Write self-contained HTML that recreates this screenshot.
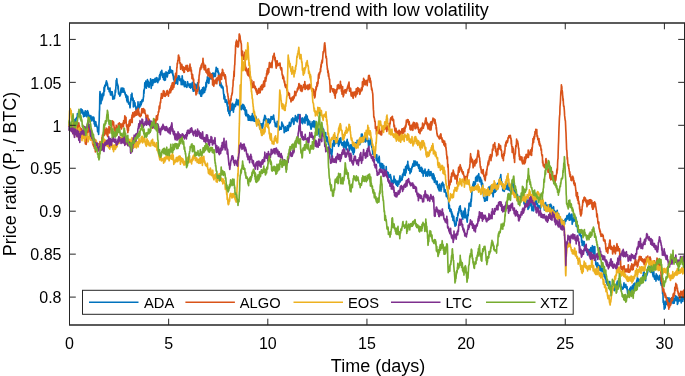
<!DOCTYPE html>
<html><head><meta charset="utf-8"><style>html,body{margin:0;padding:0;background:#fff;overflow:hidden}svg{display:block;will-change:transform}</style></head>
<body><svg width="685" height="376" viewBox="0 0 685 376"><rect x="0" y="0" width="685" height="376" fill="#fff"/><path d="M69.0 125.5 69.2 123.0 69.4 125.0 69.6 126.5 69.8 125.5 70.0 127.5 70.2 123.3 70.4 128.4 70.6 126.3 70.8 129.2 71.0 127.9 71.2 130.5 71.4 128.4 71.6 126.7 71.8 127.6 72.0 129.6 72.2 128.0 72.4 131.6 72.6 130.4 72.8 127.8 73.0 124.3 73.2 124.7 73.4 124.3 73.6 128.0 73.8 126.2 74.0 124.1 74.2 122.3 74.4 119.9 74.6 122.1 74.8 120.2 75.0 122.3 75.2 121.1 75.4 119.0 75.6 120.9 75.8 123.4 76.0 119.5 76.2 118.3 76.4 118.7 76.6 117.5 76.8 117.3 77.0 117.0 77.2 118.4 77.4 113.6 77.6 114.2 77.8 114.6 78.0 113.9 78.2 115.3 78.4 115.4 78.6 115.9 78.8 113.3 79.0 114.0 79.2 113.6 79.4 114.0 79.6 113.1 79.8 115.2 80.0 114.6 80.2 113.8 80.4 113.3 80.6 110.9 80.8 110.9 81.0 108.9 81.2 111.0 81.4 110.7 81.6 111.6 81.8 112.6 82.0 112.6 82.2 109.8 82.4 113.6 82.6 110.8 82.8 110.8 83.0 114.2 83.2 113.5 83.4 112.4 83.6 116.8 83.8 113.0 84.0 114.0 84.2 115.2 84.4 112.3 84.6 113.7 84.8 114.2 85.0 116.2 85.2 110.8 85.4 111.6 85.6 113.8 85.8 113.4 86.0 111.2 86.2 114.4 86.4 113.6 86.6 114.6 86.8 116.8 87.0 115.9 87.2 115.8 87.4 114.4 87.6 110.7 87.8 112.4 88.0 112.6 88.2 112.3 88.4 115.9 88.6 114.1 88.8 117.7 89.0 119.4 89.2 115.4 89.4 116.8 89.6 116.7 89.8 119.9 90.0 117.7 90.2 117.3 90.4 117.1 90.6 116.9 90.8 115.6 91.0 117.7 91.2 116.7 91.4 119.1 91.6 118.8 91.8 120.9 92.0 117.8 92.2 119.0 92.4 117.0 92.6 118.0 92.8 118.2 93.0 117.8 93.2 119.0 93.4 120.2 93.6 117.0 93.8 121.5 94.0 117.8 94.2 124.0 94.4 120.9 94.6 122.5 94.8 121.6 95.0 126.3 95.2 123.0 95.4 125.0 95.6 124.2 95.8 121.7 96.0 123.8 96.2 124.4 96.4 124.6 96.6 126.6 96.8 125.8 97.0 126.9 97.2 126.8 97.4 128.3 97.6 131.8 97.8 129.8 98.0 130.2 98.2 128.4 98.4 128.3 98.6 134.4 98.8 130.5 99.0 123.5 99.2 120.0 99.4 111.7 99.6 109.1 99.8 95.2 100.0 91.6 100.2 94.3 100.4 93.6 100.6 95.7 100.8 100.1 101.0 103.6 101.2 98.1 101.4 95.5 101.6 100.6 101.8 100.6 102.0 97.6 102.2 94.2 102.4 99.3 102.6 96.3 102.8 97.2 103.0 94.2 103.2 92.7 103.4 92.7 103.6 95.5 103.8 94.8 104.0 87.6 104.2 87.1 104.4 91.4 104.6 88.0 104.8 85.3 105.0 87.0 105.2 86.5 105.4 86.4 105.6 84.2 105.8 84.9 106.0 82.3 106.2 83.3 106.4 80.8 106.6 81.4 106.8 82.4 107.0 85.1 107.2 83.0 107.4 84.1 107.6 85.2 107.8 86.1 108.0 89.1 108.2 87.6 108.4 88.6 108.6 89.3 108.8 88.2 109.0 88.4 109.2 91.6 109.4 91.2 109.6 89.8 109.8 88.5 110.0 88.1 110.2 92.7 110.4 93.9 110.6 95.0 110.8 91.2 111.0 94.9 111.2 92.0 111.4 93.2 111.6 94.1 111.8 91.9 112.0 93.2 112.2 91.8 112.4 96.3 112.6 94.1 112.8 99.2 113.0 99.1 113.2 98.9 113.4 97.5 113.6 96.6 113.8 98.0 114.0 96.8 114.2 98.0 114.4 98.7 114.6 96.5 114.8 95.8 115.0 95.1 115.2 90.2 115.4 90.5 115.6 92.1 115.8 87.7 116.0 85.5 116.2 80.4 116.4 83.9 116.6 82.5 116.8 78.7 117.0 81.5 117.2 83.9 117.4 83.6 117.6 85.6 117.8 84.8 118.0 89.2 118.2 86.1 118.4 90.3 118.6 93.9 118.8 91.9 119.0 93.7 119.2 94.3 119.4 93.8 119.6 95.0 119.8 96.2 120.0 94.1 120.2 93.4 120.4 94.9 120.6 94.3 120.8 89.9 121.0 89.5 121.2 88.0 121.4 91.9 121.6 92.1 121.8 92.4 122.0 89.6 122.2 88.5 122.4 90.0 122.6 88.1 122.8 88.1 123.0 90.6 123.2 92.2 123.4 92.1 123.6 90.1 123.8 88.5 124.0 91.2 124.2 91.5 124.4 90.8 124.6 92.0 124.8 92.0 125.0 94.1 125.2 92.9 125.4 95.3 125.6 94.6 125.8 95.8 126.0 97.3 126.2 94.9 126.4 95.0 126.6 97.9 126.8 100.6 127.0 99.3 127.2 102.0 127.4 98.3 127.6 98.3 127.8 96.2 128.0 98.9 128.2 101.9 128.4 101.2 128.6 103.9 128.8 104.0 129.0 102.8 129.2 103.2 129.4 104.2 129.6 104.6 129.8 105.2 130.0 107.8 130.2 105.8 130.4 102.1 130.6 102.1 130.8 98.5 131.0 99.3 131.2 94.5 131.4 95.4 131.6 99.4 131.8 95.4 132.0 93.2 132.2 97.6 132.4 100.1 132.6 97.8 132.8 98.4 133.0 98.2 133.2 99.6 133.4 106.9 133.6 101.6 133.8 100.5 134.0 100.7 134.2 103.0 134.4 103.5 134.6 104.9 134.8 104.9 135.0 102.7 135.2 106.6 135.4 105.7 135.6 106.8 135.8 107.3 136.0 109.9 136.2 110.3 136.4 110.3 136.6 108.9 136.8 109.9 137.0 109.2 137.2 107.7 137.4 108.2 137.6 106.0 137.8 108.3 138.0 101.9 138.2 105.9 138.4 105.8 138.6 107.9 138.8 109.0 139.0 105.3 139.2 106.3 139.4 104.3 139.6 107.5 139.8 105.8 140.0 104.8 140.2 101.8 140.4 103.1 140.6 106.0 140.8 104.4 141.0 104.0 141.2 104.4 141.4 101.4 141.6 103.3 141.8 100.5 142.0 101.9 142.2 99.7 142.4 101.7 142.6 100.6 142.8 101.4 143.0 100.8 143.2 99.5 143.4 97.1 143.6 96.9 143.8 90.4 144.0 93.5 144.2 89.4 144.4 89.4 144.6 87.9 144.8 82.8 145.0 84.1 145.2 86.9 145.4 87.2 145.6 83.1 145.8 81.0 146.0 86.7 146.2 82.3 146.4 88.1 146.6 83.7 146.8 81.8 147.0 82.6 147.2 85.2 147.4 79.5 147.6 85.9 147.8 83.8 148.0 86.2 148.2 83.2 148.4 81.4 148.6 85.2 148.8 85.9 149.0 87.5 149.2 87.1 149.4 85.0 149.6 82.7 149.8 82.7 150.0 84.5 150.2 83.5 150.4 83.6 150.6 78.9 150.8 84.0 151.0 83.0 151.2 88.5 151.4 84.7 151.6 83.0 151.8 84.3 152.0 80.5 152.2 82.0 152.4 79.7 152.6 85.4 152.8 83.9 153.0 79.8 153.2 81.4 153.4 82.9 153.6 83.0 153.8 81.8 154.0 79.6 154.2 81.0 154.4 81.4 154.6 81.3 154.8 78.8 155.0 79.8 155.2 82.2 155.4 78.2 155.6 81.0 155.8 78.9 156.0 80.6 156.2 81.6 156.4 79.5 156.6 80.6 156.8 77.5 157.0 78.6 157.2 80.1 157.4 80.7 157.6 79.0 157.8 82.7 158.0 79.5 158.2 79.3 158.4 80.7 158.6 79.1 158.8 80.8 159.0 78.2 159.2 79.8 159.4 75.5 159.6 76.7 159.8 74.3 160.0 79.1 160.2 74.7 160.4 76.2 160.6 72.0 160.8 75.2 161.0 74.9 161.2 71.3 161.4 74.3 161.6 73.0 161.8 70.4 162.0 73.7 162.2 73.6 162.4 73.1 162.6 77.3 162.8 75.3 163.0 74.7 163.2 75.1 163.4 74.2 163.6 79.6 163.8 74.0 164.0 78.2 164.2 78.4 164.4 73.4 164.6 75.0 164.8 80.4 165.0 78.4 165.2 78.9 165.4 79.9 165.6 76.7 165.8 74.7 166.0 71.8 166.2 75.3 166.4 74.0 166.6 75.7 166.8 75.7 167.0 72.8 167.2 77.0 167.4 76.0 167.6 75.3 167.8 72.5 168.0 74.0 168.2 72.6 168.4 73.2 168.6 70.9 168.8 73.0 169.0 72.6 169.2 71.0 169.4 69.9 169.6 73.2 169.8 71.5 170.0 66.6 170.2 69.5 170.4 70.6 170.6 72.1 170.8 70.6 171.0 70.0 171.2 70.0 171.4 72.7 171.6 71.3 171.8 71.0 172.0 71.8 172.2 72.7 172.4 71.9 172.6 70.7 172.8 75.2 173.0 73.9 173.2 75.8 173.4 77.0 173.6 79.3 173.8 79.8 174.0 76.2 174.2 78.0 174.4 77.9 174.6 84.1 174.8 82.9 175.0 83.4 175.2 82.2 175.4 79.8 175.6 83.5 175.8 82.1 176.0 81.2 176.2 80.1 176.4 81.9 176.6 81.0 176.8 77.5 177.0 83.2 177.2 81.8 177.4 81.4 177.6 84.3 177.8 81.4 178.0 78.3 178.2 75.9 178.4 79.2 178.6 79.5 178.8 79.2 179.0 76.1 179.2 76.4 179.4 76.1 179.6 78.6 179.8 80.3 180.0 80.6 180.2 78.8 180.4 80.0 180.6 79.5 180.8 79.0 181.0 80.1 181.2 84.7 181.4 80.6 181.6 81.9 181.8 79.8 182.0 80.3 182.2 75.9 182.4 78.9 182.6 82.4 182.8 84.8 183.0 83.4 183.2 83.2 183.4 83.6 183.6 80.4 183.8 81.6 184.0 84.0 184.2 83.1 184.4 86.6 184.6 83.4 184.8 82.0 185.0 83.7 185.2 81.7 185.4 81.7 185.6 86.3 185.8 85.7 186.0 85.8 186.2 86.9 186.4 86.9 186.6 85.0 186.8 87.5 187.0 87.1 187.2 85.1 187.4 85.2 187.6 81.7 187.8 83.1 188.0 84.8 188.2 85.2 188.4 84.1 188.6 83.9 188.8 84.3 189.0 86.1 189.2 85.7 189.4 87.1 189.6 84.1 189.8 85.4 190.0 86.2 190.2 86.5 190.4 85.3 190.6 88.1 190.8 84.4 191.0 83.7 191.2 86.2 191.4 87.3 191.6 84.5 191.8 85.9 192.0 84.0 192.2 83.2 192.4 82.3 192.6 84.3 192.8 89.6 193.0 86.7 193.2 91.2 193.4 87.0 193.6 89.7 193.8 91.2 194.0 89.8 194.2 89.3 194.4 85.5 194.6 87.3 194.8 83.9 195.0 90.5 195.2 85.5 195.4 86.3 195.6 84.6 195.8 86.5 196.0 85.0 196.2 89.4 196.4 86.7 196.6 87.9 196.8 85.1 197.0 85.6 197.2 87.9 197.4 84.2 197.6 82.9 197.8 87.3 198.0 83.5 198.2 83.8 198.4 85.8 198.6 85.8 198.8 89.7 199.0 87.3 199.2 91.7 199.4 93.7 199.6 90.7 199.8 91.9 200.0 91.1 200.2 93.0 200.4 93.6 200.6 91.0 200.8 96.1 201.0 92.7 201.2 93.8 201.4 89.9 201.6 96.3 201.8 92.5 202.0 92.8 202.2 91.5 202.4 92.6 202.6 87.9 202.8 90.6 203.0 93.8 203.2 89.1 203.4 89.4 203.6 88.2 203.8 87.1 204.0 88.7 204.2 91.4 204.4 92.2 204.6 92.5 204.8 89.6 205.0 89.8 205.2 88.2 205.4 90.0 205.6 88.9 205.8 85.4 206.0 82.3 206.2 87.0 206.4 86.3 206.6 82.7 206.8 80.2 207.0 80.4 207.2 82.5 207.4 76.9 207.6 77.2 207.8 79.5 208.0 82.5 208.2 81.1 208.4 81.1 208.6 79.0 208.8 83.4 209.0 82.0 209.2 79.5 209.4 77.2 209.6 77.3 209.8 79.1 210.0 75.5 210.2 77.4 210.4 78.4 210.6 77.9 210.8 77.9 211.0 77.8 211.2 75.9 211.4 75.3 211.6 79.0 211.8 73.9 212.0 74.9 212.2 77.2 212.4 76.4 212.6 74.3 212.8 73.0 213.0 77.5 213.2 76.3 213.4 76.3 213.6 73.6 213.8 75.9 214.0 73.2 214.2 76.5 214.4 73.6 214.6 75.7 214.8 76.4 215.0 76.2 215.2 73.5 215.4 76.2 215.6 71.4 215.8 70.1 216.0 70.0 216.2 67.3 216.4 70.1 216.6 70.9 216.8 70.9 217.0 71.5 217.2 70.4 217.4 71.0 217.6 68.5 217.8 72.3 218.0 71.2 218.2 70.9 218.4 73.2 218.6 74.5 218.8 72.9 219.0 74.2 219.2 77.8 219.4 81.0 219.6 81.9 219.8 83.9 220.0 85.7 220.2 83.6 220.4 83.3 220.6 82.2 220.8 83.2 221.0 83.3 221.2 86.8 221.4 87.6 221.6 86.7 221.8 85.4 222.0 87.1 222.2 87.1 222.4 87.2 222.6 88.0 222.8 86.7 223.0 87.2 223.2 89.6 223.4 91.6 223.6 94.3 223.8 94.1 224.0 99.0 224.2 94.5 224.4 97.2 224.6 98.0 224.8 96.4 225.0 99.5 225.2 102.3 225.4 101.1 225.6 101.3 225.8 100.2 226.0 100.0 226.2 102.4 226.4 101.4 226.6 100.1 226.8 101.4 227.0 104.5 227.2 105.0 227.4 106.4 227.6 102.2 227.8 108.9 228.0 111.1 228.2 109.2 228.4 106.7 228.6 108.3 228.8 113.5 229.0 111.8 229.2 113.3 229.4 110.5 229.6 114.8 229.8 115.6 230.0 109.0 230.2 112.0 230.4 110.1 230.6 109.5 230.8 109.7 231.0 108.0 231.2 109.1 231.4 104.4 231.6 107.9 231.8 110.2 232.0 107.6 232.2 107.7 232.4 105.1 232.6 103.4 232.8 107.6 233.0 107.5 233.2 107.8 233.4 112.2 233.6 108.0 233.8 107.1 234.0 109.1 234.2 104.8 234.4 104.4 234.6 105.7 234.8 104.6 235.0 106.6 235.2 104.5 235.4 106.4 235.6 105.7 235.8 105.1 236.0 101.9 236.2 103.0 236.4 103.6 236.6 99.3 236.8 101.4 237.0 100.6 237.2 100.6 237.4 104.8 237.6 103.6 237.8 100.6 238.0 101.8 238.2 100.0 238.4 101.2 238.6 100.3 238.8 103.4 239.0 104.3 239.2 105.7 239.4 103.6 239.6 102.1 239.8 108.3 240.0 105.5 240.2 108.8 240.4 107.1 240.6 105.7 240.8 108.8 241.0 107.4 241.2 109.6 241.4 105.3 241.6 108.1 241.8 106.0 242.0 105.6 242.2 105.8 242.4 107.7 242.6 108.6 242.8 104.3 243.0 106.9 243.2 104.8 243.4 109.2 243.6 106.7 243.8 107.0 244.0 105.4 244.2 108.2 244.4 110.1 244.6 107.6 244.8 108.9 245.0 107.4 245.2 112.0 245.4 114.4 245.6 113.1 245.8 115.7 246.0 110.4 246.2 110.0 246.4 110.2 246.6 112.6 246.8 113.4 247.0 114.0 247.2 115.0 247.4 116.7 247.6 116.9 247.8 114.6 248.0 115.3 248.2 120.1 248.4 114.7 248.6 119.7 248.8 120.2 249.0 117.5 249.2 115.9 249.4 117.8 249.6 119.7 249.8 120.1 250.0 116.9 250.2 119.6 250.4 120.0 250.6 119.2 250.8 120.5 251.0 116.8 251.2 116.1 251.4 119.0 251.6 120.5 251.8 119.3 252.0 117.8 252.2 120.5 252.4 113.5 252.6 116.8 252.8 115.0 253.0 117.2 253.2 117.3 253.4 120.7 253.6 117.0 253.8 117.7 254.0 116.7 254.2 121.2 254.4 119.4 254.6 120.6 254.8 118.2 255.0 118.4 255.2 121.5 255.4 119.1 255.6 120.8 255.8 119.7 256.0 118.6 256.2 117.0 256.4 120.6 256.6 121.2 256.8 122.8 257.0 119.7 257.2 121.2 257.4 119.7 257.6 121.2 257.8 124.7 258.0 123.9 258.2 122.9 258.4 122.8 258.6 124.7 258.8 121.8 259.0 124.4 259.2 124.3 259.4 121.0 259.6 124.7 259.8 128.8 260.0 125.7 260.2 125.4 260.4 124.7 260.6 123.9 260.8 126.6 261.0 127.0 261.2 125.8 261.4 124.2 261.6 128.0 261.8 124.6 262.0 123.8 262.2 127.7 262.4 128.5 262.6 123.6 262.8 127.2 263.0 124.8 263.2 122.5 263.4 123.8 263.6 119.9 263.8 119.7 264.0 120.2 264.2 117.8 264.4 119.8 264.6 116.3 264.8 115.4 265.0 115.8 265.2 116.6 265.4 116.2 265.6 121.0 265.8 119.9 266.0 118.3 266.2 119.0 266.4 119.8 266.6 119.7 266.8 121.1 267.0 123.3 267.2 120.7 267.4 122.9 267.6 125.0 267.8 121.0 268.0 119.5 268.2 118.8 268.4 119.3 268.6 120.6 268.8 119.3 269.0 120.4 269.2 123.7 269.4 122.0 269.6 119.4 269.8 122.9 270.0 122.5 270.2 122.7 270.4 121.2 270.6 119.0 270.8 120.9 271.0 116.5 271.2 118.4 271.4 117.3 271.6 118.9 271.8 116.8 272.0 118.2 272.2 117.2 272.4 118.3 272.6 119.2 272.8 117.4 273.0 118.3 273.2 116.1 273.4 118.5 273.6 115.1 273.8 117.9 274.0 118.2 274.2 119.4 274.4 120.8 274.6 122.6 274.8 122.9 275.0 122.2 275.2 125.3 275.4 126.5 275.6 125.5 275.8 125.0 276.0 125.5 276.2 124.2 276.4 125.0 276.6 126.9 276.8 126.2 277.0 123.9 277.2 121.3 277.4 123.3 277.6 122.3 277.8 125.6 278.0 123.9 278.2 125.0 278.4 127.2 278.6 125.6 278.8 126.3 279.0 129.2 279.2 129.9 279.4 127.8 279.6 128.9 279.8 127.2 280.0 129.2 280.2 128.2 280.4 128.1 280.6 127.4 280.8 127.8 281.0 128.9 281.2 129.2 281.4 129.0 281.6 126.9 281.8 122.0 282.0 124.0 282.2 123.6 282.4 123.4 282.6 124.7 282.8 126.2 283.0 124.8 283.2 126.1 283.4 125.4 283.6 126.7 283.8 127.9 284.0 128.8 284.2 132.7 284.4 128.8 284.6 132.2 284.8 131.2 285.0 128.8 285.2 127.9 285.4 126.9 285.6 127.8 285.8 131.1 286.0 129.2 286.2 130.3 286.4 131.2 286.6 131.1 286.8 130.7 287.0 129.4 287.2 128.6 287.4 125.5 287.6 128.6 287.8 128.5 288.0 125.9 288.2 130.5 288.4 125.7 288.6 126.6 288.8 128.0 289.0 124.3 289.2 124.5 289.4 122.3 289.6 125.0 289.8 124.3 290.0 124.9 290.2 126.5 290.4 125.8 290.6 126.1 290.8 124.9 291.0 122.9 291.2 123.3 291.4 120.3 291.6 119.0 291.8 121.6 292.0 120.4 292.2 119.9 292.4 121.4 292.6 120.8 292.8 117.9 293.0 120.9 293.2 120.0 293.4 123.2 293.6 121.5 293.8 124.4 294.0 123.6 294.2 119.8 294.4 121.1 294.6 118.4 294.8 118.7 295.0 118.6 295.2 118.2 295.4 115.6 295.6 119.1 295.8 120.4 296.0 119.9 296.2 120.5 296.4 117.0 296.6 119.7 296.8 118.4 297.0 121.6 297.2 121.9 297.4 120.9 297.6 118.0 297.8 117.8 298.0 114.5 298.2 115.4 298.4 118.8 298.6 116.3 298.8 114.5 299.0 115.3 299.2 115.9 299.4 118.0 299.6 117.4 299.8 117.5 300.0 114.5 300.2 118.3 300.4 120.3 300.6 121.5 300.8 122.1 301.0 119.4 301.2 122.4 301.4 122.2 301.6 119.2 301.8 118.6 302.0 123.0 302.2 117.8 302.4 122.0 302.6 123.7 302.8 119.3 303.0 122.1 303.2 121.8 303.4 120.8 303.6 119.8 303.8 122.0 304.0 118.8 304.2 118.1 304.4 121.1 304.6 118.4 304.8 117.1 305.0 123.3 305.2 117.9 305.4 117.3 305.6 118.4 305.8 117.0 306.0 114.6 306.2 120.5 306.4 117.1 306.6 116.6 306.8 117.0 307.0 116.8 307.2 116.0 307.4 118.6 307.6 125.0 307.8 121.6 308.0 123.0 308.2 119.3 308.4 121.5 308.6 120.3 308.8 124.3 309.0 123.9 309.2 124.7 309.4 123.8 309.6 122.5 309.8 121.4 310.0 125.3 310.2 123.6 310.4 124.3 310.6 126.7 310.8 127.5 311.0 129.2 311.2 128.9 311.4 126.5 311.6 124.9 311.8 123.5 312.0 125.8 312.2 121.8 312.4 126.7 312.6 125.4 312.8 124.5 313.0 126.0 313.2 125.1 313.4 126.6 313.6 126.6 313.8 120.8 314.0 125.7 314.2 127.0 314.4 125.2 314.6 124.9 314.8 122.7 315.0 121.4 315.2 123.9 315.4 126.5 315.6 129.2 315.8 127.2 316.0 129.8 316.2 132.1 316.4 127.5 316.6 129.7 316.8 134.1 317.0 135.0 317.2 131.2 317.4 132.6 317.6 130.0 317.8 131.1 318.0 128.5 318.2 133.1 318.4 129.0 318.6 134.0 318.8 133.2 319.0 133.3 319.2 131.1 319.4 136.6 319.6 132.4 319.8 133.7 320.0 128.9 320.2 133.4 320.4 133.5 320.6 131.5 320.8 133.7 321.0 134.0 321.2 134.2 321.4 133.5 321.6 136.0 321.8 132.2 322.0 130.9 322.2 131.3 322.4 126.7 322.6 128.8 322.8 130.6 323.0 130.2 323.2 129.5 323.4 134.0 323.6 129.3 323.8 132.1 324.0 133.7 324.2 134.3 324.4 134.3 324.6 137.2 324.8 138.2 325.0 133.9 325.2 136.7 325.4 133.9 325.6 132.5 325.8 136.2 326.0 136.5 326.2 137.9 326.4 136.6 326.6 138.3 326.8 141.3 327.0 141.6 327.2 139.5 327.4 137.2 327.6 140.4 327.8 139.6 328.0 141.1 328.2 142.5 328.4 144.3 328.6 143.9 328.8 144.1 329.0 141.8 329.2 145.7 329.4 147.1 329.6 148.9 329.8 149.0 330.0 148.4 330.2 152.3 330.4 150.1 330.6 151.2 330.8 153.6 331.0 149.7 331.2 153.5 331.4 154.7 331.6 154.2 331.8 157.1 332.0 152.4 332.2 152.0 332.4 147.3 332.6 143.9 332.8 145.1 333.0 144.0 333.2 143.1 333.4 144.3 333.6 140.4 333.8 142.2 334.0 142.2 334.2 146.3 334.4 142.8 334.6 143.6 334.8 141.3 335.0 144.0 335.2 140.5 335.4 141.4 335.6 139.3 335.8 143.5 336.0 142.3 336.2 141.5 336.4 141.3 336.6 137.7 336.8 139.0 337.0 142.6 337.2 142.5 337.4 140.5 337.6 141.5 337.8 140.3 338.0 143.0 338.2 144.0 338.4 143.5 338.6 146.3 338.8 140.9 339.0 141.6 339.2 144.7 339.4 140.3 339.6 138.6 339.8 142.9 340.0 142.0 340.2 140.1 340.4 142.2 340.6 138.9 340.8 137.9 341.0 140.9 341.2 142.5 341.4 142.8 341.6 144.0 341.8 144.8 342.0 145.3 342.2 144.4 342.4 142.9 342.6 143.5 342.8 143.7 343.0 142.6 343.2 144.5 343.4 147.1 343.6 146.1 343.8 142.1 344.0 144.0 344.2 141.0 344.4 144.7 344.6 143.6 344.8 145.5 345.0 147.6 345.2 145.4 345.4 146.6 345.6 142.4 345.8 142.7 346.0 145.8 346.2 149.7 346.4 144.5 346.6 142.7 346.8 140.9 347.0 144.0 347.2 139.4 347.4 141.8 347.6 144.6 347.8 141.8 348.0 145.6 348.2 145.4 348.4 142.9 348.6 144.2 348.8 145.9 349.0 146.9 349.2 150.1 349.4 150.5 349.6 149.5 349.8 148.7 350.0 146.7 350.2 148.1 350.4 145.0 350.6 146.5 350.8 148.3 351.0 146.4 351.2 144.7 351.4 145.0 351.6 149.1 351.8 150.2 352.0 146.0 352.2 147.0 352.4 148.4 352.6 152.2 352.8 147.3 353.0 150.4 353.2 150.2 353.4 154.5 353.6 151.7 353.8 151.7 354.0 150.3 354.2 152.5 354.4 150.6 354.6 146.6 354.8 147.6 355.0 144.7 355.2 145.6 355.4 142.7 355.6 144.2 355.8 145.8 356.0 145.6 356.2 147.1 356.4 146.9 356.6 145.3 356.8 143.8 357.0 144.6 357.2 140.3 357.4 142.9 357.6 144.8 357.8 145.1 358.0 145.5 358.2 142.9 358.4 142.1 358.6 141.6 358.8 143.0 359.0 141.8 359.2 141.3 359.4 140.2 359.6 139.9 359.8 144.6 360.0 142.9 360.2 141.1 360.4 139.8 360.6 141.1 360.8 142.7 361.0 137.1 361.2 138.6 361.4 134.2 361.6 135.0 361.8 139.1 362.0 138.6 362.2 134.1 362.4 136.0 362.6 138.5 362.8 138.1 363.0 138.0 363.2 138.7 363.4 139.4 363.6 141.8 363.8 141.3 364.0 139.1 364.2 139.7 364.4 139.2 364.6 139.1 364.8 139.7 365.0 141.6 365.2 137.0 365.4 141.9 365.6 141.4 365.8 140.5 366.0 140.9 366.2 140.8 366.4 140.2 366.6 136.3 366.8 137.4 367.0 136.8 367.2 140.6 367.4 140.4 367.6 137.7 367.8 141.1 368.0 141.4 368.2 142.5 368.4 143.9 368.6 147.9 368.8 140.7 369.0 145.6 369.2 144.8 369.4 141.2 369.6 142.2 369.8 141.7 370.0 142.4 370.2 142.5 370.4 138.4 370.6 143.1 370.8 140.3 371.0 144.9 371.2 142.9 371.4 145.0 371.6 146.3 371.8 147.4 372.0 146.3 372.2 146.9 372.4 150.0 372.6 150.7 372.8 154.2 373.0 149.7 373.2 151.3 373.4 153.5 373.6 149.7 373.8 151.3 374.0 154.7 374.2 154.4 374.4 150.3 374.6 154.7 374.8 155.2 375.0 154.3 375.2 154.3 375.4 156.3 375.6 155.4 375.8 155.8 376.0 158.3 376.2 156.9 376.4 160.4 376.6 158.3 376.8 154.7 377.0 158.3 377.2 160.9 377.4 161.1 377.6 161.3 377.8 159.4 378.0 162.8 378.2 159.2 378.4 161.2 378.6 159.3 378.8 157.5 379.0 161.7 379.2 156.2 379.4 159.2 379.6 163.6 379.8 162.7 380.0 166.1 380.2 165.2 380.4 165.4 380.6 168.4 380.8 164.6 381.0 164.8 381.2 163.3 381.4 165.1 381.6 167.4 381.8 167.2 382.0 166.5 382.2 165.5 382.4 168.6 382.6 163.9 382.8 165.6 383.0 166.4 383.2 166.0 383.4 167.6 383.6 166.2 383.8 165.5 384.0 170.1 384.2 170.0 384.4 170.0 384.6 170.1 384.8 172.9 385.0 172.5 385.2 174.4 385.4 175.2 385.6 170.6 385.8 171.7 386.0 171.8 386.2 166.5 386.4 170.8 386.6 171.8 386.8 174.1 387.0 171.6 387.2 174.5 387.4 175.1 387.6 172.1 387.8 174.5 388.0 174.8 388.2 173.6 388.4 172.7 388.6 178.0 388.8 175.2 389.0 174.9 389.2 175.6 389.4 175.8 389.6 177.2 389.8 176.3 390.0 176.3 390.2 175.7 390.4 174.6 390.6 176.0 390.8 178.8 391.0 176.9 391.2 183.5 391.4 179.8 391.6 179.2 391.8 183.5 392.0 183.0 392.2 181.9 392.4 180.8 392.6 181.6 392.8 183.1 393.0 181.7 393.2 180.7 393.4 182.3 393.6 183.3 393.8 181.0 394.0 176.0 394.2 179.2 394.4 179.9 394.6 178.8 394.8 180.6 395.0 181.6 395.2 182.4 395.4 179.8 395.6 181.2 395.8 184.2 396.0 181.6 396.2 182.6 396.4 184.5 396.6 185.2 396.8 181.0 397.0 184.6 397.2 181.9 397.4 183.2 397.6 186.3 397.8 184.3 398.0 181.0 398.2 183.6 398.4 183.5 398.6 183.4 398.8 184.5 399.0 183.1 399.2 181.6 399.4 179.6 399.6 178.5 399.8 177.5 400.0 175.9 400.2 181.9 400.4 178.3 400.6 179.0 400.8 180.2 401.0 180.5 401.2 178.9 401.4 178.9 401.6 178.4 401.8 180.3 402.0 176.5 402.2 179.8 402.4 174.8 402.6 174.6 402.8 177.1 403.0 174.1 403.2 173.1 403.4 174.4 403.6 172.9 403.8 174.9 404.0 169.3 404.2 172.1 404.4 172.2 404.6 174.0 404.8 174.1 405.0 170.5 405.2 175.5 405.4 171.0 405.6 166.6 405.8 167.3 406.0 172.9 406.2 170.1 406.4 168.0 406.6 166.6 406.8 165.0 407.0 168.7 407.2 166.9 407.4 167.7 407.6 165.4 407.8 161.4 408.0 167.6 408.2 165.9 408.4 165.0 408.6 170.1 408.8 166.7 409.0 169.5 409.2 168.2 409.4 168.8 409.6 170.7 409.8 170.3 410.0 173.6 410.2 171.7 410.4 169.1 410.6 171.2 410.8 170.6 411.0 168.7 411.2 172.0 411.4 169.8 411.6 169.6 411.8 167.1 412.0 166.8 412.2 167.7 412.4 166.2 412.6 165.5 412.8 164.1 413.0 166.4 413.2 163.4 413.4 166.2 413.6 166.2 413.8 164.2 414.0 160.9 414.2 163.7 414.4 165.8 414.6 162.8 414.8 165.9 415.0 165.3 415.2 164.6 415.4 162.5 415.6 161.2 415.8 162.3 416.0 162.4 416.2 164.0 416.4 164.7 416.6 165.0 416.8 165.1 417.0 164.3 417.2 162.0 417.4 163.5 417.6 164.4 417.8 165.2 418.0 166.1 418.2 166.5 418.4 165.8 418.6 168.3 418.8 167.7 419.0 164.5 419.2 167.9 419.4 165.2 419.6 171.2 419.8 167.4 420.0 168.1 420.2 168.5 420.4 167.5 420.6 169.5 420.8 171.5 421.0 167.8 421.2 167.8 421.4 170.5 421.6 167.4 421.8 172.7 422.0 170.2 422.2 171.0 422.4 168.9 422.6 173.5 422.8 172.2 423.0 171.4 423.2 176.3 423.4 172.6 423.6 171.4 423.8 171.9 424.0 170.8 424.2 171.8 424.4 171.6 424.6 171.3 424.8 173.2 425.0 169.1 425.2 171.4 425.4 172.1 425.6 173.3 425.8 176.2 426.0 174.8 426.2 172.0 426.4 173.2 426.6 175.3 426.8 173.9 427.0 174.8 427.2 175.3 427.4 171.7 427.6 176.2 427.8 174.4 428.0 174.2 428.2 170.7 428.4 170.3 428.6 169.5 428.8 172.3 429.0 172.8 429.2 172.8 429.4 174.9 429.6 175.8 429.8 172.3 430.0 171.8 430.2 175.4 430.4 171.9 430.6 175.5 430.8 175.5 431.0 171.6 431.2 173.1 431.4 173.0 431.6 173.7 431.8 173.6 432.0 174.8 432.2 178.1 432.4 177.7 432.6 177.3 432.8 176.9 433.0 174.5 433.2 179.6 433.4 173.7 433.6 176.4 433.8 178.1 434.0 175.0 434.2 179.3 434.4 182.4 434.6 177.6 434.8 179.7 435.0 177.7 435.2 181.4 435.4 180.3 435.6 180.9 435.8 182.2 436.0 182.0 436.2 184.1 436.4 183.3 436.6 181.3 436.8 183.9 437.0 183.3 437.2 181.3 437.4 186.0 437.6 185.4 437.8 187.6 438.0 184.9 438.2 186.2 438.4 188.5 438.6 189.4 438.8 189.8 439.0 185.5 439.2 190.9 439.4 186.9 439.6 184.1 439.8 186.5 440.0 185.9 440.2 187.4 440.4 186.2 440.6 187.6 440.8 185.7 441.0 191.2 441.2 187.7 441.4 189.5 441.6 183.5 441.8 187.4 442.0 185.0 442.2 185.9 442.4 185.6 442.6 182.2 442.8 182.9 443.0 184.3 443.2 184.6 443.4 184.8 443.6 184.3 443.8 184.4 444.0 187.8 444.2 191.9 444.4 189.7 444.6 189.6 444.8 190.5 445.0 191.0 445.2 189.7 445.4 191.9 445.6 192.3 445.8 193.1 446.0 192.2 446.2 195.6 446.4 196.7 446.6 193.4 446.8 194.3 447.0 196.7 447.2 195.1 447.4 196.5 447.6 196.8 447.8 197.4 448.0 198.8 448.2 197.9 448.4 199.4 448.6 199.4 448.8 208.4 449.0 206.0 449.2 205.1 449.4 205.2 449.6 208.7 449.8 210.1 450.0 211.5 450.2 211.4 450.4 208.9 450.6 211.7 450.8 211.2 451.0 209.2 451.2 211.5 451.4 213.8 451.6 214.3 451.8 211.7 452.0 217.0 452.2 215.1 452.4 213.8 452.6 214.8 452.8 215.8 453.0 220.5 453.2 219.3 453.4 218.7 453.6 220.4 453.8 216.3 454.0 220.6 454.2 222.2 454.4 220.8 454.6 223.7 454.8 224.5 455.0 226.2 455.2 226.2 455.4 224.9 455.6 224.5 455.8 225.4 456.0 225.3 456.2 224.3 456.4 219.8 456.6 217.9 456.8 218.9 457.0 218.7 457.2 220.7 457.4 218.2 457.6 216.4 457.8 213.5 458.0 215.8 458.2 212.6 458.4 211.7 458.6 211.5 458.8 212.9 459.0 208.4 459.2 209.5 459.4 210.2 459.6 206.5 459.8 209.0 460.0 207.5 460.2 205.8 460.4 208.3 460.6 209.5 460.8 211.4 461.0 210.9 461.2 213.3 461.4 214.6 461.6 210.9 461.8 216.3 462.0 214.0 462.2 216.5 462.4 217.4 462.6 218.8 462.8 219.2 463.0 213.1 463.2 217.0 463.4 215.2 463.6 211.2 463.8 214.8 464.0 214.3 464.2 212.4 464.4 212.0 464.6 217.8 464.8 210.6 465.0 208.2 465.2 209.6 465.4 212.6 465.6 212.1 465.8 214.7 466.0 215.0 466.2 218.3 466.4 216.8 466.6 216.1 466.8 218.3 467.0 220.7 467.2 222.2 467.4 219.5 467.6 216.9 467.8 214.4 468.0 214.0 468.2 215.6 468.4 209.4 468.6 210.8 468.8 210.4 469.0 203.4 469.2 204.4 469.4 204.6 469.6 205.3 469.8 205.6 470.0 205.6 470.2 204.6 470.4 202.0 470.6 202.5 470.8 206.4 471.0 199.1 471.2 201.9 471.4 199.8 471.6 196.1 471.8 194.0 472.0 188.7 472.2 188.4 472.4 188.4 472.6 186.4 472.8 185.0 473.0 184.3 473.2 183.6 473.4 184.0 473.6 181.9 473.8 185.7 474.0 187.0 474.2 187.1 474.4 186.2 474.6 183.6 474.8 184.9 475.0 181.9 475.2 181.9 475.4 184.1 475.6 177.7 475.8 180.5 476.0 179.0 476.2 178.9 476.4 176.4 476.6 180.0 476.8 179.0 477.0 181.2 477.2 180.9 477.4 176.1 477.6 176.5 477.8 176.3 478.0 175.1 478.2 175.1 478.4 175.7 478.6 175.1 478.8 173.7 479.0 178.1 479.2 181.2 479.4 178.8 479.6 178.4 479.8 181.8 480.0 180.4 480.2 177.2 480.4 177.6 480.6 181.1 480.8 178.7 481.0 181.1 481.2 182.9 481.4 184.6 481.6 180.1 481.8 182.7 482.0 184.5 482.2 188.2 482.4 186.2 482.6 183.6 482.8 188.9 483.0 193.0 483.2 191.8 483.4 193.9 483.6 196.6 483.8 198.0 484.0 197.3 484.2 198.9 484.4 198.6 484.6 201.2 484.8 199.7 485.0 201.2 485.2 199.1 485.4 198.6 485.6 200.6 485.8 199.4 486.0 199.7 486.2 195.8 486.4 196.4 486.6 195.4 486.8 196.6 487.0 196.8 487.2 200.4 487.4 197.7 487.6 194.4 487.8 192.2 488.0 192.7 488.2 191.2 488.4 194.5 488.6 187.7 488.8 187.0 489.0 189.6 489.2 189.4 489.4 188.9 489.6 191.9 489.8 192.8 490.0 188.0 490.2 186.9 490.4 186.2 490.6 191.5 490.8 192.9 491.0 190.5 491.2 192.4 491.4 189.5 491.6 193.2 491.8 192.5 492.0 190.2 492.2 191.4 492.4 190.6 492.6 191.6 492.8 193.6 493.0 195.6 493.2 196.8 493.4 192.7 493.6 192.4 493.8 190.6 494.0 192.8 494.2 190.1 494.4 187.4 494.6 191.3 494.8 191.5 495.0 188.6 495.2 192.1 495.4 190.9 495.6 190.1 495.8 188.8 496.0 191.1 496.2 190.6 496.4 190.6 496.6 184.6 496.8 185.6 497.0 187.6 497.2 185.1 497.4 185.6 497.6 183.4 497.8 188.6 498.0 186.2 498.2 184.3 498.4 184.1 498.6 183.3 498.8 184.1 499.0 183.5 499.2 180.5 499.4 182.7 499.6 179.6 499.8 178.0 500.0 180.5 500.2 178.5 500.4 179.3 500.6 176.0 500.8 174.6 501.0 179.7 501.2 178.7 501.4 183.1 501.6 181.3 501.8 181.8 502.0 185.7 502.2 186.7 502.4 186.6 502.6 186.0 502.8 190.7 503.0 188.2 503.2 190.5 503.4 187.5 503.6 189.5 503.8 190.8 504.0 189.4 504.2 191.4 504.4 191.0 504.6 186.7 504.8 187.2 505.0 187.7 505.2 186.6 505.4 186.9 505.6 184.3 505.8 188.3 506.0 189.1 506.2 187.1 506.4 185.0 506.6 186.9 506.8 186.3 507.0 188.6 507.2 187.6 507.4 188.0 507.6 185.2 507.8 189.6 508.0 183.1 508.2 184.7 508.4 188.1 508.6 185.4 508.8 188.6 509.0 187.8 509.2 190.2 509.4 189.1 509.6 189.7 509.8 189.2 510.0 187.4 510.2 187.3 510.4 191.7 510.6 188.0 510.8 185.2 511.0 186.8 511.2 186.2 511.4 185.4 511.6 187.1 511.8 183.9 512.0 189.9 512.2 190.9 512.4 188.4 512.6 185.6 512.8 180.2 513.0 184.2 513.2 189.2 513.4 184.4 513.6 187.3 513.8 189.2 514.0 190.6 514.2 194.0 514.4 187.9 514.6 190.6 514.8 190.8 515.0 189.3 515.2 192.9 515.4 197.1 515.6 195.3 515.8 194.5 516.0 189.5 516.2 193.9 516.4 194.8 516.6 194.5 516.8 194.8 517.0 200.5 517.2 195.4 517.4 194.5 517.6 196.4 517.8 196.8 518.0 196.9 518.2 198.0 518.4 199.4 518.6 197.5 518.8 196.5 519.0 197.6 519.2 199.7 519.4 199.0 519.6 200.4 519.8 199.3 520.0 196.4 520.2 198.1 520.4 200.0 520.6 200.5 520.8 198.1 521.0 200.4 521.2 198.3 521.4 196.3 521.6 199.6 521.8 199.7 522.0 200.2 522.2 198.9 522.4 198.5 522.6 197.3 522.8 199.3 523.0 199.7 523.2 197.5 523.4 199.5 523.6 197.9 523.8 199.2 524.0 203.2 524.2 204.1 524.4 201.8 524.6 200.5 524.8 200.0 525.0 202.3 525.2 202.2 525.4 198.3 525.6 201.7 525.8 201.0 526.0 200.9 526.2 197.0 526.4 199.4 526.6 196.9 526.8 203.6 527.0 202.2 527.2 200.3 527.4 205.4 527.6 206.7 527.8 204.9 528.0 209.4 528.2 204.5 528.4 206.8 528.6 208.5 528.8 203.2 529.0 207.6 529.2 203.8 529.4 203.2 529.6 199.5 529.8 201.8 530.0 199.5 530.2 198.0 530.4 199.6 530.6 199.4 530.8 206.0 531.0 203.6 531.2 203.7 531.4 205.8 531.6 207.2 531.8 209.2 532.0 210.6 532.2 208.5 532.4 208.1 532.6 208.4 532.8 209.3 533.0 209.4 533.2 206.3 533.4 203.2 533.6 210.9 533.8 209.0 534.0 205.8 534.2 204.9 534.4 202.8 534.6 201.9 534.8 202.1 535.0 203.1 535.2 202.2 535.4 200.6 535.6 202.3 535.8 204.2 536.0 201.8 536.2 203.6 536.4 200.5 536.6 203.5 536.8 204.1 537.0 203.4 537.2 203.5 537.4 207.3 537.6 206.2 537.8 208.4 538.0 208.1 538.2 209.8 538.4 206.1 538.6 205.3 538.8 206.3 539.0 205.6 539.2 206.1 539.4 206.3 539.6 206.8 539.8 207.1 540.0 208.0 540.2 206.9 540.4 209.1 540.6 207.0 540.8 205.1 541.0 205.3 541.2 204.0 541.4 202.9 541.6 200.8 541.8 204.7 542.0 202.5 542.2 200.0 542.4 200.9 542.6 200.7 542.8 203.4 543.0 201.4 543.2 201.6 543.4 206.1 543.6 202.9 543.8 207.0 544.0 206.7 544.2 206.9 544.4 210.2 544.6 208.2 544.8 206.5 545.0 206.3 545.2 205.7 545.4 206.1 545.6 202.6 545.8 206.0 546.0 206.3 546.2 208.9 546.4 207.2 546.6 208.8 546.8 208.5 547.0 208.3 547.2 205.0 547.4 208.9 547.6 211.4 547.8 209.0 548.0 207.7 548.2 205.5 548.4 208.3 548.6 205.3 548.8 207.5 549.0 205.3 549.2 204.6 549.4 207.2 549.6 206.7 549.8 206.7 550.0 206.8 550.2 206.2 550.4 204.8 550.6 205.8 550.8 204.2 551.0 206.5 551.2 206.8 551.4 205.2 551.6 208.1 551.8 208.4 552.0 209.5 552.2 212.3 552.4 208.0 552.6 213.3 552.8 209.8 553.0 210.4 553.2 212.6 553.4 209.4 553.6 206.7 553.8 210.5 554.0 210.8 554.2 210.9 554.4 210.4 554.6 216.5 554.8 212.3 555.0 211.8 555.2 214.7 555.4 212.3 555.6 211.6 555.8 213.3 556.0 212.6 556.2 213.7 556.4 212.8 556.6 211.8 556.8 215.1 557.0 212.8 557.2 210.3 557.4 213.1 557.6 214.8 557.8 213.5 558.0 215.3 558.2 217.5 558.4 216.0 558.6 213.5 558.8 217.7 559.0 219.5 559.2 219.3 559.4 219.9 559.6 219.4 559.8 221.7 560.0 222.7 560.2 220.3 560.4 223.9 560.6 225.0 560.8 222.5 561.0 224.6 561.2 223.1 561.4 219.5 561.6 223.2 561.8 222.1 562.0 222.1 562.2 222.4 562.4 223.1 562.6 222.0 562.8 220.7 563.0 223.1 563.2 224.9 563.4 221.6 563.6 220.8 563.8 221.4 564.0 221.7 564.2 223.2 564.4 222.8 564.6 224.3 564.8 221.7 565.0 219.3 565.2 221.4 565.4 221.4 565.6 218.7 565.8 220.3 566.0 220.9 566.2 219.8 566.4 219.8 566.6 218.1 566.8 216.4 567.0 215.6 567.2 219.2 567.4 218.0 567.6 217.8 567.8 217.0 568.0 218.6 568.2 216.6 568.4 217.3 568.6 214.7 568.8 214.2 569.0 214.6 569.2 220.3 569.4 213.2 569.6 216.9 569.8 220.1 570.0 215.9 570.2 218.6 570.4 219.3 570.6 218.7 570.8 219.7 571.0 217.7 571.2 214.6 571.4 216.1 571.6 215.4 571.8 214.0 572.0 215.1 572.2 224.3 572.4 220.8 572.6 222.7 572.8 221.3 573.0 221.8 573.2 220.9 573.4 219.8 573.6 218.1 573.8 217.8 574.0 218.2 574.2 218.7 574.4 220.4 574.6 219.5 574.8 221.1 575.0 220.2 575.2 220.6 575.4 218.6 575.6 221.6 575.8 217.4 576.0 222.5 576.2 226.3 576.4 223.9 576.6 226.5 576.8 223.1 577.0 221.6 577.2 224.7 577.4 225.9 577.6 228.8 577.8 231.9 578.0 227.4 578.2 229.2 578.4 230.0 578.6 229.7 578.8 229.7 579.0 231.7 579.2 232.3 579.4 235.0 579.6 232.1 579.8 235.1 580.0 232.1 580.2 235.7 580.4 233.4 580.6 236.0 580.8 235.2 581.0 236.9 581.2 236.0 581.4 235.7 581.6 242.4 581.8 241.3 582.0 240.3 582.2 245.4 582.4 242.2 582.6 243.0 582.8 241.2 583.0 242.4 583.2 242.6 583.4 242.8 583.6 241.5 583.8 242.5 584.0 246.3 584.2 241.5 584.4 244.8 584.6 246.4 584.8 247.8 585.0 245.9 585.2 250.4 585.4 247.0 585.6 248.3 585.8 248.3 586.0 247.5 586.2 250.7 586.4 249.4 586.6 251.8 586.8 252.5 587.0 251.6 587.2 251.9 587.4 251.3 587.6 255.0 587.8 252.8 588.0 249.6 588.2 250.2 588.4 250.7 588.6 252.1 588.8 251.4 589.0 250.3 589.2 252.8 589.4 249.7 589.6 250.5 589.8 249.4 590.0 250.2 590.2 253.6 590.4 253.1 590.6 252.8 590.8 247.6 591.0 252.7 591.2 253.1 591.4 253.8 591.6 250.8 591.8 247.5 592.0 252.1 592.2 249.1 592.4 245.7 592.6 248.0 592.8 251.0 593.0 252.0 593.2 249.8 593.4 247.6 593.6 253.4 593.8 248.9 594.0 249.0 594.2 246.7 594.4 250.5 594.6 247.1 594.8 246.7 595.0 259.2 595.2 258.7 595.4 260.5 595.6 258.7 595.8 264.8 596.0 264.4 596.2 262.7 596.4 264.9 596.6 265.2 596.8 267.0 597.0 266.6 597.2 268.0 597.4 266.5 597.6 262.8 597.8 263.3 598.0 264.6 598.2 265.0 598.4 265.7 598.6 266.5 598.8 266.5 599.0 265.6 599.2 266.5 599.4 265.5 599.6 268.2 599.8 270.2 600.0 266.2 600.2 270.3 600.4 266.2 600.6 269.3 600.8 267.8 601.0 270.9 601.2 269.3 601.4 267.5 601.6 269.9 601.8 267.8 602.0 268.1 602.2 268.3 602.4 271.5 602.6 271.1 602.8 271.7 603.0 269.6 603.2 269.9 603.4 269.9 603.6 273.9 603.8 273.5 604.0 273.5 604.2 276.8 604.4 274.8 604.6 275.1 604.8 275.2 605.0 274.0 605.2 278.8 605.4 278.2 605.6 277.2 605.8 276.6 606.0 278.4 606.2 282.4 606.4 279.8 606.6 279.5 606.8 283.8 607.0 282.0 607.2 281.4 607.4 285.1 607.6 284.1 607.8 284.5 608.0 282.3 608.2 285.3 608.4 283.0 608.6 281.9 608.8 281.5 609.0 283.4 609.2 284.6 609.4 285.5 609.6 287.3 609.8 281.6 610.0 286.5 610.2 288.7 610.4 290.0 610.6 287.0 610.8 292.1 611.0 290.6 611.2 289.7 611.4 290.6 611.6 289.2 611.8 289.5 612.0 290.0 612.2 288.0 612.4 288.2 612.6 286.9 612.8 287.2 613.0 286.5 613.2 288.8 613.4 287.8 613.6 289.9 613.8 289.9 614.0 287.6 614.2 288.9 614.4 290.7 614.6 287.3 614.8 286.3 615.0 287.0 615.2 289.5 615.4 284.7 615.6 286.7 615.8 285.2 616.0 284.9 616.2 285.6 616.4 286.0 616.6 286.5 616.8 285.7 617.0 282.3 617.2 285.7 617.4 281.1 617.6 283.5 617.8 283.6 618.0 284.5 618.2 284.0 618.4 285.0 618.6 284.1 618.8 285.1 619.0 283.5 619.2 285.2 619.4 281.1 619.6 285.0 619.8 285.9 620.0 286.7 620.2 285.7 620.4 287.0 620.6 284.2 620.8 284.3 621.0 289.0 621.2 286.3 621.4 290.2 621.6 286.7 621.8 287.9 622.0 287.5 622.2 289.3 622.4 287.9 622.6 287.6 622.8 287.6 623.0 287.7 623.2 288.7 623.4 287.9 623.6 285.9 623.8 284.4 624.0 282.8 624.2 286.6 624.4 287.2 624.6 285.0 624.8 285.4 625.0 286.5 625.2 284.9 625.4 286.3 625.6 287.1 625.8 284.3 626.0 286.9 626.2 287.1 626.4 288.4 626.6 287.0 626.8 288.8 627.0 286.6 627.2 289.1 627.4 290.8 627.6 293.3 627.8 292.3 628.0 290.7 628.2 293.2 628.4 293.8 628.6 292.9 628.8 296.1 629.0 289.8 629.2 292.2 629.4 291.3 629.6 291.5 629.8 288.3 630.0 290.8 630.2 292.3 630.4 291.2 630.6 287.1 630.8 289.7 631.0 287.9 631.2 290.1 631.4 287.5 631.6 292.0 631.8 289.5 632.0 286.9 632.2 287.3 632.4 285.5 632.6 286.3 632.8 288.4 633.0 286.4 633.2 288.9 633.4 284.9 633.6 288.0 633.8 290.6 634.0 283.6 634.2 287.4 634.4 287.3 634.6 283.2 634.8 284.7 635.0 285.6 635.2 288.5 635.4 286.9 635.6 285.7 635.8 285.2 636.0 284.8 636.2 283.3 636.4 281.9 636.6 283.9 636.8 280.1 637.0 283.3 637.2 281.2 637.4 277.7 637.6 280.6 637.8 282.4 638.0 278.2 638.2 281.5 638.4 279.5 638.6 281.9 638.8 283.0 639.0 280.2 639.2 282.6 639.4 281.4 639.6 285.6 639.8 281.8 640.0 280.0 640.2 279.3 640.4 278.8 640.6 280.2 640.8 279.7 641.0 279.9 641.2 280.0 641.4 279.7 641.6 278.5 641.8 278.7 642.0 278.5 642.2 279.6 642.4 279.5 642.6 277.4 642.8 275.5 643.0 276.3 643.2 279.7 643.4 272.7 643.6 275.6 643.8 277.1 644.0 274.1 644.2 271.4 644.4 277.8 644.6 276.5 644.8 275.5 645.0 278.2 645.2 278.0 645.4 274.1 645.6 280.7 645.8 274.7 646.0 275.3 646.2 273.5 646.4 276.1 646.6 274.0 646.8 274.4 647.0 274.9 647.2 273.2 647.4 271.1 647.6 273.0 647.8 267.5 648.0 269.6 648.2 267.3 648.4 268.5 648.6 267.5 648.8 269.1 649.0 268.5 649.2 268.6 649.4 269.8 649.6 271.2 649.8 267.8 650.0 266.3 650.2 267.5 650.4 269.8 650.6 269.7 650.8 272.3 651.0 272.3 651.2 272.1 651.4 271.0 651.6 269.2 651.8 266.7 652.0 272.3 652.2 270.1 652.4 270.4 652.6 271.3 652.8 275.2 653.0 273.1 653.2 276.7 653.4 275.6 653.6 273.2 653.8 271.4 654.0 276.1 654.2 276.9 654.4 277.7 654.6 279.1 654.8 276.8 655.0 277.0 655.2 276.1 655.4 275.9 655.6 277.5 655.8 277.0 656.0 281.1 656.2 273.8 656.4 277.8 656.6 278.8 656.8 278.0 657.0 276.2 657.2 277.0 657.4 275.4 657.6 275.6 657.8 277.5 658.0 279.3 658.2 278.2 658.4 279.9 658.6 277.9 658.8 280.0 659.0 276.8 659.2 277.4 659.4 276.9 659.6 277.4 659.8 275.3 660.0 276.5 660.2 277.3 660.4 279.7 660.6 281.4 660.8 283.6 661.0 283.0 661.2 285.1 661.4 283.9 661.6 283.7 661.8 285.5 662.0 285.9 662.2 286.3 662.4 287.4 662.6 293.8 662.8 292.8 663.0 293.3 663.2 302.5 663.4 300.3 663.6 301.1 663.8 304.6 664.0 303.1 664.2 309.2 664.4 307.0 664.6 307.3 664.8 307.9 665.0 305.6 665.2 307.9 665.4 301.3 665.6 302.1 665.8 302.7 666.0 303.9 666.2 304.2 666.4 302.6 666.6 304.4 666.8 297.7 667.0 298.2 667.2 299.9 667.4 297.7 667.6 299.1 667.8 299.3 668.0 299.5 668.2 298.7 668.4 299.5 668.6 298.3 668.8 302.0 669.0 297.8 669.2 303.8 669.4 305.6 669.6 304.2 669.8 301.6 670.0 300.0 670.2 301.1 670.4 300.4 670.6 300.7 670.8 298.7 671.0 303.5 671.2 299.0 671.4 300.9 671.6 298.0 671.8 299.6 672.0 301.3 672.2 299.2 672.4 300.2 672.6 302.2 672.8 300.6 673.0 303.4 673.2 297.9 673.4 302.5 673.6 302.2 673.8 300.1 674.0 300.4 674.2 303.2 674.4 298.7 674.6 298.4 674.8 298.8 675.0 297.9 675.2 297.6 675.4 295.8 675.6 298.7 675.8 300.6 676.0 298.8 676.2 296.4 676.4 300.7 676.6 298.9 676.8 296.7 677.0 300.7 677.2 297.1 677.4 304.4 677.6 301.0 677.8 303.7 678.0 300.9 678.2 298.4 678.4 300.8 678.6 299.8 678.8 300.7 679.0 301.3 679.2 298.6 679.4 299.8 679.6 298.7 679.8 296.4 680.0 296.4 680.2 297.3 680.4 299.5 680.6 300.8 680.8 297.8 681.0 298.4 681.2 303.0 681.4 298.0 681.6 301.5 681.8 299.1 682.0 296.6 682.2 298.1 682.4 297.8 682.6 300.2 682.8 301.4 683.0 298.4 683.2 299.3 683.4 298.0 683.6 296.2 683.8 296.5" fill="none" stroke="#0072BD" stroke-width="1.65" stroke-linejoin="round"/><path d="M69.0 123.9 69.2 124.6 69.4 125.0 69.6 123.6 69.8 124.9 70.0 124.0 70.2 125.6 70.4 128.8 70.6 126.6 70.8 128.4 71.0 127.9 71.2 127.9 71.4 128.0 71.6 130.2 71.8 131.6 72.0 130.7 72.2 130.0 72.4 129.0 72.6 125.9 72.8 128.5 73.0 130.8 73.2 128.2 73.4 127.3 73.6 125.7 73.8 129.6 74.0 125.8 74.2 127.8 74.4 126.6 74.6 129.2 74.8 126.6 75.0 124.9 75.2 122.3 75.4 125.4 75.6 123.3 75.8 127.0 76.0 128.4 76.2 123.8 76.4 125.1 76.6 127.3 76.8 127.0 77.0 124.6 77.2 127.8 77.4 127.0 77.6 126.2 77.8 128.3 78.0 127.3 78.2 123.7 78.4 125.1 78.6 124.7 78.8 122.9 79.0 124.8 79.2 126.1 79.4 125.8 79.6 127.9 79.8 127.7 80.0 127.6 80.2 127.9 80.4 130.0 80.6 134.8 80.8 131.6 81.0 132.7 81.2 132.1 81.4 128.7 81.6 134.2 81.8 132.8 82.0 131.9 82.2 132.4 82.4 136.5 82.6 130.9 82.8 132.3 83.0 136.7 83.2 135.0 83.4 131.5 83.6 133.9 83.8 135.1 84.0 136.3 84.2 137.8 84.4 136.9 84.6 137.7 84.8 140.5 85.0 137.1 85.2 141.3 85.4 143.9 85.6 142.0 85.8 143.3 86.0 141.2 86.2 144.4 86.4 142.1 86.6 142.5 86.8 140.4 87.0 136.0 87.2 134.1 87.4 134.6 87.6 132.1 87.8 130.7 88.0 132.8 88.2 130.3 88.4 129.3 88.6 126.3 88.8 129.4 89.0 130.1 89.2 128.7 89.4 127.5 89.6 130.7 89.8 131.2 90.0 133.4 90.2 132.6 90.4 135.0 90.6 135.1 90.8 136.6 91.0 135.3 91.2 137.0 91.4 138.9 91.6 137.3 91.8 140.0 92.0 137.2 92.2 138.0 92.4 139.2 92.6 143.4 92.8 142.1 93.0 144.9 93.2 141.4 93.4 143.6 93.6 145.9 93.8 146.5 94.0 145.7 94.2 144.4 94.4 148.5 94.6 145.0 94.8 147.9 95.0 147.3 95.2 149.1 95.4 151.9 95.6 150.5 95.8 147.8 96.0 144.9 96.2 147.3 96.4 146.8 96.6 146.7 96.8 150.6 97.0 145.5 97.2 148.3 97.4 149.5 97.6 147.3 97.8 150.6 98.0 144.2 98.2 147.2 98.4 147.3 98.6 143.9 98.8 145.1 99.0 145.5 99.2 147.4 99.4 146.6 99.6 146.3 99.8 146.9 100.0 141.7 100.2 144.6 100.4 142.0 100.6 145.6 100.8 144.2 101.0 145.9 101.2 144.4 101.4 143.9 101.6 141.2 101.8 140.4 102.0 137.4 102.2 138.8 102.4 135.0 102.6 135.4 102.8 134.9 103.0 135.4 103.2 136.0 103.4 133.4 103.6 132.8 103.8 130.2 104.0 135.8 104.2 131.4 104.4 134.0 104.6 134.9 104.8 127.9 105.0 130.5 105.2 130.3 105.4 132.4 105.6 131.3 105.8 132.8 106.0 132.0 106.2 134.0 106.4 129.6 106.6 133.8 106.8 128.2 107.0 129.8 107.2 135.8 107.4 133.8 107.6 131.9 107.8 136.7 108.0 132.5 108.2 132.4 108.4 129.3 108.6 130.2 108.8 130.4 109.0 126.4 109.2 130.6 109.4 130.4 109.6 132.9 109.8 131.4 110.0 127.5 110.2 128.4 110.4 128.6 110.6 129.0 110.8 127.5 111.0 128.0 111.2 129.5 111.4 128.1 111.6 128.8 111.8 126.7 112.0 124.6 112.2 120.8 112.4 124.5 112.6 121.0 112.8 122.1 113.0 123.8 113.2 122.8 113.4 124.5 113.6 122.1 113.8 125.8 114.0 125.9 114.2 129.7 114.4 127.6 114.6 128.1 114.8 128.4 115.0 131.3 115.2 131.4 115.4 130.7 115.6 130.2 115.8 133.7 116.0 129.3 116.2 125.2 116.4 129.4 116.6 133.1 116.8 127.9 117.0 135.0 117.2 128.9 117.4 130.4 117.6 127.9 117.8 128.0 118.0 126.6 118.2 125.1 118.4 123.7 118.6 130.5 118.8 126.5 119.0 127.3 119.2 127.1 119.4 122.8 119.6 123.9 119.8 124.5 120.0 124.5 120.2 126.8 120.4 127.6 120.6 126.2 120.8 124.0 121.0 123.9 121.2 125.9 121.4 128.9 121.6 128.2 121.8 127.3 122.0 126.9 122.2 124.2 122.4 126.1 122.6 125.2 122.8 125.7 123.0 122.8 123.2 123.8 123.4 126.7 123.6 120.7 123.8 122.1 124.0 120.9 124.2 122.1 124.4 123.5 124.6 120.4 124.8 115.9 125.0 122.0 125.2 120.5 125.4 116.8 125.6 118.6 125.8 120.2 126.0 117.4 126.2 123.2 126.4 124.3 126.6 126.4 126.8 125.3 127.0 127.5 127.2 127.5 127.4 130.3 127.6 128.4 127.8 132.7 128.0 130.1 128.2 124.6 128.4 130.7 128.6 126.6 128.8 123.9 129.0 125.7 129.2 121.4 129.4 126.2 129.6 120.2 129.8 122.7 130.0 125.3 130.2 125.0 130.4 121.1 130.6 119.8 130.8 122.6 131.0 120.2 131.2 120.9 131.4 120.4 131.6 117.9 131.8 120.5 132.0 115.1 132.2 122.6 132.4 114.8 132.6 115.1 132.8 112.7 133.0 114.1 133.2 113.3 133.4 115.9 133.6 115.9 133.8 117.0 134.0 116.8 134.2 112.7 134.4 111.9 134.6 112.0 134.8 115.9 135.0 116.0 135.2 114.6 135.4 114.3 135.6 113.8 135.8 113.0 136.0 111.1 136.2 110.1 136.4 115.1 136.6 114.3 136.8 111.2 137.0 113.0 137.2 114.3 137.4 114.7 137.6 110.2 137.8 110.6 138.0 113.1 138.2 108.3 138.4 109.8 138.6 112.3 138.8 111.1 139.0 115.7 139.2 113.6 139.4 113.2 139.6 114.6 139.8 116.2 140.0 116.5 140.2 115.0 140.4 116.7 140.6 115.3 140.8 115.4 141.0 115.5 141.2 115.4 141.4 113.0 141.6 112.0 141.8 108.9 142.0 109.6 142.2 113.0 142.4 110.8 142.6 108.9 142.8 110.4 143.0 110.7 143.2 110.8 143.4 109.4 143.6 108.5 143.8 110.4 144.0 112.9 144.2 109.8 144.4 110.3 144.6 111.8 144.8 110.1 145.0 113.0 145.2 113.5 145.4 113.7 145.6 114.5 145.8 115.1 146.0 117.6 146.2 115.9 146.4 115.7 146.6 116.9 146.8 115.8 147.0 117.7 147.2 115.4 147.4 117.4 147.6 116.6 147.8 115.3 148.0 118.4 148.2 121.0 148.4 122.0 148.6 118.5 148.8 119.3 149.0 121.5 149.2 119.9 149.4 122.4 149.6 123.0 149.8 124.3 150.0 124.0 150.2 122.3 150.4 125.9 150.6 123.5 150.8 123.8 151.0 127.3 151.2 126.0 151.4 122.0 151.6 123.7 151.8 124.6 152.0 123.2 152.2 122.8 152.4 128.1 152.6 126.3 152.8 126.2 153.0 124.8 153.2 125.3 153.4 125.0 153.6 121.7 153.8 123.8 154.0 123.5 154.2 124.7 154.4 122.9 154.6 119.4 154.8 120.6 155.0 126.0 155.2 121.1 155.4 122.2 155.6 119.8 155.8 122.9 156.0 120.9 156.2 118.6 156.4 115.9 156.6 118.3 156.8 120.1 157.0 120.0 157.2 115.8 157.4 119.8 157.6 116.9 157.8 114.7 158.0 115.2 158.2 113.7 158.4 111.6 158.6 111.4 158.8 111.9 159.0 109.2 159.2 106.1 159.4 108.6 159.6 106.3 159.8 108.7 160.0 105.1 160.2 102.8 160.4 101.9 160.6 102.7 160.8 99.3 161.0 97.4 161.2 98.0 161.4 93.5 161.6 96.2 161.8 97.4 162.0 97.3 162.2 98.2 162.4 97.3 162.6 95.6 162.8 94.0 163.0 96.1 163.2 91.7 163.4 90.7 163.6 92.9 163.8 93.0 164.0 94.4 164.2 93.0 164.4 91.4 164.6 96.1 164.8 96.1 165.0 93.3 165.2 96.5 165.4 96.0 165.6 93.6 165.8 94.1 166.0 93.3 166.2 95.3 166.4 94.8 166.6 93.9 166.8 91.2 167.0 91.8 167.2 90.5 167.4 90.6 167.6 91.4 167.8 92.5 168.0 94.7 168.2 95.1 168.4 96.2 168.6 94.0 168.8 92.4 169.0 92.5 169.2 93.2 169.4 91.4 169.6 90.6 169.8 89.1 170.0 89.1 170.2 90.5 170.4 88.9 170.6 92.7 170.8 87.4 171.0 89.8 171.2 85.8 171.4 90.7 171.6 88.0 171.8 85.0 172.0 85.1 172.2 83.0 172.4 85.6 172.6 85.8 172.8 89.2 173.0 82.7 173.2 86.4 173.4 85.0 173.6 86.1 173.8 87.5 174.0 85.9 174.2 84.2 174.4 81.7 174.6 80.2 174.8 79.4 175.0 81.5 175.2 75.8 175.4 76.1 175.6 73.3 175.8 75.0 176.0 75.7 176.2 77.6 176.4 76.8 176.6 73.4 176.8 67.6 177.0 67.9 177.2 63.2 177.4 63.1 177.6 63.8 177.8 60.1 178.0 60.3 178.2 59.4 178.4 55.4 178.6 55.2 178.8 56.4 179.0 57.9 179.2 59.0 179.4 57.2 179.6 61.4 179.8 62.2 180.0 63.5 180.2 63.2 180.4 62.9 180.6 69.3 180.8 68.1 181.0 67.6 181.2 65.3 181.4 67.8 181.6 66.1 181.8 64.3 182.0 66.4 182.2 66.0 182.4 68.5 182.6 70.5 182.8 67.7 183.0 69.8 183.2 66.8 183.4 70.0 183.6 69.4 183.8 71.6 184.0 72.5 184.2 71.9 184.4 72.2 184.6 67.5 184.8 69.6 185.0 67.3 185.2 68.5 185.4 68.3 185.6 67.4 185.8 67.0 186.0 65.5 186.2 69.5 186.4 67.5 186.6 69.2 186.8 65.9 187.0 70.2 187.2 65.4 187.4 70.0 187.6 68.8 187.8 71.5 188.0 69.8 188.2 70.1 188.4 68.6 188.6 70.9 188.8 69.2 189.0 68.3 189.2 70.8 189.4 65.7 189.6 69.5 189.8 67.8 190.0 64.1 190.2 68.4 190.4 67.9 190.6 70.8 190.8 67.3 191.0 70.2 191.2 71.8 191.4 70.1 191.6 74.7 191.8 73.5 192.0 78.7 192.2 78.1 192.4 76.4 192.6 74.6 192.8 77.2 193.0 77.8 193.2 79.9 193.4 80.7 193.6 79.0 193.8 81.9 194.0 83.4 194.2 88.5 194.4 86.5 194.6 84.7 194.8 87.7 195.0 86.2 195.2 88.3 195.4 90.0 195.6 90.7 195.8 92.4 196.0 94.9 196.2 93.0 196.4 89.8 196.6 91.3 196.8 93.8 197.0 90.2 197.2 90.8 197.4 89.5 197.6 91.2 197.8 90.7 198.0 88.2 198.2 85.0 198.4 84.3 198.6 79.6 198.8 83.0 199.0 77.7 199.2 74.9 199.4 74.8 199.6 72.7 199.8 71.2 200.0 69.6 200.2 68.2 200.4 67.6 200.6 68.2 200.8 69.5 201.0 66.1 201.2 65.1 201.4 65.3 201.6 67.3 201.8 67.7 202.0 63.5 202.2 64.0 202.4 63.8 202.6 62.6 202.8 62.3 203.0 58.3 203.2 63.2 203.4 63.0 203.6 63.0 203.8 67.4 204.0 67.6 204.2 69.6 204.4 65.0 204.6 68.7 204.8 68.5 205.0 69.2 205.2 70.0 205.4 65.4 205.6 68.0 205.8 69.0 206.0 72.2 206.2 71.4 206.4 70.6 206.6 72.6 206.8 70.5 207.0 71.4 207.2 73.6 207.4 72.9 207.6 73.7 207.8 69.1 208.0 75.9 208.2 73.1 208.4 72.4 208.6 70.0 208.8 68.6 209.0 71.6 209.2 73.5 209.4 76.2 209.6 74.6 209.8 72.2 210.0 76.1 210.2 77.6 210.4 73.9 210.6 75.9 210.8 75.3 211.0 75.2 211.2 74.2 211.4 76.3 211.6 77.8 211.8 75.5 212.0 74.5 212.2 80.0 212.4 76.3 212.6 85.0 212.8 79.9 213.0 81.9 213.2 85.2 213.4 79.1 213.6 80.3 213.8 86.3 214.0 83.4 214.2 83.4 214.4 83.1 214.6 83.9 214.8 83.7 215.0 81.9 215.2 80.5 215.4 81.5 215.6 79.9 215.8 82.2 216.0 79.6 216.2 83.0 216.4 78.2 216.6 80.8 216.8 83.8 217.0 82.0 217.2 80.5 217.4 78.8 217.6 77.6 217.8 78.5 218.0 79.2 218.2 77.6 218.4 75.6 218.6 75.4 218.8 79.0 219.0 80.1 219.2 78.5 219.4 79.4 219.6 76.3 219.8 78.5 220.0 83.6 220.2 76.9 220.4 75.6 220.6 75.2 220.8 74.0 221.0 74.5 221.2 77.8 221.4 75.8 221.6 79.4 221.8 72.7 222.0 75.9 222.2 75.8 222.4 69.3 222.6 74.6 222.8 70.1 223.0 73.1 223.2 75.1 223.4 74.8 223.6 74.9 223.8 72.8 224.0 75.7 224.2 76.2 224.4 74.4 224.6 76.3 224.8 77.9 225.0 78.8 225.2 74.8 225.4 77.4 225.6 76.3 225.8 79.1 226.0 82.5 226.2 83.0 226.4 86.1 226.6 85.3 226.8 86.8 227.0 87.6 227.2 91.3 227.4 92.5 227.6 93.3 227.8 94.2 228.0 96.5 228.2 96.7 228.4 99.9 228.6 98.5 228.8 103.4 229.0 103.0 229.2 100.7 229.4 104.5 229.6 103.3 229.8 107.6 230.0 109.7 230.2 105.8 230.4 106.2 230.6 101.0 230.8 98.9 231.0 100.3 231.2 98.5 231.4 95.8 231.6 95.5 231.8 95.2 232.0 93.4 232.2 93.9 232.4 92.2 232.6 87.9 232.8 86.9 233.0 85.5 233.2 79.8 233.4 80.8 233.6 78.4 233.8 75.3 234.0 71.0 234.2 76.4 234.4 69.6 234.6 65.5 234.8 64.5 235.0 58.6 235.2 54.6 235.4 53.6 235.6 45.6 235.8 45.2 236.0 41.9 236.2 44.6 236.4 44.8 236.6 40.2 236.8 46.3 237.0 42.0 237.2 45.2 237.4 41.9 237.6 43.1 237.8 41.7 238.0 47.2 238.2 44.9 238.4 46.5 238.6 43.7 238.8 41.2 239.0 38.8 239.2 34.0 239.4 34.1 239.6 35.0 239.8 35.9 240.0 35.9 240.2 38.3 240.4 40.9 240.6 40.3 240.8 42.0 241.0 43.1 241.2 43.0 241.4 44.9 241.6 54.4 241.8 56.6 242.0 56.0 242.2 59.1 242.4 53.3 242.6 51.2 242.8 56.8 243.0 54.9 243.2 56.0 243.4 59.3 243.6 59.1 243.8 57.0 244.0 57.3 244.2 55.6 244.4 57.7 244.6 54.6 244.8 52.4 245.0 57.1 245.2 64.0 245.4 66.6 245.6 66.7 245.8 70.8 246.0 67.6 246.2 69.4 246.4 68.4 246.6 70.8 246.8 70.0 247.0 72.3 247.2 73.0 247.4 74.2 247.6 73.0 247.8 71.7 248.0 75.5 248.2 70.1 248.4 69.3 248.6 68.6 248.8 69.0 249.0 72.8 249.2 76.4 249.4 72.3 249.6 75.3 249.8 71.8 250.0 77.9 250.2 75.9 250.4 76.2 250.6 80.6 250.8 81.3 251.0 82.1 251.2 80.7 251.4 80.2 251.6 81.7 251.8 80.4 252.0 86.0 252.2 83.7 252.4 83.4 252.6 83.4 252.8 87.7 253.0 83.5 253.2 86.2 253.4 84.3 253.6 84.4 253.8 81.8 254.0 87.3 254.2 85.1 254.4 85.8 254.6 85.7 254.8 86.3 255.0 88.7 255.2 86.6 255.4 87.1 255.6 89.0 255.8 89.3 256.0 91.0 256.2 88.6 256.4 92.2 256.6 89.6 256.8 90.4 257.0 93.0 257.2 94.5 257.4 92.2 257.6 92.4 257.8 91.8 258.0 92.5 258.2 91.7 258.4 92.5 258.6 88.6 258.8 93.1 259.0 91.6 259.2 88.6 259.4 92.5 259.6 90.7 259.8 91.8 260.0 88.3 260.2 92.8 260.4 90.2 260.6 86.7 260.8 90.4 261.0 86.9 261.2 86.0 261.4 87.8 261.6 85.1 261.8 89.1 262.0 87.7 262.2 87.1 262.4 89.7 262.6 86.9 262.8 85.5 263.0 84.2 263.2 86.0 263.4 87.3 263.6 82.1 263.8 81.2 264.0 82.0 264.2 82.3 264.4 82.6 264.6 86.5 264.8 80.3 265.0 81.3 265.2 77.6 265.4 79.9 265.6 80.4 265.8 81.3 266.0 77.6 266.2 79.0 266.4 75.8 266.6 73.3 266.8 75.9 267.0 71.2 267.2 70.3 267.4 73.0 267.6 68.5 267.8 74.2 268.0 73.8 268.2 70.5 268.4 71.4 268.6 71.1 268.8 72.4 269.0 66.7 269.2 65.0 269.4 62.6 269.6 65.7 269.8 62.7 270.0 65.9 270.2 67.5 270.4 64.3 270.6 64.0 270.8 66.6 271.0 65.1 271.2 65.7 271.4 66.3 271.6 62.7 271.8 62.2 272.0 67.7 272.2 63.1 272.4 61.0 272.6 60.3 272.8 59.3 273.0 56.0 273.2 56.9 273.4 57.0 273.6 56.7 273.8 56.0 274.0 54.1 274.2 53.3 274.4 56.2 274.6 56.5 274.8 59.8 275.0 60.2 275.2 57.5 275.4 62.0 275.6 60.2 275.8 64.1 276.0 66.5 276.2 68.1 276.4 66.0 276.6 66.5 276.8 66.6 277.0 65.6 277.2 60.8 277.4 63.9 277.6 64.1 277.8 64.6 278.0 63.2 278.2 65.2 278.4 65.4 278.6 64.5 278.8 64.7 279.0 64.4 279.2 64.4 279.4 65.2 279.6 65.1 279.8 63.0 280.0 63.0 280.2 65.1 280.4 68.2 280.6 67.1 280.8 67.4 281.0 70.0 281.2 68.4 281.4 68.4 281.6 67.8 281.8 69.1 282.0 73.1 282.2 75.1 282.4 75.1 282.6 74.7 282.8 78.6 283.0 75.7 283.2 77.6 283.4 76.7 283.6 77.0 283.8 78.0 284.0 81.1 284.2 81.4 284.4 82.8 284.6 81.1 284.8 83.8 285.0 85.9 285.2 84.8 285.4 86.9 285.6 87.3 285.8 84.5 286.0 86.0 286.2 84.8 286.4 88.1 286.6 86.6 286.8 89.0 287.0 90.6 287.2 88.9 287.4 90.0 287.6 91.9 287.8 91.9 288.0 94.8 288.2 94.5 288.4 94.6 288.6 92.7 288.8 94.0 289.0 95.4 289.2 94.5 289.4 93.6 289.6 97.5 289.8 98.3 290.0 97.8 290.2 98.2 290.4 98.9 290.6 99.4 290.8 100.2 291.0 102.0 291.2 98.3 291.4 100.7 291.6 100.0 291.8 98.9 292.0 98.9 292.2 97.5 292.4 97.0 292.6 99.5 292.8 100.4 293.0 97.2 293.2 99.7 293.4 98.6 293.6 98.9 293.8 96.7 294.0 95.8 294.2 98.0 294.4 95.2 294.6 95.1 294.8 91.3 295.0 91.8 295.2 93.4 295.4 91.7 295.6 94.8 295.8 95.6 296.0 93.2 296.2 93.0 296.4 92.3 296.6 92.4 296.8 91.7 297.0 91.7 297.2 90.0 297.4 88.6 297.6 89.4 297.8 90.0 298.0 87.4 298.2 89.3 298.4 86.7 298.6 88.6 298.8 84.1 299.0 83.5 299.2 86.0 299.4 85.4 299.6 84.2 299.8 87.7 300.0 85.4 300.2 86.6 300.4 86.9 300.6 90.8 300.8 89.2 301.0 88.1 301.2 85.5 301.4 90.3 301.6 89.4 301.8 90.3 302.0 91.5 302.2 89.0 302.4 90.0 302.6 88.8 302.8 87.3 303.0 87.6 303.2 86.8 303.4 85.5 303.6 84.7 303.8 86.7 304.0 87.3 304.2 85.5 304.4 86.4 304.6 85.3 304.8 81.5 305.0 89.3 305.2 89.4 305.4 84.2 305.6 86.2 305.8 86.6 306.0 87.0 306.2 86.4 306.4 86.2 306.6 87.8 306.8 88.3 307.0 88.0 307.2 88.5 307.4 87.5 307.6 88.3 307.8 85.1 308.0 89.6 308.2 85.5 308.4 87.9 308.6 86.6 308.8 88.3 309.0 88.6 309.2 88.8 309.4 84.3 309.6 85.1 309.8 86.0 310.0 85.4 310.2 84.8 310.4 87.3 310.6 85.0 310.8 85.5 311.0 88.1 311.2 87.6 311.4 89.1 311.6 88.7 311.8 90.8 312.0 90.5 312.2 90.1 312.4 91.1 312.6 88.5 312.8 91.2 313.0 89.1 313.2 91.4 313.4 90.2 313.6 90.7 313.8 89.6 314.0 95.8 314.2 92.0 314.4 93.6 314.6 97.9 314.8 95.4 315.0 97.2 315.2 95.5 315.4 91.7 315.6 90.9 315.8 90.9 316.0 86.8 316.2 89.6 316.4 88.1 316.6 86.2 316.8 86.7 317.0 82.7 317.2 85.5 317.4 85.9 317.6 81.9 317.8 82.3 318.0 83.6 318.2 79.3 318.4 75.7 318.6 74.0 318.8 77.0 319.0 78.1 319.2 72.8 319.4 75.2 319.6 74.1 319.8 73.4 320.0 72.2 320.2 70.9 320.4 68.7 320.6 71.7 320.8 67.1 321.0 64.7 321.2 67.3 321.4 63.7 321.6 62.0 321.8 63.5 322.0 60.2 322.2 62.9 322.4 62.0 322.6 59.4 322.8 56.6 323.0 54.1 323.2 51.7 323.4 53.2 323.6 52.2 323.8 51.2 324.0 50.3 324.2 47.1 324.4 44.7 324.6 43.1 324.8 42.9 325.0 45.7 325.2 47.0 325.4 49.1 325.6 52.3 325.8 55.8 326.0 58.0 326.2 56.2 326.4 57.7 326.6 58.6 326.8 63.3 327.0 65.3 327.2 66.3 327.4 69.5 327.6 68.8 327.8 72.8 328.0 72.4 328.2 70.8 328.4 76.3 328.6 73.4 328.8 75.3 329.0 77.4 329.2 79.2 329.4 79.4 329.6 79.1 329.8 83.6 330.0 85.3 330.2 92.2 330.4 89.7 330.6 87.2 330.8 86.1 331.0 88.8 331.2 85.7 331.4 88.2 331.6 88.6 331.8 88.5 332.0 88.8 332.2 88.9 332.4 89.0 332.6 91.5 332.8 91.1 333.0 90.7 333.2 88.8 333.4 92.3 333.6 91.9 333.8 91.8 334.0 93.3 334.2 92.1 334.4 89.3 334.6 95.4 334.8 94.3 335.0 94.9 335.2 98.2 335.4 93.7 335.6 92.8 335.8 92.0 336.0 93.5 336.2 89.6 336.4 90.9 336.6 92.4 336.8 90.6 337.0 88.7 337.2 89.6 337.4 85.3 337.6 88.0 337.8 86.8 338.0 88.0 338.2 85.7 338.4 84.6 338.6 87.1 338.8 85.5 339.0 88.8 339.2 87.0 339.4 88.0 339.6 87.0 339.8 87.0 340.0 87.0 340.2 88.0 340.4 81.4 340.6 86.6 340.8 88.1 341.0 84.6 341.2 85.7 341.4 91.1 341.6 90.5 341.8 90.0 342.0 94.1 342.2 89.2 342.4 88.1 342.6 86.5 342.8 91.3 343.0 93.1 343.2 96.8 343.4 95.7 343.6 92.2 343.8 95.3 344.0 91.1 344.2 90.9 344.4 92.1 344.6 92.5 344.8 90.4 345.0 89.7 345.2 89.9 345.4 91.2 345.6 91.7 345.8 91.5 346.0 93.2 346.2 90.3 346.4 91.4 346.6 89.1 346.8 90.8 347.0 89.1 347.2 89.0 347.4 88.0 347.6 86.5 347.8 88.1 348.0 85.0 348.2 86.8 348.4 86.8 348.6 83.6 348.8 83.4 349.0 82.1 349.2 85.7 349.4 90.6 349.6 91.3 349.8 91.1 350.0 90.5 350.2 91.2 350.4 90.8 350.6 88.2 350.8 89.8 351.0 94.6 351.2 95.9 351.4 94.3 351.6 95.4 351.8 95.5 352.0 96.0 352.2 96.4 352.4 92.3 352.6 96.2 352.8 96.2 353.0 97.7 353.2 98.3 353.4 95.5 353.6 93.1 353.8 94.3 354.0 92.1 354.2 95.1 354.4 94.8 354.6 94.4 354.8 93.8 355.0 94.8 355.2 91.9 355.4 92.1 355.6 96.9 355.8 94.5 356.0 95.4 356.2 88.9 356.4 90.3 356.6 89.2 356.8 90.9 357.0 88.5 357.2 88.4 357.4 93.9 357.6 91.9 357.8 87.5 358.0 89.6 358.2 88.2 358.4 88.1 358.6 90.1 358.8 91.1 359.0 90.8 359.2 90.2 359.4 89.1 359.6 91.5 359.8 94.5 360.0 90.2 360.2 93.0 360.4 92.0 360.6 91.1 360.8 91.4 361.0 89.9 361.2 89.1 361.4 87.8 361.6 89.6 361.8 90.6 362.0 87.3 362.2 89.8 362.4 81.9 362.6 84.4 362.8 83.1 363.0 86.6 363.2 81.6 363.4 84.2 363.6 78.3 363.8 81.7 364.0 83.0 364.2 83.1 364.4 79.5 364.6 84.2 364.8 83.5 365.0 85.0 365.2 84.2 365.4 81.1 365.6 82.9 365.8 83.5 366.0 81.2 366.2 84.0 366.4 80.6 366.6 81.8 366.8 82.4 367.0 80.3 367.2 85.6 367.4 81.7 367.6 82.4 367.8 80.9 368.0 80.1 368.2 79.8 368.4 77.3 368.6 75.7 368.8 77.3 369.0 77.7 369.2 75.4 369.4 75.7 369.6 79.6 369.8 80.5 370.0 82.3 370.2 78.1 370.4 81.7 370.6 80.5 370.8 81.0 371.0 83.4 371.2 86.2 371.4 87.0 371.6 89.7 371.8 88.1 372.0 90.5 372.2 90.1 372.4 92.3 372.6 92.8 372.8 94.3 373.0 100.1 373.2 104.4 373.4 109.4 373.6 111.3 373.8 117.2 374.0 116.6 374.2 117.6 374.4 118.5 374.6 119.6 374.8 121.6 375.0 121.1 375.2 122.2 375.4 128.4 375.6 127.6 375.8 128.5 376.0 128.0 376.2 127.2 376.4 134.3 376.6 127.2 376.8 129.3 377.0 129.1 377.2 126.5 377.4 128.3 377.6 127.6 377.8 130.1 378.0 128.9 378.2 131.5 378.4 131.0 378.6 131.9 378.8 132.7 379.0 133.5 379.2 130.6 379.4 127.6 379.6 132.6 379.8 132.1 380.0 131.7 380.2 134.2 380.4 131.6 380.6 133.5 380.8 133.5 381.0 135.0 381.2 133.9 381.4 133.2 381.6 135.0 381.8 133.1 382.0 129.6 382.2 131.3 382.4 129.5 382.6 126.5 382.8 127.9 383.0 127.7 383.2 126.6 383.4 127.4 383.6 128.5 383.8 126.1 384.0 129.7 384.2 126.6 384.4 126.1 384.6 129.2 384.8 127.8 385.0 124.0 385.2 122.9 385.4 122.9 385.6 126.0 385.8 125.5 386.0 125.6 386.2 126.5 386.4 129.8 386.6 128.9 386.8 131.4 387.0 129.6 387.2 128.2 387.4 127.3 387.6 126.1 387.8 127.8 388.0 127.5 388.2 127.1 388.4 125.8 388.6 129.1 388.8 129.8 389.0 128.5 389.2 125.1 389.4 128.9 389.6 125.7 389.8 123.1 390.0 124.0 390.2 123.0 390.4 119.1 390.6 120.6 390.8 117.9 391.0 119.3 391.2 117.9 391.4 118.4 391.6 117.2 391.8 117.7 392.0 117.8 392.2 118.2 392.4 116.4 392.6 120.4 392.8 119.4 393.0 118.7 393.2 120.9 393.4 120.4 393.6 119.8 393.8 123.5 394.0 126.7 394.2 125.1 394.4 125.0 394.6 127.3 394.8 130.6 395.0 128.4 395.2 131.9 395.4 130.0 395.6 130.6 395.8 129.1 396.0 128.3 396.2 130.0 396.4 134.4 396.6 131.4 396.8 132.5 397.0 132.0 397.2 131.9 397.4 132.4 397.6 131.4 397.8 136.2 398.0 132.8 398.2 134.0 398.4 132.8 398.6 131.9 398.8 130.8 399.0 134.5 399.2 130.2 399.4 136.0 399.6 135.2 399.8 132.8 400.0 131.3 400.2 133.1 400.4 132.7 400.6 135.5 400.8 133.3 401.0 134.1 401.2 134.7 401.4 132.7 401.6 131.9 401.8 129.8 402.0 128.9 402.2 129.2 402.4 128.8 402.6 132.4 402.8 133.8 403.0 132.2 403.2 130.6 403.4 133.0 403.6 130.4 403.8 128.1 404.0 131.2 404.2 128.4 404.4 128.6 404.6 128.5 404.8 131.7 405.0 126.8 405.2 128.8 405.4 126.4 405.6 125.2 405.8 127.2 406.0 126.1 406.2 122.6 406.4 120.2 406.6 120.8 406.8 121.7 407.0 120.0 407.2 120.8 407.4 120.9 407.6 119.6 407.8 122.3 408.0 121.0 408.2 119.9 408.4 122.7 408.6 124.3 408.8 123.3 409.0 125.0 409.2 121.6 409.4 123.4 409.6 125.6 409.8 124.7 410.0 129.1 410.2 127.9 410.4 127.9 410.6 130.0 410.8 125.9 411.0 130.0 411.2 127.5 411.4 126.3 411.6 125.7 411.8 125.3 412.0 125.2 412.2 127.4 412.4 124.4 412.6 130.1 412.8 130.4 413.0 129.4 413.2 124.9 413.4 122.4 413.6 124.3 413.8 125.8 414.0 126.2 414.2 124.7 414.4 126.3 414.6 126.0 414.8 122.7 415.0 128.6 415.2 124.1 415.4 127.4 415.6 128.7 415.8 126.2 416.0 126.6 416.2 128.0 416.4 124.6 416.6 123.9 416.8 122.8 417.0 123.6 417.2 124.3 417.4 123.9 417.6 124.1 417.8 127.0 418.0 128.1 418.2 129.3 418.4 127.6 418.6 130.1 418.8 132.4 419.0 132.3 419.2 131.6 419.4 131.3 419.6 129.8 419.8 131.3 420.0 133.6 420.2 130.4 420.4 131.3 420.6 128.7 420.8 131.5 421.0 128.9 421.2 130.8 421.4 127.7 421.6 130.3 421.8 130.2 422.0 128.7 422.2 126.5 422.4 126.9 422.6 123.1 422.8 124.2 423.0 124.3 423.2 126.9 423.4 128.3 423.6 124.3 423.8 124.5 424.0 126.0 424.2 124.2 424.4 124.2 424.6 124.4 424.8 124.1 425.0 122.6 425.2 120.7 425.4 123.1 425.6 118.5 425.8 119.0 426.0 117.9 426.2 118.9 426.4 121.0 426.6 121.5 426.8 123.9 427.0 125.0 427.2 125.2 427.4 122.8 427.6 127.2 427.8 125.5 428.0 128.9 428.2 126.0 428.4 125.5 428.6 127.3 428.8 124.2 429.0 125.1 429.2 124.1 429.4 127.6 429.6 129.7 429.8 127.2 430.0 129.9 430.2 124.2 430.4 124.7 430.6 122.2 430.8 122.0 431.0 130.0 431.2 128.4 431.4 125.9 431.6 121.8 431.8 125.4 432.0 124.3 432.2 121.8 432.4 121.9 432.6 120.2 432.8 120.0 433.0 118.1 433.2 119.1 433.4 119.8 433.6 118.9 433.8 120.1 434.0 120.1 434.2 119.1 434.4 123.1 434.6 121.9 434.8 122.8 435.0 119.6 435.2 121.1 435.4 124.3 435.6 122.7 435.8 125.5 436.0 124.8 436.2 129.1 436.4 127.3 436.6 130.0 436.8 132.0 437.0 134.3 437.2 133.7 437.4 135.8 437.6 135.5 437.8 135.9 438.0 136.4 438.2 136.4 438.4 136.8 438.6 137.5 438.8 137.1 439.0 137.4 439.2 138.7 439.4 138.9 439.6 137.0 439.8 138.8 440.0 135.8 440.2 134.8 440.4 137.7 440.6 135.4 440.8 133.8 441.0 134.4 441.2 138.4 441.4 137.3 441.6 139.1 441.8 137.8 442.0 137.9 442.2 141.0 442.4 142.1 442.6 141.6 442.8 140.2 443.0 141.6 443.2 140.2 443.4 142.7 443.6 142.8 443.8 144.5 444.0 145.0 444.2 143.5 444.4 144.0 444.6 141.1 444.8 146.1 445.0 144.4 445.2 146.3 445.4 143.4 445.6 143.9 445.8 148.1 446.0 147.6 446.2 150.1 446.4 151.1 446.6 154.9 446.8 155.0 447.0 158.9 447.2 158.6 447.4 156.8 447.6 163.5 447.8 167.2 448.0 164.2 448.2 167.5 448.4 173.1 448.6 181.3 448.8 185.0 449.0 188.9 449.2 187.0 449.4 183.7 449.6 181.7 449.8 184.4 450.0 184.8 450.2 181.4 450.4 182.5 450.6 179.5 450.8 180.4 451.0 176.7 451.2 181.9 451.4 177.7 451.6 173.8 451.8 173.2 452.0 176.7 452.2 173.4 452.4 172.5 452.6 174.9 452.8 174.6 453.0 173.0 453.2 170.0 453.4 171.7 453.6 171.5 453.8 173.1 454.0 176.1 454.2 175.6 454.4 173.9 454.6 176.9 454.8 175.3 455.0 178.9 455.2 176.6 455.4 177.3 455.6 175.4 455.8 178.8 456.0 176.3 456.2 175.9 456.4 175.8 456.6 178.5 456.8 176.7 457.0 183.8 457.2 178.6 457.4 177.5 457.6 175.2 457.8 174.4 458.0 175.1 458.2 171.8 458.4 170.5 458.6 167.6 458.8 168.8 459.0 168.3 459.2 172.2 459.4 166.3 459.6 166.9 459.8 168.7 460.0 169.0 460.2 164.7 460.4 165.8 460.6 168.9 460.8 169.7 461.0 167.2 461.2 168.6 461.4 170.1 461.6 171.6 461.8 169.4 462.0 171.3 462.2 171.0 462.4 171.8 462.6 173.7 462.8 173.0 463.0 174.2 463.2 171.9 463.4 173.3 463.6 175.0 463.8 175.2 464.0 175.5 464.2 177.2 464.4 179.0 464.6 180.2 464.8 178.6 465.0 181.4 465.2 183.1 465.4 178.1 465.6 176.6 465.8 178.3 466.0 177.7 466.2 176.5 466.4 176.6 466.6 180.0 466.8 179.7 467.0 179.8 467.2 177.3 467.4 174.4 467.6 175.8 467.8 172.8 468.0 172.1 468.2 169.7 468.4 172.6 468.6 172.7 468.8 170.4 469.0 169.0 469.2 168.9 469.4 167.8 469.6 167.6 469.8 165.1 470.0 163.9 470.2 158.5 470.4 157.0 470.6 153.7 470.8 159.5 471.0 156.9 471.2 157.1 471.4 159.7 471.6 162.0 471.8 161.8 472.0 159.3 472.2 160.9 472.4 159.4 472.6 163.4 472.8 162.0 473.0 166.3 473.2 167.8 473.4 165.5 473.6 165.6 473.8 165.0 474.0 163.4 474.2 162.4 474.4 160.5 474.6 164.9 474.8 165.9 475.0 164.2 475.2 161.2 475.4 163.2 475.6 162.9 475.8 159.4 476.0 163.4 476.2 161.6 476.4 160.1 476.6 159.0 476.8 162.2 477.0 158.0 477.2 156.5 477.4 156.3 477.6 153.9 477.8 154.9 478.0 150.3 478.2 153.2 478.4 152.5 478.6 151.0 478.8 156.9 479.0 154.7 479.2 157.3 479.4 157.6 479.6 157.7 479.8 161.2 480.0 162.5 480.2 165.2 480.4 167.3 480.6 168.1 480.8 166.6 481.0 170.0 481.2 169.1 481.4 172.6 481.6 171.9 481.8 170.1 482.0 170.8 482.2 172.4 482.4 173.6 482.6 170.8 482.8 173.2 483.0 172.1 483.2 169.5 483.4 172.8 483.6 174.2 483.8 175.7 484.0 176.6 484.2 176.2 484.4 175.4 484.6 179.3 484.8 179.5 485.0 177.9 485.2 180.6 485.4 178.6 485.6 176.0 485.8 175.1 486.0 172.4 486.2 173.4 486.4 171.1 486.6 175.0 486.8 169.3 487.0 170.1 487.2 168.3 487.4 166.1 487.6 166.3 487.8 164.8 488.0 162.5 488.2 162.5 488.4 160.8 488.6 164.8 488.8 163.8 489.0 162.2 489.2 158.8 489.4 158.3 489.6 156.6 489.8 157.4 490.0 157.7 490.2 155.9 490.4 154.6 490.6 158.5 490.8 157.6 491.0 160.7 491.2 155.9 491.4 157.7 491.6 156.9 491.8 155.2 492.0 156.1 492.2 152.9 492.4 149.1 492.6 150.0 492.8 149.2 493.0 150.2 493.2 144.9 493.4 145.1 493.6 144.5 493.8 146.2 494.0 145.6 494.2 145.9 494.4 143.8 494.6 145.0 494.8 142.7 495.0 148.2 495.2 148.5 495.4 146.5 495.6 151.3 495.8 151.5 496.0 151.7 496.2 152.4 496.4 151.9 496.6 155.9 496.8 151.7 497.0 155.0 497.2 152.7 497.4 148.8 497.6 153.9 497.8 154.7 498.0 149.0 498.2 150.2 498.4 147.0 498.6 146.3 498.8 143.9 499.0 149.2 499.2 145.0 499.4 147.7 499.6 145.0 499.8 145.3 500.0 148.5 500.2 146.9 500.4 147.3 500.6 145.9 500.8 149.1 501.0 150.5 501.2 149.5 501.4 151.2 501.6 150.7 501.8 156.3 502.0 154.2 502.2 155.6 502.4 158.1 502.6 157.0 502.8 156.6 503.0 156.8 503.2 157.6 503.4 160.6 503.6 155.8 503.8 153.3 504.0 153.9 504.2 155.8 504.4 151.1 504.6 153.8 504.8 151.2 505.0 149.6 505.2 144.9 505.4 146.4 505.6 145.0 505.8 142.5 506.0 146.1 506.2 141.9 506.4 141.1 506.6 141.5 506.8 140.9 507.0 142.8 507.2 140.4 507.4 142.6 507.6 140.5 507.8 141.3 508.0 137.9 508.2 137.9 508.4 138.2 508.6 137.3 508.8 135.9 509.0 137.3 509.2 136.4 509.4 137.2 509.6 135.7 509.8 135.8 510.0 135.5 510.2 135.4 510.4 135.6 510.6 138.4 510.8 138.5 511.0 138.2 511.2 144.0 511.4 140.1 511.6 144.7 511.8 146.8 512.0 146.6 512.2 152.5 512.4 148.3 512.6 146.7 512.8 151.4 513.0 148.0 513.2 148.7 513.4 149.1 513.6 153.8 513.8 155.7 514.0 158.4 514.2 157.3 514.4 158.8 514.6 162.5 514.8 154.2 515.0 154.8 515.2 154.1 515.4 153.3 515.6 149.4 515.8 145.9 516.0 145.0 516.2 146.6 516.4 144.4 516.6 139.0 516.8 141.5 517.0 142.2 517.2 141.2 517.4 143.1 517.6 141.0 517.8 142.9 518.0 143.0 518.2 144.6 518.4 147.8 518.6 148.7 518.8 148.0 519.0 152.7 519.2 156.5 519.4 154.4 519.6 159.1 519.8 159.6 520.0 158.2 520.2 158.2 520.4 156.5 520.6 157.7 520.8 160.0 521.0 156.9 521.2 159.3 521.4 158.4 521.6 161.0 521.8 157.0 522.0 157.2 522.2 162.4 522.4 162.7 522.6 163.8 522.8 162.4 523.0 161.4 523.2 162.5 523.4 160.9 523.6 160.9 523.8 161.9 524.0 159.8 524.2 163.9 524.4 157.3 524.6 163.6 524.8 157.1 525.0 161.2 525.2 162.5 525.4 161.2 525.6 159.4 525.8 157.8 526.0 154.7 526.2 158.1 526.4 158.4 526.6 154.4 526.8 154.7 527.0 156.6 527.2 157.3 527.4 156.6 527.6 157.2 527.8 155.9 528.0 154.8 528.2 150.1 528.4 157.4 528.6 154.1 528.8 155.1 529.0 153.9 529.2 153.8 529.4 152.6 529.6 153.0 529.8 152.8 530.0 151.6 530.2 154.8 530.4 150.2 530.6 150.8 530.8 149.9 531.0 153.8 531.2 151.1 531.4 152.9 531.6 155.4 531.8 147.9 532.0 151.5 532.2 148.6 532.4 147.0 532.6 143.3 532.8 144.2 533.0 138.5 533.2 141.0 533.4 139.3 533.6 142.4 533.8 136.9 534.0 138.5 534.2 139.1 534.4 138.8 534.6 134.6 534.8 136.7 535.0 131.5 535.2 131.9 535.4 133.8 535.6 132.8 535.8 129.4 536.0 131.0 536.2 131.8 536.4 130.6 536.6 130.4 536.8 129.6 537.0 136.0 537.2 136.9 537.4 135.5 537.6 136.4 537.8 139.5 538.0 139.8 538.2 139.3 538.4 139.8 538.6 140.3 538.8 142.8 539.0 138.6 539.2 144.7 539.4 141.4 539.6 143.1 539.8 146.0 540.0 143.8 540.2 145.9 540.4 145.8 540.6 145.2 540.8 147.2 541.0 149.8 541.2 150.6 541.4 149.1 541.6 153.4 541.8 154.4 542.0 155.6 542.2 156.1 542.4 154.7 542.6 162.9 542.8 160.5 543.0 162.5 543.2 165.3 543.4 166.0 543.6 165.2 543.8 164.6 544.0 165.1 544.2 165.4 544.4 167.6 544.6 165.6 544.8 167.5 545.0 167.3 545.2 165.9 545.4 163.5 545.6 163.3 545.8 159.0 546.0 158.5 546.2 159.2 546.4 159.7 546.6 160.5 546.8 161.6 547.0 164.9 547.2 167.9 547.4 166.0 547.6 167.0 547.8 168.2 548.0 172.1 548.2 170.3 548.4 168.8 548.6 171.8 548.8 169.2 549.0 172.4 549.2 172.4 549.4 172.3 549.6 173.2 549.8 175.3 550.0 178.1 550.2 174.0 550.4 176.5 550.6 177.7 550.8 179.8 551.0 174.6 551.2 174.3 551.4 174.7 551.6 179.5 551.8 178.0 552.0 175.5 552.2 177.0 552.4 171.5 552.6 172.3 552.8 178.0 553.0 178.8 553.2 176.7 553.4 181.2 553.6 180.2 553.8 181.1 554.0 177.5 554.2 177.7 554.4 175.5 554.6 178.2 554.8 179.8 555.0 183.2 555.2 179.9 555.4 175.9 555.6 178.4 555.8 180.2 556.0 178.2 556.2 175.9 556.4 174.4 556.6 174.1 556.8 169.9 557.0 173.1 557.2 168.3 557.4 170.3 557.6 163.4 557.8 159.2 558.0 158.9 558.2 151.5 558.4 145.3 558.6 141.3 558.8 134.0 559.0 127.9 559.2 123.8 559.4 118.2 559.6 115.7 559.8 114.6 560.0 106.5 560.2 104.6 560.4 101.7 560.6 97.4 560.8 93.2 561.0 90.9 561.2 90.4 561.4 84.9 561.6 87.5 561.8 86.5 562.0 89.9 562.2 90.5 562.4 91.9 562.6 95.1 562.8 96.5 563.0 100.8 563.2 98.7 563.4 103.1 563.6 106.3 563.8 105.8 564.0 106.3 564.2 108.9 564.4 111.1 564.6 115.4 564.8 117.0 565.0 118.9 565.2 120.5 565.4 120.7 565.6 125.0 565.8 129.9 566.0 132.7 566.2 138.6 566.4 143.2 566.6 149.7 566.8 150.3 567.0 152.7 567.2 159.3 567.4 157.2 567.6 160.4 567.8 163.6 568.0 164.0 568.2 165.8 568.4 164.5 568.6 164.8 568.8 168.5 569.0 168.6 569.2 170.8 569.4 171.7 569.6 174.1 569.8 171.9 570.0 176.6 570.2 174.2 570.4 174.5 570.6 175.7 570.8 176.5 571.0 180.1 571.2 180.5 571.4 178.2 571.6 180.6 571.8 180.5 572.0 177.5 572.2 177.3 572.4 177.0 572.6 178.6 572.8 176.2 573.0 178.1 573.2 178.3 573.4 178.0 573.6 181.2 573.8 183.8 574.0 180.6 574.2 182.9 574.4 185.1 574.6 183.6 574.8 184.4 575.0 183.1 575.2 184.7 575.4 186.6 575.6 188.0 575.8 190.3 576.0 191.2 576.2 195.8 576.4 193.8 576.6 196.6 576.8 196.6 577.0 194.5 577.2 198.4 577.4 192.5 577.6 200.2 577.8 199.2 578.0 199.7 578.2 196.5 578.4 203.7 578.6 201.3 578.8 201.2 579.0 203.5 579.2 203.5 579.4 204.3 579.6 209.2 579.8 206.7 580.0 211.3 580.2 211.7 580.4 214.5 580.6 212.4 580.8 216.0 581.0 214.9 581.2 215.0 581.4 209.5 581.6 214.0 581.8 210.5 582.0 210.1 582.2 206.2 582.4 206.4 582.6 204.5 582.8 200.5 583.0 200.0 583.2 200.3 583.4 202.1 583.6 199.8 583.8 199.8 584.0 197.7 584.2 197.5 584.4 197.2 584.6 198.4 584.8 200.2 585.0 200.1 585.2 199.6 585.4 198.0 585.6 201.5 585.8 200.5 586.0 199.6 586.2 203.0 586.4 200.5 586.6 202.0 586.8 204.3 587.0 206.8 587.2 203.5 587.4 203.1 587.6 202.7 587.8 200.3 588.0 200.3 588.2 200.8 588.4 204.7 588.6 204.5 588.8 200.5 589.0 202.0 589.2 201.1 589.4 199.8 589.6 200.7 589.8 203.9 590.0 199.9 590.2 202.3 590.4 200.9 590.6 201.4 590.8 199.7 591.0 202.3 591.2 202.5 591.4 203.6 591.6 202.6 591.8 200.6 592.0 207.1 592.2 202.5 592.4 205.3 592.6 209.3 592.8 205.2 593.0 209.0 593.2 209.1 593.4 207.8 593.6 202.7 593.8 207.7 594.0 204.8 594.2 203.5 594.4 206.0 594.6 201.8 594.8 204.0 595.0 202.7 595.2 204.4 595.4 203.4 595.6 206.6 595.8 206.6 596.0 208.2 596.2 210.0 596.4 210.3 596.6 213.1 596.8 216.9 597.0 215.8 597.2 213.8 597.4 215.9 597.6 218.0 597.8 221.1 598.0 223.1 598.2 223.7 598.4 223.2 598.6 223.9 598.8 222.1 599.0 227.8 599.2 228.2 599.4 229.4 599.6 228.8 599.8 231.4 600.0 230.0 600.2 233.0 600.4 231.4 600.6 234.8 600.8 233.4 601.0 236.5 601.2 234.0 601.4 234.8 601.6 234.7 601.8 235.0 602.0 236.2 602.2 234.4 602.4 234.4 602.6 234.4 602.8 235.9 603.0 236.6 603.2 235.6 603.4 238.0 603.6 240.8 603.8 239.0 604.0 240.5 604.2 240.8 604.4 241.2 604.6 240.4 604.8 241.1 605.0 240.1 605.2 242.8 605.4 244.1 605.6 243.5 605.8 249.2 606.0 249.2 606.2 248.5 606.4 251.7 606.6 248.5 606.8 251.6 607.0 250.1 607.2 250.9 607.4 249.9 607.6 247.5 607.8 253.1 608.0 250.4 608.2 248.7 608.4 248.3 608.6 247.8 608.8 248.4 609.0 245.5 609.2 243.6 609.4 247.9 609.6 241.8 609.8 240.0 610.0 240.0 610.2 240.7 610.4 247.4 610.6 245.9 610.8 248.6 611.0 249.4 611.2 249.3 611.4 248.5 611.6 246.5 611.8 248.7 612.0 247.5 612.2 248.6 612.4 248.9 612.6 254.0 612.8 253.0 613.0 250.7 613.2 247.6 613.4 249.9 613.6 250.0 613.8 248.1 614.0 245.5 614.2 250.3 614.4 251.8 614.6 246.9 614.8 251.1 615.0 249.3 615.2 252.6 615.4 253.8 615.6 250.6 615.8 250.5 616.0 247.8 616.2 247.7 616.4 251.0 616.6 248.5 616.8 244.5 617.0 243.7 617.2 246.1 617.4 250.6 617.6 248.5 617.8 248.6 618.0 248.8 618.2 246.5 618.4 250.8 618.6 250.1 618.8 249.3 619.0 249.9 619.2 248.7 619.4 249.3 619.6 248.9 619.8 255.0 620.0 256.1 620.2 259.8 620.4 259.3 620.6 261.9 620.8 265.8 621.0 268.9 621.2 268.5 621.4 269.3 621.6 267.2 621.8 266.9 622.0 268.0 622.2 268.1 622.4 268.7 622.6 266.9 622.8 271.7 623.0 269.2 623.2 266.3 623.4 267.8 623.6 266.2 623.8 268.5 624.0 269.9 624.2 265.8 624.4 269.8 624.6 268.8 624.8 272.1 625.0 271.8 625.2 271.4 625.4 271.0 625.6 270.6 625.8 270.4 626.0 269.0 626.2 271.8 626.4 270.5 626.6 270.5 626.8 270.2 627.0 269.1 627.2 269.4 627.4 269.9 627.6 270.9 627.8 269.9 628.0 272.2 628.2 264.9 628.4 264.9 628.6 268.5 628.8 270.3 629.0 269.9 629.2 272.3 629.4 271.7 629.6 271.9 629.8 271.2 630.0 271.6 630.2 269.0 630.4 269.6 630.6 269.5 630.8 269.8 631.0 266.1 631.2 265.8 631.4 265.7 631.6 267.6 631.8 263.8 632.0 264.8 632.2 269.8 632.4 269.9 632.6 266.7 632.8 267.7 633.0 269.5 633.2 269.4 633.4 265.7 633.6 264.5 633.8 264.6 634.0 264.6 634.2 265.5 634.4 263.8 634.6 262.6 634.8 265.7 635.0 260.9 635.2 263.5 635.4 261.0 635.6 259.4 635.8 260.3 636.0 260.6 636.2 262.8 636.4 264.6 636.6 264.1 636.8 263.8 637.0 262.6 637.2 266.6 637.4 264.0 637.6 267.0 637.8 262.8 638.0 265.5 638.2 260.3 638.4 262.2 638.6 259.5 638.8 261.9 639.0 259.6 639.2 256.7 639.4 257.8 639.6 258.9 639.8 259.7 640.0 256.3 640.2 257.7 640.4 258.5 640.6 258.7 640.8 260.0 641.0 257.7 641.2 256.9 641.4 260.5 641.6 259.1 641.8 261.0 642.0 259.3 642.2 261.5 642.4 258.8 642.6 259.9 642.8 260.0 643.0 261.1 643.2 259.7 643.4 262.6 643.6 261.5 643.8 261.0 644.0 262.5 644.2 264.8 644.4 259.1 644.6 261.6 644.8 261.5 645.0 262.8 645.2 261.6 645.4 260.7 645.6 260.0 645.8 262.9 646.0 263.0 646.2 257.0 646.4 261.2 646.6 260.1 646.8 257.4 647.0 258.5 647.2 259.8 647.4 258.9 647.6 259.4 647.8 256.1 648.0 260.6 648.2 261.0 648.4 261.9 648.6 261.5 648.8 259.4 649.0 258.4 649.2 260.8 649.4 260.6 649.6 261.8 649.8 257.0 650.0 260.3 650.2 257.0 650.4 259.4 650.6 258.5 650.8 261.8 651.0 262.8 651.2 263.5 651.4 265.1 651.6 261.9 651.8 263.0 652.0 265.1 652.2 265.1 652.4 264.5 652.6 265.4 652.8 265.1 653.0 264.4 653.2 266.2 653.4 261.9 653.6 262.0 653.8 265.1 654.0 261.2 654.2 263.3 654.4 260.9 654.6 263.3 654.8 267.1 655.0 265.2 655.2 262.9 655.4 265.1 655.6 266.3 655.8 268.3 656.0 263.2 656.2 262.7 656.4 263.3 656.6 260.2 656.8 264.2 657.0 258.0 657.2 260.1 657.4 258.6 657.6 259.9 657.8 263.0 658.0 261.7 658.2 264.0 658.4 264.1 658.6 260.5 658.8 265.1 659.0 263.0 659.2 266.1 659.4 266.7 659.6 266.5 659.8 266.7 660.0 265.1 660.2 269.1 660.4 268.0 660.6 268.9 660.8 270.2 661.0 273.5 661.2 274.9 661.4 281.2 661.6 277.0 661.8 280.4 662.0 282.1 662.2 283.4 662.4 287.8 662.6 287.1 662.8 290.9 663.0 291.2 663.2 291.0 663.4 292.1 663.6 289.9 663.8 289.0 664.0 292.0 664.2 291.9 664.4 295.5 664.6 292.4 664.8 295.4 665.0 294.9 665.2 297.4 665.4 293.9 665.6 297.6 665.8 295.4 666.0 296.8 666.2 297.2 666.4 297.6 666.6 301.0 666.8 300.3 667.0 300.7 667.2 300.9 667.4 299.3 667.6 302.5 667.8 304.2 668.0 305.7 668.2 306.0 668.4 302.5 668.6 305.8 668.8 309.1 669.0 304.0 669.2 303.6 669.4 304.7 669.6 307.2 669.8 305.4 670.0 303.8 670.2 305.5 670.4 305.2 670.6 302.4 670.8 304.9 671.0 302.3 671.2 298.9 671.4 299.9 671.6 300.3 671.8 297.6 672.0 298.3 672.2 299.1 672.4 300.7 672.6 298.4 672.8 299.4 673.0 295.4 673.2 294.0 673.4 295.3 673.6 293.4 673.8 295.1 674.0 296.3 674.2 293.2 674.4 295.3 674.6 293.0 674.8 287.4 675.0 288.8 675.2 290.7 675.4 290.3 675.6 287.4 675.8 283.3 676.0 287.7 676.2 287.2 676.4 287.7 676.6 284.5 676.8 285.5 677.0 287.2 677.2 288.5 677.4 287.9 677.6 291.6 677.8 290.7 678.0 291.2 678.2 293.6 678.4 293.5 678.6 295.3 678.8 295.0 679.0 293.2 679.2 294.9 679.4 294.8 679.6 295.3 679.8 298.7 680.0 295.0 680.2 293.4 680.4 296.2 680.6 295.1 680.8 291.4 681.0 293.9 681.2 293.6 681.4 291.8 681.6 294.6 681.8 293.2 682.0 294.7 682.2 291.4 682.4 295.6 682.6 295.3 682.8 296.6 683.0 293.4 683.2 296.3 683.4 295.5 683.6 297.2 683.8 289.6" fill="none" stroke="#D95319" stroke-width="1.65" stroke-linejoin="round"/><path d="M69.0 127.0 69.2 123.0 69.4 115.9 69.6 110.6 69.8 110.3 70.0 108.5 70.2 110.2 70.4 108.9 70.6 109.9 70.8 111.6 71.0 114.2 71.2 110.6 71.4 115.6 71.6 118.0 71.8 119.0 72.0 121.8 72.2 128.3 72.4 125.4 72.6 128.4 72.8 127.0 73.0 127.2 73.2 124.9 73.4 131.2 73.6 130.3 73.8 129.5 74.0 135.0 74.2 132.4 74.4 130.8 74.6 130.6 74.8 134.1 75.0 131.2 75.2 129.6 75.4 127.9 75.6 127.8 75.8 129.4 76.0 129.4 76.2 126.3 76.4 129.6 76.6 131.3 76.8 136.6 77.0 131.8 77.2 129.3 77.4 133.9 77.6 133.0 77.8 131.0 78.0 133.4 78.2 132.2 78.4 131.2 78.6 129.1 78.8 131.1 79.0 131.0 79.2 127.8 79.4 132.3 79.6 128.3 79.8 133.5 80.0 132.1 80.2 131.0 80.4 131.7 80.6 131.1 80.8 132.6 81.0 136.5 81.2 133.2 81.4 137.6 81.6 134.9 81.8 138.2 82.0 140.7 82.2 137.0 82.4 138.2 82.6 135.0 82.8 136.0 83.0 136.7 83.2 137.2 83.4 138.2 83.6 135.9 83.8 137.3 84.0 138.4 84.2 136.0 84.4 139.4 84.6 141.5 84.8 141.2 85.0 135.9 85.2 136.6 85.4 135.9 85.6 138.2 85.8 137.2 86.0 135.9 86.2 136.4 86.4 135.2 86.6 136.4 86.8 136.2 87.0 134.4 87.2 133.8 87.4 134.6 87.6 134.3 87.8 138.6 88.0 139.4 88.2 141.8 88.4 138.1 88.6 137.5 88.8 137.4 89.0 137.7 89.2 136.7 89.4 136.0 89.6 137.8 89.8 137.6 90.0 132.9 90.2 139.8 90.4 138.9 90.6 140.1 90.8 138.9 91.0 139.5 91.2 138.8 91.4 138.6 91.6 139.8 91.8 137.4 92.0 135.0 92.2 135.6 92.4 136.3 92.6 140.0 92.8 137.2 93.0 143.3 93.2 140.5 93.4 140.3 93.6 141.4 93.8 139.7 94.0 139.9 94.2 140.2 94.4 139.5 94.6 138.7 94.8 145.2 95.0 142.5 95.2 140.7 95.4 141.0 95.6 142.2 95.8 139.9 96.0 140.3 96.2 142.6 96.4 141.0 96.6 144.0 96.8 143.0 97.0 143.8 97.2 147.0 97.4 143.6 97.6 147.0 97.8 145.8 98.0 144.2 98.2 143.9 98.4 145.6 98.6 148.1 98.8 148.8 99.0 144.9 99.2 148.3 99.4 145.9 99.6 144.0 99.8 144.0 100.0 145.8 100.2 146.3 100.4 148.2 100.6 149.5 100.8 147.9 101.0 147.0 101.2 142.5 101.4 141.8 101.6 141.4 101.8 140.4 102.0 142.3 102.2 141.9 102.4 140.2 102.6 139.1 102.8 143.3 103.0 136.7 103.2 139.0 103.4 138.1 103.6 138.3 103.8 142.4 104.0 141.3 104.2 144.8 104.4 140.6 104.6 144.7 104.8 145.2 105.0 139.7 105.2 142.0 105.4 142.0 105.6 143.4 105.8 141.2 106.0 145.4 106.2 144.3 106.4 142.8 106.6 140.9 106.8 143.0 107.0 143.0 107.2 146.1 107.4 143.8 107.6 141.4 107.8 143.1 108.0 144.0 108.2 144.0 108.4 144.5 108.6 147.8 108.8 147.0 109.0 144.2 109.2 146.8 109.4 147.6 109.6 146.0 109.8 149.2 110.0 145.1 110.2 147.1 110.4 144.4 110.6 147.2 110.8 144.4 111.0 142.2 111.2 141.1 111.4 143.7 111.6 144.4 111.8 143.2 112.0 144.5 112.2 145.5 112.4 147.5 112.6 145.1 112.8 149.4 113.0 145.4 113.2 148.3 113.4 149.4 113.6 151.7 113.8 148.1 114.0 145.3 114.2 145.0 114.4 149.3 114.6 147.3 114.8 146.2 115.0 148.9 115.2 149.4 115.4 147.7 115.6 148.9 115.8 143.9 116.0 148.0 116.2 145.3 116.4 146.2 116.6 145.2 116.8 145.6 117.0 146.8 117.2 144.7 117.4 142.0 117.6 142.9 117.8 143.7 118.0 143.4 118.2 142.5 118.4 140.4 118.6 141.5 118.8 136.8 119.0 143.4 119.2 138.7 119.4 138.4 119.6 139.4 119.8 138.5 120.0 138.5 120.2 139.9 120.4 137.9 120.6 137.4 120.8 138.2 121.0 137.4 121.2 137.3 121.4 140.0 121.6 140.7 121.8 139.0 122.0 138.8 122.2 138.5 122.4 136.2 122.6 137.9 122.8 138.8 123.0 139.3 123.2 136.0 123.4 134.7 123.6 138.6 123.8 140.8 124.0 134.6 124.2 139.4 124.4 139.7 124.6 135.5 124.8 135.7 125.0 138.8 125.2 138.8 125.4 136.6 125.6 141.4 125.8 142.9 126.0 142.2 126.2 140.1 126.4 140.8 126.6 142.2 126.8 140.7 127.0 144.3 127.2 143.6 127.4 139.3 127.6 141.8 127.8 143.5 128.0 141.6 128.2 138.7 128.4 140.9 128.6 141.2 128.8 141.9 129.0 141.5 129.2 141.5 129.4 144.0 129.6 145.0 129.8 141.5 130.0 139.3 130.2 142.2 130.4 142.7 130.6 144.1 130.8 142.9 131.0 144.5 131.2 142.1 131.4 145.5 131.6 145.9 131.8 141.3 132.0 137.7 132.2 140.9 132.4 140.7 132.6 143.5 132.8 143.7 133.0 143.9 133.2 148.1 133.4 142.3 133.6 143.5 133.8 145.4 134.0 144.5 134.2 147.5 134.4 145.1 134.6 143.9 134.8 145.4 135.0 146.4 135.2 146.1 135.4 146.9 135.6 146.3 135.8 143.2 136.0 143.6 136.2 143.5 136.4 148.0 136.6 141.8 136.8 146.6 137.0 144.9 137.2 144.4 137.4 143.8 137.6 142.8 137.8 141.9 138.0 141.8 138.2 146.9 138.4 144.5 138.6 143.4 138.8 142.3 139.0 138.6 139.2 140.8 139.4 140.9 139.6 143.7 139.8 140.4 140.0 141.9 140.2 142.1 140.4 141.9 140.6 140.4 140.8 141.9 141.0 140.8 141.2 137.4 141.4 140.7 141.6 141.5 141.8 136.5 142.0 139.7 142.2 136.3 142.4 138.9 142.6 142.9 142.8 139.9 143.0 141.6 143.2 139.3 143.4 140.6 143.6 138.1 143.8 141.8 144.0 141.1 144.2 140.2 144.4 137.4 144.6 138.7 144.8 138.6 145.0 140.8 145.2 143.2 145.4 142.2 145.6 144.8 145.8 142.3 146.0 145.7 146.2 144.7 146.4 146.3 146.6 141.6 146.8 140.5 147.0 138.8 147.2 142.7 147.4 139.8 147.6 143.5 147.8 142.5 148.0 144.7 148.2 141.8 148.4 141.1 148.6 142.6 148.8 144.4 149.0 142.2 149.2 145.8 149.4 143.4 149.6 144.5 149.8 144.3 150.0 144.5 150.2 145.2 150.4 146.0 150.6 144.9 150.8 145.9 151.0 142.1 151.2 142.9 151.4 140.6 151.6 143.0 151.8 141.6 152.0 143.0 152.2 142.5 152.4 140.0 152.6 139.3 152.8 142.6 153.0 145.5 153.2 145.4 153.4 142.4 153.6 144.5 153.8 142.8 154.0 143.8 154.2 142.4 154.4 145.5 154.6 146.3 154.8 144.3 155.0 144.6 155.2 146.4 155.4 146.4 155.6 146.8 155.8 145.3 156.0 143.9 156.2 144.7 156.4 142.7 156.6 144.7 156.8 142.8 157.0 149.7 157.2 150.4 157.4 147.6 157.6 146.2 157.8 150.5 158.0 151.0 158.2 152.0 158.4 148.8 158.6 154.1 158.8 153.9 159.0 156.4 159.2 155.7 159.4 158.0 159.6 158.3 159.8 160.0 160.0 156.1 160.2 158.6 160.4 155.6 160.6 157.1 160.8 158.0 161.0 158.3 161.2 156.2 161.4 161.0 161.6 158.8 161.8 159.9 162.0 159.8 162.2 160.3 162.4 159.3 162.6 160.0 162.8 158.9 163.0 160.5 163.2 160.4 163.4 159.3 163.6 163.1 163.8 159.7 164.0 159.2 164.2 158.3 164.4 157.5 164.6 159.9 164.8 161.8 165.0 159.7 165.2 157.8 165.4 160.5 165.6 157.2 165.8 159.1 166.0 157.9 166.2 158.5 166.4 155.7 166.6 157.1 166.8 156.5 167.0 155.6 167.2 158.6 167.4 156.0 167.6 155.1 167.8 158.2 168.0 157.2 168.2 154.5 168.4 156.6 168.6 159.8 168.8 159.5 169.0 159.6 169.2 160.8 169.4 158.0 169.6 157.6 169.8 154.7 170.0 156.3 170.2 157.1 170.4 156.6 170.6 157.4 170.8 158.6 171.0 155.9 171.2 158.4 171.4 155.7 171.6 159.2 171.8 158.4 172.0 154.7 172.2 158.3 172.4 152.3 172.6 159.7 172.8 158.7 173.0 157.5 173.2 155.0 173.4 158.3 173.6 158.8 173.8 164.4 174.0 160.8 174.2 161.2 174.4 162.6 174.6 161.5 174.8 162.8 175.0 160.8 175.2 162.2 175.4 159.8 175.6 161.8 175.8 160.0 176.0 161.2 176.2 157.9 176.4 160.1 176.6 161.0 176.8 161.4 177.0 157.3 177.2 159.1 177.4 158.2 177.6 161.7 177.8 158.1 178.0 161.1 178.2 159.2 178.4 156.9 178.6 158.8 178.8 156.4 179.0 159.6 179.2 160.0 179.4 160.0 179.6 156.0 179.8 160.3 180.0 160.3 180.2 156.2 180.4 164.3 180.6 163.4 180.8 159.7 181.0 161.5 181.2 157.8 181.4 159.8 181.6 160.7 181.8 161.5 182.0 159.2 182.2 159.9 182.4 158.5 182.6 161.3 182.8 162.9 183.0 159.1 183.2 161.6 183.4 162.3 183.6 163.1 183.8 165.0 184.0 162.1 184.2 163.8 184.4 161.3 184.6 164.8 184.8 163.3 185.0 164.9 185.2 163.3 185.4 162.0 185.6 163.1 185.8 161.9 186.0 163.4 186.2 161.5 186.4 160.2 186.6 159.4 186.8 163.5 187.0 157.8 187.2 158.9 187.4 158.6 187.6 160.9 187.8 158.0 188.0 161.7 188.2 159.8 188.4 160.5 188.6 161.8 188.8 162.8 189.0 159.4 189.2 159.4 189.4 158.5 189.6 155.8 189.8 161.6 190.0 160.5 190.2 161.7 190.4 160.1 190.6 160.9 190.8 160.3 191.0 162.3 191.2 160.3 191.4 162.3 191.6 163.9 191.8 160.2 192.0 159.2 192.2 161.3 192.4 157.9 192.6 157.5 192.8 160.4 193.0 156.1 193.2 157.5 193.4 159.0 193.6 158.2 193.8 156.9 194.0 155.4 194.2 154.6 194.4 154.5 194.6 157.6 194.8 156.9 195.0 158.7 195.2 156.7 195.4 160.6 195.6 157.8 195.8 159.4 196.0 157.8 196.2 160.1 196.4 160.2 196.6 160.6 196.8 158.1 197.0 161.6 197.2 162.5 197.4 161.9 197.6 160.1 197.8 160.9 198.0 159.5 198.2 161.7 198.4 161.6 198.6 163.2 198.8 162.1 199.0 162.2 199.2 163.3 199.4 158.6 199.6 162.4 199.8 160.1 200.0 157.9 200.2 159.3 200.4 160.4 200.6 163.3 200.8 160.7 201.0 159.1 201.2 159.5 201.4 155.9 201.6 157.6 201.8 158.6 202.0 157.1 202.2 159.7 202.4 165.5 202.6 161.8 202.8 160.3 203.0 161.5 203.2 158.9 203.4 157.5 203.6 159.7 203.8 156.3 204.0 158.6 204.2 160.8 204.4 162.4 204.6 160.9 204.8 161.4 205.0 163.7 205.2 163.0 205.4 165.0 205.6 165.4 205.8 165.3 206.0 165.8 206.2 164.5 206.4 166.2 206.6 164.3 206.8 165.0 207.0 166.7 207.2 164.1 207.4 163.2 207.6 166.9 207.8 169.1 208.0 169.0 208.2 169.9 208.4 173.1 208.6 171.4 208.8 173.7 209.0 172.7 209.2 172.4 209.4 170.5 209.6 169.5 209.8 170.6 210.0 174.7 210.2 168.2 210.4 168.1 210.6 171.9 210.8 169.3 211.0 174.8 211.2 170.8 211.4 172.3 211.6 172.9 211.8 175.7 212.0 173.7 212.2 173.4 212.4 173.5 212.6 173.5 212.8 170.2 213.0 175.5 213.2 177.9 213.4 175.0 213.6 177.0 213.8 179.4 214.0 179.8 214.2 176.2 214.4 178.4 214.6 175.8 214.8 177.7 215.0 174.5 215.2 175.9 215.4 175.5 215.6 178.2 215.8 173.8 216.0 177.2 216.2 181.7 216.4 180.5 216.6 176.8 216.8 179.8 217.0 179.7 217.2 182.3 217.4 177.5 217.6 179.0 217.8 180.6 218.0 178.5 218.2 174.8 218.4 176.7 218.6 174.3 218.8 179.7 219.0 175.8 219.2 178.2 219.4 176.8 219.6 173.6 219.8 175.3 220.0 177.5 220.2 178.2 220.4 180.2 220.6 179.9 220.8 178.8 221.0 180.3 221.2 178.5 221.4 178.1 221.6 180.4 221.8 181.2 222.0 179.6 222.2 181.6 222.4 180.9 222.6 181.1 222.8 183.9 223.0 178.9 223.2 180.5 223.4 182.3 223.6 181.0 223.8 182.2 224.0 180.2 224.2 182.8 224.4 183.0 224.6 183.2 224.8 183.8 225.0 183.7 225.2 187.4 225.4 189.4 225.6 186.1 225.8 188.7 226.0 188.0 226.2 184.4 226.4 187.9 226.6 192.9 226.8 194.8 227.0 192.4 227.2 199.6 227.4 197.4 227.6 198.2 227.8 199.9 228.0 203.6 228.2 204.1 228.4 204.7 228.6 200.8 228.8 204.3 229.0 201.7 229.2 201.5 229.4 199.5 229.6 201.3 229.8 197.5 230.0 195.1 230.2 193.8 230.4 196.2 230.6 195.3 230.8 193.3 231.0 196.5 231.2 195.7 231.4 196.2 231.6 195.1 231.8 196.9 232.0 198.0 232.2 197.4 232.4 193.8 232.6 196.8 232.8 197.4 233.0 195.9 233.2 195.9 233.4 193.7 233.6 195.8 233.8 193.7 234.0 194.2 234.2 195.2 234.4 195.6 234.6 197.9 234.8 195.7 235.0 197.6 235.2 199.6 235.4 199.1 235.6 200.9 235.8 200.3 236.0 199.9 236.2 202.1 236.4 200.8 236.6 197.6 236.8 193.7 237.0 188.4 237.2 186.2 237.4 181.9 237.6 179.1 237.8 173.5 238.0 176.2 238.2 167.5 238.4 162.2 238.6 150.6 238.8 146.0 239.0 137.4 239.2 128.1 239.4 123.4 239.6 113.3 239.8 104.7 240.0 96.8 240.2 85.1 240.4 96.3 240.6 104.7 240.8 98.6 241.0 89.1 241.2 81.3 241.4 75.4 241.6 68.1 241.8 66.0 242.0 56.8 242.2 57.4 242.4 62.8 242.6 66.6 242.8 67.9 243.0 70.7 243.2 69.0 243.4 66.7 243.6 62.0 243.8 65.6 244.0 65.7 244.2 69.9 244.4 65.5 244.6 68.1 244.8 65.5 245.0 61.8 245.2 57.2 245.4 57.8 245.6 53.0 245.8 50.1 246.0 51.3 246.2 53.3 246.4 57.2 246.6 58.6 246.8 59.7 247.0 57.9 247.2 52.4 247.4 51.7 247.6 44.8 247.8 42.7 248.0 45.9 248.2 46.1 248.4 53.3 248.6 56.6 248.8 59.8 249.0 65.4 249.2 62.6 249.4 65.4 249.6 65.1 249.8 68.2 250.0 73.6 250.2 73.4 250.4 78.4 250.6 77.2 250.8 84.0 251.0 84.9 251.2 87.2 251.4 92.0 251.6 90.9 251.8 94.2 252.0 94.8 252.2 98.2 252.4 98.9 252.6 99.0 252.8 103.3 253.0 103.8 253.2 106.7 253.4 106.9 253.6 112.9 253.8 109.7 254.0 111.9 254.2 112.8 254.4 111.6 254.6 113.0 254.8 115.6 255.0 116.3 255.2 116.9 255.4 115.3 255.6 116.7 255.8 119.2 256.0 120.1 256.2 124.0 256.4 123.2 256.6 124.6 256.8 126.1 257.0 119.5 257.2 124.5 257.4 122.7 257.6 122.2 257.8 122.8 258.0 119.7 258.2 119.6 258.4 119.1 258.6 119.6 258.8 122.0 259.0 121.3 259.2 125.6 259.4 122.8 259.6 128.2 259.8 124.2 260.0 127.4 260.2 129.8 260.4 126.5 260.6 127.6 260.8 129.4 261.0 132.9 261.2 132.9 261.4 133.4 261.6 135.3 261.8 130.0 262.0 131.5 262.2 135.4 262.4 133.3 262.6 132.9 262.8 131.0 263.0 132.3 263.2 129.2 263.4 132.1 263.6 134.0 263.8 133.4 264.0 133.7 264.2 131.2 264.4 131.0 264.6 127.5 264.8 129.7 265.0 131.9 265.2 124.6 265.4 125.2 265.6 124.5 265.8 126.5 266.0 123.5 266.2 120.1 266.4 121.0 266.6 124.8 266.8 123.9 267.0 124.4 267.2 124.3 267.4 126.4 267.6 127.3 267.8 126.4 268.0 124.1 268.2 123.9 268.4 126.7 268.6 128.5 268.8 127.5 269.0 129.9 269.2 133.9 269.4 133.4 269.6 132.5 269.8 136.2 270.0 137.8 270.2 138.9 270.4 138.9 270.6 140.0 270.8 137.9 271.0 136.5 271.2 133.9 271.4 137.5 271.6 138.8 271.8 141.5 272.0 140.8 272.2 143.8 272.4 143.4 272.6 142.8 272.8 142.0 273.0 142.4 273.2 143.5 273.4 143.5 273.6 141.4 273.8 144.3 274.0 143.5 274.2 140.4 274.4 138.1 274.6 140.5 274.8 140.3 275.0 136.7 275.2 139.7 275.4 136.4 275.6 135.8 275.8 139.1 276.0 141.0 276.2 141.4 276.4 138.2 276.6 140.2 276.8 140.7 277.0 142.9 277.2 142.2 277.4 140.7 277.6 142.8 277.8 137.9 278.0 133.7 278.2 129.3 278.4 123.9 278.6 120.5 278.8 116.7 279.0 111.9 279.2 107.2 279.4 101.3 279.6 95.0 279.8 90.1 280.0 91.5 280.2 93.2 280.4 95.5 280.6 94.7 280.8 97.5 281.0 100.0 281.2 100.4 281.4 102.0 281.6 104.5 281.8 106.6 282.0 106.1 282.2 108.2 282.4 108.7 282.6 105.7 282.8 103.8 283.0 106.3 283.2 107.7 283.4 104.7 283.6 109.0 283.8 106.1 284.0 107.8 284.2 107.1 284.4 110.2 284.6 110.3 284.8 109.4 285.0 106.8 285.2 110.4 285.4 104.5 285.6 106.0 285.8 106.3 286.0 102.7 286.2 103.5 286.4 100.9 286.6 98.4 286.8 96.0 287.0 96.7 287.2 92.9 287.4 82.8 287.6 75.2 287.8 69.1 288.0 60.6 288.2 55.0 288.4 57.5 288.6 58.5 288.8 60.6 289.0 60.8 289.2 60.8 289.4 62.5 289.6 63.8 289.8 67.0 290.0 64.1 290.2 63.7 290.4 68.2 290.6 66.2 290.8 69.7 291.0 71.3 291.2 68.8 291.4 71.2 291.6 71.9 291.8 74.1 292.0 74.1 292.2 72.4 292.4 71.8 292.6 66.7 292.8 70.9 293.0 70.4 293.2 71.6 293.4 71.0 293.6 71.7 293.8 70.5 294.0 77.0 294.2 73.5 294.4 73.9 294.6 73.7 294.8 73.2 295.0 71.3 295.2 71.5 295.4 67.4 295.6 69.7 295.8 65.5 296.0 66.7 296.2 65.0 296.4 64.3 296.6 61.6 296.8 57.6 297.0 56.0 297.2 57.4 297.4 56.9 297.6 53.5 297.8 53.7 298.0 53.8 298.2 50.9 298.4 51.9 298.6 49.4 298.8 47.4 299.0 49.6 299.2 53.0 299.4 55.3 299.6 54.1 299.8 58.7 300.0 56.8 300.2 56.8 300.4 56.0 300.6 56.9 300.8 58.9 301.0 54.6 301.2 57.8 301.4 58.3 301.6 61.1 301.8 62.8 302.0 61.9 302.2 64.9 302.4 70.2 302.6 68.6 302.8 70.0 303.0 71.1 303.2 74.8 303.4 75.1 303.6 74.3 303.8 71.1 304.0 71.4 304.2 68.0 304.4 73.2 304.6 71.4 304.8 70.0 305.0 69.9 305.2 67.5 305.4 67.3 305.6 67.8 305.8 67.7 306.0 64.5 306.2 62.9 306.4 63.3 306.6 62.2 306.8 62.1 307.0 65.3 307.2 60.5 307.4 63.0 307.6 64.2 307.8 64.7 308.0 66.3 308.2 65.7 308.4 67.3 308.6 73.5 308.8 70.4 309.0 72.5 309.2 73.4 309.4 71.9 309.6 75.3 309.8 76.1 310.0 77.8 310.2 77.4 310.4 74.6 310.6 80.1 310.8 76.0 311.0 82.3 311.2 84.1 311.4 87.2 311.6 89.0 311.8 90.5 312.0 89.1 312.2 91.2 312.4 96.0 312.6 98.6 312.8 101.6 313.0 102.8 313.2 103.1 313.4 103.1 313.6 104.9 313.8 107.6 314.0 108.8 314.2 111.2 314.4 108.0 314.6 111.1 314.8 111.8 315.0 112.4 315.2 111.3 315.4 116.0 315.6 114.4 315.8 111.0 316.0 112.5 316.2 112.2 316.4 111.5 316.6 112.3 316.8 113.5 317.0 114.7 317.2 114.4 317.4 115.6 317.6 112.0 317.8 107.4 318.0 112.6 318.2 112.6 318.4 111.2 318.6 112.3 318.8 109.4 319.0 107.9 319.2 109.0 319.4 113.4 319.6 112.7 319.8 107.8 320.0 112.4 320.2 110.4 320.4 111.6 320.6 110.4 320.8 115.5 321.0 113.2 321.2 113.1 321.4 110.6 321.6 113.5 321.8 114.0 322.0 116.2 322.2 116.0 322.4 117.4 322.6 116.5 322.8 118.7 323.0 119.2 323.2 120.3 323.4 115.3 323.6 115.9 323.8 116.3 324.0 115.5 324.2 115.1 324.4 114.3 324.6 115.9 324.8 115.7 325.0 115.3 325.2 116.1 325.4 117.1 325.6 117.0 325.8 113.4 326.0 111.9 326.2 115.5 326.4 116.6 326.6 121.3 326.8 119.6 327.0 120.9 327.2 124.9 327.4 124.6 327.6 126.7 327.8 132.4 328.0 134.6 328.2 133.7 328.4 133.3 328.6 135.6 328.8 137.0 329.0 137.0 329.2 141.2 329.4 141.5 329.6 142.8 329.8 141.0 330.0 143.3 330.2 145.1 330.4 142.0 330.6 147.2 330.8 139.9 331.0 139.7 331.2 140.5 331.4 138.1 331.6 139.7 331.8 138.1 332.0 138.2 332.2 138.5 332.4 137.2 332.6 137.2 332.8 137.8 333.0 138.3 333.2 139.2 333.4 136.4 333.6 134.9 333.8 135.6 334.0 136.3 334.2 136.1 334.4 134.7 334.6 132.9 334.8 138.9 335.0 135.2 335.2 138.7 335.4 137.7 335.6 141.2 335.8 141.6 336.0 142.8 336.2 140.5 336.4 140.8 336.6 142.4 336.8 142.5 337.0 138.3 337.2 139.3 337.4 140.6 337.6 137.2 337.8 134.6 338.0 135.0 338.2 133.0 338.4 133.1 338.6 128.5 338.8 132.9 339.0 127.2 339.2 132.0 339.4 129.0 339.6 125.4 339.8 125.0 340.0 124.7 340.2 123.7 340.4 123.9 340.6 125.8 340.8 125.0 341.0 129.2 341.2 130.5 341.4 130.6 341.6 130.1 341.8 131.1 342.0 130.6 342.2 134.3 342.4 135.4 342.6 138.2 342.8 139.6 343.0 139.8 343.2 135.1 343.4 134.5 343.6 139.9 343.8 137.7 344.0 138.4 344.2 137.9 344.4 135.6 344.6 134.5 344.8 132.4 345.0 135.6 345.2 133.9 345.4 132.9 345.6 130.5 345.8 132.3 346.0 132.6 346.2 132.2 346.4 127.2 346.6 131.5 346.8 133.2 347.0 129.1 347.2 130.9 347.4 132.1 347.6 129.7 347.8 131.3 348.0 129.1 348.2 129.5 348.4 130.4 348.6 128.2 348.8 127.9 349.0 124.4 349.2 126.8 349.4 124.5 349.6 128.8 349.8 127.2 350.0 126.5 350.2 131.1 350.4 131.6 350.6 133.9 350.8 135.2 351.0 138.1 351.2 139.0 351.4 140.0 351.6 139.0 351.8 138.0 352.0 140.7 352.2 140.3 352.4 143.3 352.6 144.5 352.8 143.8 353.0 145.8 353.2 142.4 353.4 144.6 353.6 145.7 353.8 142.4 354.0 142.9 354.2 145.1 354.4 143.7 354.6 145.4 354.8 146.8 355.0 144.1 355.2 145.6 355.4 143.8 355.6 145.4 355.8 147.7 356.0 144.7 356.2 148.5 356.4 146.9 356.6 146.8 356.8 144.4 357.0 145.4 357.2 145.1 357.4 144.4 357.6 143.3 357.8 145.0 358.0 148.0 358.2 140.9 358.4 145.7 358.6 141.5 358.8 142.2 359.0 139.6 359.2 143.6 359.4 138.9 359.6 139.6 359.8 143.8 360.0 137.5 360.2 138.0 360.4 140.5 360.6 139.9 360.8 140.8 361.0 141.1 361.2 138.4 361.4 142.2 361.6 141.6 361.8 137.7 362.0 140.2 362.2 140.2 362.4 141.8 362.6 139.7 362.8 141.9 363.0 139.5 363.2 137.2 363.4 136.6 363.6 136.8 363.8 141.3 364.0 138.9 364.2 136.4 364.4 136.2 364.6 138.3 364.8 133.8 365.0 132.7 365.2 136.9 365.4 135.6 365.6 135.1 365.8 135.3 366.0 135.9 366.2 130.4 366.4 137.1 366.6 135.0 366.8 136.5 367.0 134.9 367.2 139.6 367.4 131.5 367.6 132.6 367.8 125.4 368.0 129.8 368.2 132.1 368.4 128.2 368.6 127.5 368.8 130.9 369.0 133.5 369.2 134.6 369.4 130.7 369.6 133.0 369.8 130.8 370.0 135.1 370.2 130.8 370.4 132.9 370.6 132.2 370.8 134.6 371.0 138.8 371.2 136.8 371.4 139.3 371.6 138.5 371.8 140.2 372.0 140.2 372.2 145.3 372.4 144.2 372.6 145.7 372.8 144.1 373.0 149.2 373.2 149.3 373.4 149.5 373.6 151.0 373.8 146.6 374.0 152.6 374.2 155.0 374.4 155.7 374.6 155.2 374.8 157.4 375.0 155.7 375.2 153.8 375.4 150.6 375.6 150.4 375.8 146.1 376.0 142.3 376.2 143.6 376.4 139.6 376.6 136.4 376.8 133.6 377.0 131.8 377.2 133.4 377.4 132.0 377.6 131.3 377.8 130.8 378.0 130.2 378.2 128.7 378.4 125.3 378.6 121.0 378.8 128.7 379.0 127.2 379.2 124.1 379.4 125.9 379.6 121.2 379.8 126.0 380.0 122.5 380.2 123.3 380.4 121.1 380.6 121.3 380.8 123.8 381.0 125.4 381.2 124.8 381.4 125.3 381.6 125.1 381.8 129.3 382.0 129.0 382.2 128.6 382.4 128.1 382.6 127.1 382.8 127.4 383.0 126.3 383.2 130.7 383.4 132.5 383.6 132.3 383.8 128.1 384.0 127.6 384.2 126.7 384.4 128.6 384.6 123.2 384.8 121.8 385.0 126.9 385.2 125.6 385.4 121.6 385.6 125.7 385.8 126.3 386.0 125.2 386.2 119.4 386.4 120.5 386.6 116.3 386.8 116.1 387.0 115.1 387.2 121.8 387.4 118.1 387.6 121.2 387.8 123.5 388.0 124.2 388.2 123.5 388.4 124.7 388.6 128.1 388.8 127.9 389.0 127.7 389.2 134.0 389.4 131.7 389.6 132.5 389.8 131.9 390.0 129.0 390.2 130.7 390.4 130.3 390.6 132.8 390.8 134.8 391.0 131.6 391.2 130.0 391.4 134.7 391.6 132.4 391.8 129.5 392.0 129.2 392.2 132.6 392.4 134.9 392.6 134.0 392.8 135.4 393.0 135.7 393.2 134.3 393.4 135.1 393.6 137.1 393.8 133.8 394.0 136.1 394.2 135.2 394.4 136.9 394.6 135.9 394.8 134.3 395.0 135.2 395.2 135.4 395.4 138.6 395.6 133.4 395.8 137.5 396.0 137.5 396.2 136.3 396.4 141.1 396.6 134.1 396.8 137.7 397.0 137.4 397.2 137.3 397.4 136.4 397.6 134.8 397.8 137.1 398.0 139.9 398.2 139.8 398.4 136.3 398.6 139.7 398.8 141.0 399.0 139.8 399.2 140.9 399.4 139.2 399.6 137.8 399.8 138.7 400.0 137.2 400.2 137.8 400.4 135.9 400.6 142.3 400.8 141.1 401.0 139.7 401.2 139.9 401.4 134.3 401.6 139.9 401.8 136.7 402.0 139.7 402.2 134.7 402.4 138.2 402.6 136.2 402.8 135.2 403.0 139.6 403.2 137.7 403.4 136.1 403.6 137.7 403.8 139.8 404.0 139.1 404.2 141.5 404.4 137.7 404.6 134.7 404.8 134.0 405.0 135.4 405.2 135.6 405.4 136.7 405.6 136.4 405.8 135.7 406.0 135.5 406.2 137.4 406.4 136.8 406.6 136.4 406.8 136.6 407.0 140.1 407.2 140.2 407.4 139.0 407.6 133.8 407.8 139.4 408.0 135.7 408.2 139.1 408.4 137.7 408.6 134.6 408.8 135.4 409.0 137.9 409.2 142.0 409.4 140.4 409.6 138.4 409.8 142.0 410.0 139.8 410.2 141.1 410.4 140.1 410.6 143.1 410.8 140.1 411.0 142.7 411.2 139.1 411.4 142.5 411.6 141.3 411.8 142.7 412.0 136.6 412.2 141.2 412.4 141.9 412.6 141.0 412.8 143.9 413.0 145.9 413.2 142.7 413.4 143.2 413.6 144.5 413.8 142.5 414.0 143.7 414.2 140.0 414.4 138.1 414.6 137.3 414.8 138.7 415.0 137.7 415.2 136.5 415.4 138.0 415.6 141.3 415.8 136.9 416.0 138.5 416.2 142.1 416.4 143.7 416.6 138.9 416.8 139.7 417.0 141.6 417.2 143.0 417.4 142.7 417.6 140.5 417.8 145.4 418.0 143.2 418.2 142.0 418.4 140.7 418.6 142.7 418.8 141.2 419.0 142.8 419.2 142.4 419.4 142.6 419.6 145.1 419.8 147.6 420.0 144.8 420.2 147.1 420.4 147.9 420.6 149.8 420.8 146.0 421.0 142.4 421.2 147.3 421.4 146.1 421.6 145.3 421.8 144.8 422.0 140.6 422.2 141.8 422.4 148.0 422.6 144.7 422.8 142.0 423.0 144.4 423.2 146.0 423.4 140.9 423.6 143.6 423.8 144.0 424.0 142.5 424.2 145.5 424.4 143.3 424.6 145.3 424.8 146.4 425.0 149.0 425.2 149.2 425.4 148.3 425.6 150.8 425.8 147.5 426.0 155.0 426.2 152.9 426.4 155.2 426.6 156.3 426.8 157.0 427.0 156.2 427.2 153.5 427.4 152.1 427.6 154.3 427.8 153.1 428.0 154.3 428.2 155.1 428.4 154.7 428.6 156.3 428.8 155.6 429.0 152.0 429.2 155.2 429.4 154.6 429.6 150.5 429.8 152.5 430.0 152.6 430.2 150.7 430.4 151.0 430.6 149.9 430.8 150.3 431.0 150.1 431.2 147.7 431.4 147.3 431.6 150.5 431.8 145.8 432.0 148.7 432.2 146.5 432.4 147.5 432.6 148.4 432.8 143.5 433.0 147.6 433.2 145.9 433.4 153.9 433.6 149.2 433.8 153.0 434.0 151.2 434.2 153.4 434.4 150.7 434.6 151.2 434.8 151.4 435.0 153.3 435.2 156.0 435.4 153.0 435.6 153.8 435.8 152.4 436.0 155.4 436.2 154.5 436.4 157.1 436.6 157.9 436.8 157.0 437.0 157.5 437.2 159.2 437.4 158.8 437.6 157.8 437.8 165.2 438.0 163.1 438.2 163.4 438.4 167.5 438.6 163.6 438.8 167.0 439.0 162.5 439.2 167.3 439.4 165.9 439.6 164.0 439.8 163.9 440.0 165.7 440.2 166.1 440.4 170.4 440.6 167.0 440.8 168.1 441.0 168.6 441.2 166.5 441.4 167.2 441.6 166.1 441.8 169.2 442.0 165.4 442.2 166.7 442.4 169.3 442.6 165.9 442.8 167.4 443.0 173.3 443.2 168.9 443.4 173.0 443.6 170.5 443.8 169.2 444.0 167.3 444.2 174.4 444.4 170.1 444.6 172.8 444.8 170.9 445.0 174.8 445.2 174.2 445.4 174.7 445.6 178.9 445.8 180.5 446.0 183.3 446.2 184.0 446.4 185.6 446.6 185.4 446.8 188.0 447.0 187.1 447.2 188.4 447.4 190.9 447.6 192.3 447.8 186.6 448.0 194.3 448.2 190.2 448.4 198.1 448.6 198.0 448.8 200.9 449.0 198.4 449.2 201.9 449.4 200.7 449.6 199.0 449.8 199.0 450.0 200.5 450.2 198.9 450.4 196.8 450.6 193.7 450.8 194.5 451.0 195.5 451.2 195.8 451.4 197.0 451.6 196.8 451.8 194.9 452.0 197.0 452.2 198.0 452.4 195.5 452.6 197.2 452.8 194.2 453.0 195.8 453.2 194.8 453.4 197.5 453.6 195.1 453.8 192.9 454.0 190.4 454.2 189.8 454.4 191.7 454.6 189.5 454.8 190.6 455.0 187.6 455.2 187.5 455.4 189.8 455.6 189.9 455.8 189.2 456.0 189.4 456.2 190.9 456.4 187.6 456.6 190.6 456.8 191.1 457.0 187.4 457.2 187.0 457.4 186.5 457.6 188.9 457.8 182.8 458.0 182.3 458.2 185.2 458.4 182.6 458.6 185.9 458.8 183.0 459.0 184.7 459.2 182.8 459.4 181.3 459.6 180.2 459.8 178.6 460.0 178.8 460.2 180.6 460.4 183.8 460.6 182.6 460.8 182.5 461.0 181.9 461.2 184.3 461.4 184.9 461.6 183.5 461.8 186.0 462.0 179.5 462.2 179.2 462.4 180.4 462.6 181.1 462.8 181.2 463.0 181.0 463.2 179.4 463.4 179.4 463.6 181.1 463.8 182.6 464.0 181.1 464.2 181.5 464.4 187.1 464.6 183.7 464.8 182.1 465.0 184.2 465.2 183.1 465.4 183.2 465.6 181.8 465.8 182.8 466.0 182.7 466.2 179.6 466.4 178.1 466.6 184.0 466.8 181.0 467.0 181.6 467.2 180.7 467.4 183.9 467.6 182.9 467.8 181.2 468.0 182.7 468.2 180.9 468.4 184.2 468.6 184.0 468.8 182.0 469.0 179.9 469.2 182.5 469.4 185.5 469.6 184.9 469.8 187.1 470.0 187.6 470.2 190.2 470.4 189.6 470.6 187.7 470.8 192.1 471.0 191.1 471.2 191.2 471.4 188.2 471.6 187.6 471.8 188.4 472.0 186.8 472.2 187.3 472.4 188.3 472.6 190.5 472.8 190.6 473.0 187.4 473.2 190.5 473.4 188.1 473.6 188.5 473.8 187.6 474.0 187.5 474.2 188.0 474.4 190.1 474.6 187.7 474.8 189.8 475.0 186.9 475.2 189.0 475.4 187.5 475.6 186.7 475.8 189.2 476.0 187.3 476.2 187.2 476.4 185.9 476.6 189.6 476.8 186.4 477.0 186.5 477.2 187.6 477.4 189.6 477.6 188.9 477.8 189.4 478.0 184.2 478.2 186.8 478.4 190.9 478.6 192.1 478.8 186.9 479.0 188.6 479.2 186.7 479.4 188.6 479.6 188.2 479.8 188.8 480.0 189.1 480.2 192.0 480.4 190.9 480.6 192.2 480.8 194.4 481.0 192.2 481.2 190.1 481.4 192.0 481.6 193.8 481.8 187.9 482.0 190.1 482.2 188.3 482.4 188.7 482.6 190.6 482.8 185.4 483.0 187.7 483.2 189.1 483.4 190.8 483.6 193.6 483.8 196.1 484.0 192.5 484.2 191.3 484.4 191.4 484.6 192.7 484.8 188.9 485.0 190.6 485.2 191.7 485.4 193.9 485.6 190.7 485.8 194.8 486.0 192.1 486.2 195.6 486.4 194.7 486.6 189.9 486.8 194.0 487.0 192.7 487.2 191.5 487.4 193.9 487.6 195.0 487.8 190.9 488.0 188.2 488.2 189.4 488.4 190.7 488.6 192.1 488.8 195.5 489.0 195.2 489.2 193.9 489.4 195.5 489.6 192.3 489.8 192.0 490.0 190.5 490.2 192.2 490.4 192.2 490.6 190.3 490.8 193.8 491.0 190.4 491.2 186.3 491.4 187.4 491.6 184.9 491.8 188.4 492.0 186.7 492.2 191.6 492.4 187.9 492.6 186.5 492.8 185.2 493.0 184.1 493.2 187.7 493.4 184.6 493.6 187.9 493.8 185.6 494.0 188.5 494.2 180.8 494.4 185.7 494.6 183.0 494.8 182.6 495.0 183.3 495.2 187.6 495.4 184.3 495.6 185.8 495.8 186.9 496.0 187.4 496.2 189.2 496.4 189.8 496.6 186.5 496.8 186.6 497.0 185.0 497.2 187.3 497.4 186.3 497.6 187.2 497.8 189.1 498.0 185.5 498.2 185.8 498.4 185.5 498.6 187.3 498.8 184.0 499.0 179.9 499.2 182.4 499.4 180.8 499.6 181.0 499.8 181.6 500.0 181.1 500.2 178.7 500.4 182.0 500.6 184.2 500.8 181.6 501.0 184.7 501.2 184.0 501.4 181.8 501.6 182.5 501.8 184.4 502.0 184.3 502.2 185.7 502.4 185.1 502.6 184.6 502.8 187.9 503.0 184.1 503.2 183.9 503.4 188.5 503.6 188.0 503.8 189.1 504.0 186.2 504.2 185.2 504.4 189.5 504.6 188.1 504.8 187.8 505.0 186.7 505.2 187.6 505.4 181.9 505.6 184.7 505.8 181.3 506.0 184.8 506.2 179.5 506.4 181.7 506.6 184.0 506.8 178.3 507.0 176.2 507.2 181.1 507.4 176.6 507.6 176.3 507.8 179.9 508.0 173.5 508.2 177.7 508.4 179.1 508.6 180.3 508.8 179.1 509.0 184.2 509.2 186.1 509.4 184.4 509.6 184.8 509.8 183.3 510.0 187.0 510.2 185.5 510.4 187.5 510.6 189.7 510.8 188.1 511.0 184.9 511.2 187.8 511.4 191.3 511.6 191.0 511.8 194.2 512.0 186.7 512.2 190.0 512.4 189.5 512.6 188.6 512.8 191.7 513.0 193.7 513.2 193.0 513.4 191.8 513.6 193.3 513.8 195.5 514.0 192.4 514.2 195.5 514.4 197.5 514.6 194.5 514.8 197.1 515.0 194.0 515.2 196.6 515.4 197.1 515.6 196.9 515.8 195.5 516.0 194.4 516.2 195.9 516.4 197.0 516.6 199.2 516.8 196.9 517.0 198.1 517.2 200.9 517.4 197.9 517.6 200.0 517.8 201.1 518.0 199.7 518.2 200.1 518.4 200.9 518.6 198.9 518.8 196.9 519.0 197.1 519.2 199.1 519.4 201.0 519.6 201.8 519.8 203.6 520.0 202.5 520.2 201.5 520.4 199.8 520.6 201.5 520.8 202.2 521.0 199.8 521.2 200.4 521.4 197.6 521.6 200.4 521.8 200.7 522.0 196.0 522.2 197.2 522.4 200.5 522.6 199.4 522.8 196.4 523.0 194.9 523.2 195.8 523.4 198.0 523.6 201.0 523.8 200.2 524.0 199.0 524.2 197.3 524.4 198.4 524.6 194.0 524.8 196.4 525.0 199.2 525.2 201.4 525.4 202.4 525.6 199.3 525.8 200.4 526.0 198.2 526.2 198.3 526.4 199.0 526.6 196.8 526.8 196.6 527.0 197.2 527.2 194.5 527.4 195.8 527.6 195.7 527.8 196.7 528.0 195.6 528.2 196.3 528.4 198.7 528.6 195.9 528.8 195.9 529.0 192.8 529.2 192.1 529.4 189.8 529.6 194.4 529.8 191.9 530.0 191.3 530.2 192.0 530.4 195.5 530.6 193.8 530.8 194.1 531.0 194.9 531.2 194.4 531.4 196.9 531.6 196.3 531.8 200.5 532.0 195.3 532.2 199.0 532.4 195.0 532.6 198.6 532.8 195.2 533.0 193.1 533.2 198.0 533.4 200.8 533.6 200.7 533.8 202.5 534.0 198.0 534.2 200.3 534.4 198.5 534.6 197.6 534.8 197.4 535.0 196.4 535.2 198.8 535.4 195.1 535.6 199.8 535.8 197.7 536.0 198.7 536.2 199.7 536.4 195.6 536.6 195.6 536.8 195.9 537.0 192.5 537.2 192.2 537.4 192.7 537.6 191.6 537.8 192.7 538.0 191.8 538.2 192.3 538.4 194.4 538.6 194.8 538.8 194.3 539.0 193.2 539.2 196.3 539.4 196.7 539.6 198.9 539.8 197.2 540.0 195.6 540.2 200.7 540.4 199.6 540.6 203.4 540.8 199.2 541.0 201.6 541.2 203.4 541.4 207.1 541.6 206.1 541.8 203.1 542.0 200.9 542.2 204.5 542.4 203.2 542.6 199.9 542.8 199.0 543.0 201.8 543.2 200.6 543.4 202.6 543.6 204.6 543.8 204.5 544.0 206.2 544.2 207.4 544.4 207.6 544.6 207.3 544.8 209.0 545.0 205.0 545.2 210.1 545.4 209.2 545.6 208.2 545.8 209.6 546.0 211.5 546.2 209.8 546.4 206.7 546.6 207.2 546.8 208.5 547.0 211.5 547.2 210.6 547.4 208.8 547.6 208.8 547.8 208.8 548.0 209.6 548.2 210.9 548.4 205.0 548.6 211.3 548.8 209.9 549.0 209.5 549.2 208.7 549.4 208.4 549.6 211.0 549.8 209.5 550.0 212.7 550.2 214.0 550.4 208.4 550.6 210.3 550.8 210.5 551.0 215.0 551.2 211.7 551.4 210.9 551.6 213.1 551.8 214.1 552.0 215.6 552.2 212.0 552.4 209.9 552.6 209.7 552.8 210.2 553.0 212.6 553.2 215.0 553.4 213.8 553.6 214.4 553.8 217.3 554.0 213.8 554.2 215.3 554.4 211.9 554.6 212.6 554.8 212.8 555.0 213.1 555.2 216.2 555.4 218.2 555.6 216.1 555.8 213.9 556.0 217.7 556.2 217.2 556.4 213.9 556.6 216.9 556.8 215.6 557.0 212.8 557.2 212.2 557.4 212.8 557.6 219.3 557.8 216.9 558.0 214.3 558.2 215.2 558.4 214.2 558.6 214.5 558.8 215.1 559.0 215.9 559.2 217.5 559.4 220.6 559.6 220.4 559.8 217.9 560.0 219.0 560.2 217.6 560.4 216.7 560.6 221.2 560.8 222.2 561.0 220.5 561.2 223.1 561.4 222.7 561.6 223.2 561.8 221.8 562.0 219.4 562.2 226.0 562.4 222.6 562.6 225.8 562.8 225.2 563.0 222.7 563.2 225.0 563.4 222.9 563.6 221.8 563.8 221.4 564.0 221.2 564.2 225.2 564.4 231.1 564.6 233.1 564.8 239.9 565.0 246.9 565.2 249.5 565.4 263.6 565.6 273.6 565.8 275.8 566.0 269.5 566.2 257.5 566.4 255.0 566.6 252.4 566.8 250.1 567.0 245.0 567.2 243.9 567.4 243.4 567.6 244.7 567.8 247.5 568.0 244.0 568.2 243.8 568.4 246.1 568.6 246.2 568.8 243.1 569.0 246.4 569.2 246.0 569.4 244.2 569.6 245.9 569.8 242.0 570.0 244.1 570.2 244.4 570.4 246.3 570.6 247.3 570.8 247.1 571.0 247.6 571.2 249.7 571.4 250.5 571.6 251.4 571.8 249.7 572.0 251.3 572.2 250.5 572.4 253.6 572.6 249.9 572.8 250.9 573.0 254.0 573.2 250.3 573.4 251.2 573.6 251.7 573.8 250.5 574.0 254.0 574.2 250.9 574.4 253.8 574.6 248.1 574.8 248.6 575.0 252.0 575.2 254.8 575.4 255.9 575.6 251.6 575.8 254.2 576.0 253.5 576.2 251.3 576.4 255.6 576.6 255.6 576.8 258.1 577.0 257.6 577.2 256.7 577.4 256.6 577.6 258.6 577.8 260.3 578.0 259.0 578.2 264.2 578.4 260.6 578.6 258.7 578.8 260.2 579.0 259.8 579.2 259.1 579.4 258.2 579.6 259.5 579.8 260.3 580.0 261.3 580.2 264.7 580.4 266.3 580.6 264.7 580.8 269.5 581.0 267.5 581.2 266.5 581.4 269.2 581.6 272.1 581.8 265.7 582.0 268.7 582.2 273.5 582.4 269.5 582.6 266.6 582.8 268.5 583.0 265.5 583.2 271.8 583.4 265.5 583.6 265.9 583.8 267.4 584.0 263.8 584.2 261.2 584.4 265.5 584.6 266.6 584.8 264.4 585.0 265.0 585.2 266.0 585.4 266.6 585.6 263.0 585.8 268.0 586.0 266.9 586.2 268.1 586.4 267.5 586.6 267.6 586.8 265.9 587.0 267.8 587.2 269.3 587.4 267.1 587.6 271.0 587.8 267.3 588.0 268.8 588.2 266.6 588.4 266.5 588.6 269.1 588.8 267.0 589.0 265.7 589.2 265.9 589.4 267.7 589.6 265.6 589.8 269.1 590.0 268.8 590.2 269.7 590.4 265.8 590.6 266.6 590.8 266.5 591.0 267.3 591.2 266.0 591.4 266.4 591.6 260.5 591.8 262.4 592.0 262.0 592.2 259.3 592.4 263.9 592.6 265.6 592.8 267.9 593.0 268.5 593.2 271.0 593.4 268.5 593.6 265.8 593.8 268.7 594.0 269.7 594.2 270.2 594.4 269.5 594.6 272.9 594.8 270.6 595.0 271.1 595.2 269.7 595.4 270.9 595.6 274.5 595.8 272.9 596.0 268.9 596.2 274.5 596.4 268.3 596.6 270.6 596.8 273.4 597.0 272.7 597.2 274.5 597.4 274.4 597.6 273.5 597.8 271.5 598.0 273.9 598.2 271.2 598.4 266.8 598.6 271.3 598.8 273.6 599.0 272.1 599.2 273.3 599.4 275.9 599.6 274.0 599.8 276.2 600.0 274.7 600.2 275.4 600.4 273.2 600.6 276.4 600.8 277.9 601.0 274.4 601.2 277.7 601.4 272.8 601.6 275.7 601.8 276.8 602.0 274.0 602.2 274.1 602.4 277.4 602.6 278.0 602.8 279.6 603.0 279.5 603.2 282.3 603.4 284.2 603.6 283.2 603.8 279.8 604.0 284.0 604.2 284.1 604.4 284.7 604.6 287.4 604.8 286.7 605.0 286.5 605.2 288.0 605.4 284.7 605.6 288.2 605.8 287.4 606.0 291.6 606.2 289.7 606.4 288.0 606.6 288.3 606.8 290.0 607.0 291.9 607.2 292.6 607.4 295.1 607.6 296.2 607.8 297.0 608.0 298.7 608.2 296.2 608.4 298.3 608.6 296.7 608.8 295.8 609.0 295.3 609.2 299.2 609.4 301.8 609.6 303.2 609.8 300.4 610.0 304.7 610.2 305.0 610.4 301.2 610.6 301.5 610.8 302.0 611.0 299.1 611.2 299.0 611.4 294.8 611.6 294.5 611.8 295.2 612.0 292.1 612.2 292.9 612.4 291.2 612.6 287.5 612.8 290.4 613.0 287.9 613.2 287.4 613.4 285.7 613.6 285.8 613.8 282.5 614.0 284.3 614.2 281.2 614.4 281.4 614.6 278.8 614.8 276.4 615.0 276.2 615.2 279.4 615.4 276.5 615.6 279.0 615.8 274.9 616.0 276.0 616.2 275.7 616.4 275.3 616.6 270.1 616.8 270.1 617.0 272.7 617.2 268.3 617.4 270.1 617.6 267.0 617.8 270.3 618.0 267.3 618.2 267.4 618.4 273.0 618.6 270.2 618.8 270.8 619.0 269.7 619.2 267.0 619.4 270.7 619.6 271.6 619.8 272.1 620.0 274.0 620.2 271.6 620.4 271.0 620.6 271.7 620.8 271.0 621.0 275.9 621.2 275.9 621.4 276.0 621.6 271.6 621.8 273.9 622.0 273.1 622.2 275.2 622.4 274.0 622.6 272.6 622.8 274.7 623.0 273.4 623.2 273.5 623.4 274.5 623.6 270.4 623.8 276.4 624.0 273.6 624.2 274.7 624.4 273.6 624.6 277.0 624.8 276.4 625.0 276.5 625.2 274.0 625.4 276.7 625.6 274.6 625.8 277.9 626.0 276.9 626.2 278.6 626.4 278.2 626.6 278.6 626.8 279.8 627.0 278.0 627.2 276.3 627.4 281.2 627.6 276.2 627.8 277.3 628.0 278.1 628.2 277.9 628.4 281.4 628.6 280.3 628.8 279.0 629.0 278.2 629.2 278.6 629.4 277.1 629.6 279.7 629.8 280.2 630.0 278.9 630.2 280.9 630.4 279.2 630.6 277.1 630.8 279.0 631.0 276.1 631.2 279.6 631.4 279.7 631.6 281.3 631.8 276.2 632.0 282.9 632.2 279.7 632.4 276.9 632.6 279.5 632.8 281.0 633.0 279.6 633.2 281.0 633.4 276.7 633.6 278.1 633.8 277.3 634.0 277.7 634.2 277.8 634.4 278.7 634.6 275.1 634.8 275.8 635.0 276.3 635.2 275.8 635.4 270.9 635.6 274.6 635.8 272.0 636.0 274.0 636.2 271.8 636.4 273.4 636.6 268.7 636.8 274.1 637.0 271.4 637.2 276.7 637.4 276.7 637.6 271.4 637.8 274.5 638.0 272.4 638.2 270.1 638.4 269.6 638.6 272.2 638.8 270.5 639.0 269.0 639.2 270.5 639.4 270.1 639.6 269.8 639.8 266.9 640.0 271.7 640.2 272.2 640.4 268.9 640.6 272.9 640.8 272.2 641.0 270.7 641.2 273.1 641.4 267.6 641.6 266.8 641.8 267.5 642.0 266.8 642.2 270.7 642.4 267.1 642.6 268.2 642.8 268.9 643.0 270.6 643.2 268.6 643.4 267.7 643.6 267.1 643.8 268.5 644.0 267.9 644.2 270.9 644.4 270.3 644.6 268.9 644.8 268.5 645.0 270.1 645.2 265.1 645.4 266.3 645.6 265.6 645.8 264.2 646.0 263.2 646.2 264.3 646.4 263.4 646.6 263.1 646.8 262.5 647.0 259.8 647.2 260.6 647.4 258.7 647.6 259.3 647.8 258.1 648.0 258.4 648.2 260.2 648.4 258.5 648.6 260.4 648.8 262.9 649.0 264.7 649.2 261.1 649.4 263.6 649.6 262.7 649.8 261.0 650.0 263.0 650.2 261.4 650.4 263.4 650.6 265.7 650.8 261.4 651.0 263.6 651.2 262.0 651.4 261.1 651.6 263.7 651.8 263.6 652.0 261.1 652.2 264.8 652.4 263.3 652.6 265.4 652.8 261.4 653.0 261.2 653.2 262.1 653.4 260.9 653.6 262.8 653.8 262.2 654.0 264.5 654.2 270.0 654.4 263.5 654.6 262.0 654.8 266.7 655.0 264.1 655.2 264.2 655.4 268.6 655.6 267.8 655.8 267.8 656.0 268.8 656.2 267.4 656.4 269.5 656.6 268.9 656.8 265.4 657.0 266.6 657.2 263.9 657.4 266.5 657.6 266.6 657.8 269.0 658.0 265.7 658.2 270.6 658.4 267.4 658.6 266.2 658.8 266.3 659.0 268.5 659.2 270.2 659.4 267.0 659.6 269.1 659.8 267.8 660.0 267.0 660.2 267.9 660.4 270.7 660.6 266.9 660.8 268.9 661.0 266.9 661.2 270.3 661.4 269.2 661.6 271.4 661.8 267.9 662.0 271.0 662.2 269.9 662.4 272.2 662.6 273.5 662.8 270.8 663.0 274.0 663.2 272.0 663.4 270.5 663.6 270.7 663.8 268.8 664.0 268.5 664.2 272.2 664.4 272.2 664.6 269.5 664.8 268.7 665.0 271.9 665.2 270.1 665.4 271.8 665.6 272.8 665.8 271.7 666.0 271.7 666.2 270.6 666.4 271.8 666.6 268.0 666.8 271.4 667.0 270.6 667.2 269.5 667.4 273.8 667.6 270.6 667.8 269.1 668.0 270.4 668.2 275.3 668.4 276.0 668.6 274.7 668.8 273.3 669.0 277.2 669.2 277.4 669.4 277.2 669.6 275.6 669.8 278.2 670.0 277.9 670.2 278.5 670.4 280.4 670.6 280.3 670.8 277.1 671.0 275.0 671.2 275.9 671.4 275.6 671.6 278.2 671.8 276.5 672.0 278.4 672.2 275.2 672.4 277.8 672.6 275.7 672.8 271.5 673.0 278.4 673.2 275.5 673.4 274.8 673.6 274.5 673.8 275.5 674.0 276.9 674.2 275.3 674.4 274.7 674.6 273.4 674.8 274.5 675.0 272.6 675.2 275.3 675.4 272.4 675.6 272.7 675.8 273.3 676.0 271.4 676.2 274.0 676.4 274.7 676.6 270.5 676.8 275.3 677.0 275.3 677.2 269.2 677.4 268.6 677.6 271.0 677.8 273.7 678.0 273.4 678.2 273.8 678.4 271.6 678.6 273.3 678.8 273.4 679.0 271.3 679.2 272.7 679.4 273.3 679.6 271.5 679.8 270.9 680.0 269.6 680.2 273.2 680.4 271.2 680.6 272.3 680.8 270.4 681.0 271.6 681.2 272.1 681.4 268.5 681.6 270.6 681.8 267.7 682.0 267.7 682.2 269.2 682.4 270.8 682.6 273.8 682.8 271.3 683.0 273.8 683.2 270.6 683.4 270.0 683.6 268.5 683.8 272.3" fill="none" stroke="#EDB120" stroke-width="1.65" stroke-linejoin="round"/><path d="M69.0 130.7 69.2 126.4 69.4 126.7 69.6 125.9 69.8 125.6 70.0 126.9 70.2 127.4 70.4 130.8 70.6 129.6 70.8 129.2 71.0 129.2 71.2 129.1 71.4 127.4 71.6 131.1 71.8 126.7 72.0 128.2 72.2 131.6 72.4 128.9 72.6 129.8 72.8 133.8 73.0 130.4 73.2 130.3 73.4 129.1 73.6 132.5 73.8 132.4 74.0 127.5 74.2 133.6 74.4 137.2 74.6 137.3 74.8 135.2 75.0 133.3 75.2 132.8 75.4 130.1 75.6 129.0 75.8 133.4 76.0 134.1 76.2 132.5 76.4 132.7 76.6 135.3 76.8 133.7 77.0 136.4 77.2 133.8 77.4 130.3 77.6 134.4 77.8 135.6 78.0 134.5 78.2 135.4 78.4 137.6 78.6 131.5 78.8 140.2 79.0 137.3 79.2 135.6 79.4 135.4 79.6 133.9 79.8 142.5 80.0 136.2 80.2 137.6 80.4 134.6 80.6 135.2 80.8 134.7 81.0 131.7 81.2 133.8 81.4 131.9 81.6 131.8 81.8 131.9 82.0 132.0 82.2 134.0 82.4 130.8 82.6 130.6 82.8 131.6 83.0 130.0 83.2 131.9 83.4 126.3 83.6 129.0 83.8 128.3 84.0 135.1 84.2 134.0 84.4 131.2 84.6 129.6 84.8 126.5 85.0 129.8 85.2 133.0 85.4 131.2 85.6 133.5 85.8 131.2 86.0 132.3 86.2 129.2 86.4 129.6 86.6 126.9 86.8 127.5 87.0 128.3 87.2 124.8 87.4 125.3 87.6 124.2 87.8 122.6 88.0 120.9 88.2 125.5 88.4 126.9 88.6 125.7 88.8 125.9 89.0 125.9 89.2 124.8 89.4 124.5 89.6 127.1 89.8 130.9 90.0 131.9 90.2 129.5 90.4 131.9 90.6 136.0 90.8 136.4 91.0 134.1 91.2 136.6 91.4 131.5 91.6 133.7 91.8 133.0 92.0 138.7 92.2 137.0 92.4 137.4 92.6 138.1 92.8 138.4 93.0 140.0 93.2 134.8 93.4 137.5 93.6 138.5 93.8 141.4 94.0 142.1 94.2 142.1 94.4 139.6 94.6 141.3 94.8 145.1 95.0 143.6 95.2 142.4 95.4 143.2 95.6 144.4 95.8 145.5 96.0 145.5 96.2 143.5 96.4 145.3 96.6 143.1 96.8 145.1 97.0 144.4 97.2 144.4 97.4 145.8 97.6 143.2 97.8 148.4 98.0 147.4 98.2 148.2 98.4 148.4 98.6 147.7 98.8 148.4 99.0 151.2 99.2 148.8 99.4 147.7 99.6 146.7 99.8 149.6 100.0 148.5 100.2 143.8 100.4 148.6 100.6 147.5 100.8 148.0 101.0 147.0 101.2 145.2 101.4 146.7 101.6 150.2 101.8 145.9 102.0 145.3 102.2 146.6 102.4 148.1 102.6 148.3 102.8 143.7 103.0 145.4 103.2 148.4 103.4 150.8 103.6 150.7 103.8 150.3 104.0 151.4 104.2 148.0 104.4 146.8 104.6 144.0 104.8 144.3 105.0 142.3 105.2 145.4 105.4 144.7 105.6 143.8 105.8 144.3 106.0 143.1 106.2 143.3 106.4 141.3 106.6 140.6 106.8 144.4 107.0 141.6 107.2 143.0 107.4 140.2 107.6 142.1 107.8 142.7 108.0 141.7 108.2 143.8 108.4 139.7 108.6 140.7 108.8 136.7 109.0 141.2 109.2 140.5 109.4 143.2 109.6 146.1 109.8 140.0 110.0 140.7 110.2 138.5 110.4 140.2 110.6 140.0 110.8 141.0 111.0 143.3 111.2 143.5 111.4 145.1 111.6 141.6 111.8 142.6 112.0 139.1 112.2 140.9 112.4 137.5 112.6 141.3 112.8 140.2 113.0 138.5 113.2 138.8 113.4 134.4 113.6 137.4 113.8 138.8 114.0 140.2 114.2 142.0 114.4 139.5 114.6 140.8 114.8 142.3 115.0 139.5 115.2 141.3 115.4 142.1 115.6 140.7 115.8 139.2 116.0 143.2 116.2 144.2 116.4 145.1 116.6 141.4 116.8 144.0 117.0 143.3 117.2 143.0 117.4 144.2 117.6 143.6 117.8 140.3 118.0 139.6 118.2 139.6 118.4 138.4 118.6 142.3 118.8 136.9 119.0 141.7 119.2 140.7 119.4 140.5 119.6 137.2 119.8 138.5 120.0 139.2 120.2 139.5 120.4 140.2 120.6 140.5 120.8 139.6 121.0 143.4 121.2 143.2 121.4 140.7 121.6 142.8 121.8 141.5 122.0 138.6 122.2 140.9 122.4 142.7 122.6 142.1 122.8 139.1 123.0 141.9 123.2 142.9 123.4 139.5 123.6 140.5 123.8 141.6 124.0 136.6 124.2 142.2 124.4 141.1 124.6 143.6 124.8 145.3 125.0 140.6 125.2 142.7 125.4 144.6 125.6 136.8 125.8 138.9 126.0 141.9 126.2 140.6 126.4 137.6 126.6 141.5 126.8 141.2 127.0 140.5 127.2 141.3 127.4 144.5 127.6 144.6 127.8 145.6 128.0 142.4 128.2 143.9 128.4 142.6 128.6 144.6 128.8 145.6 129.0 145.4 129.2 144.0 129.4 144.8 129.6 142.2 129.8 143.6 130.0 145.1 130.2 147.8 130.4 146.9 130.6 152.6 130.8 153.2 131.0 149.5 131.2 149.7 131.4 149.5 131.6 148.3 131.8 147.7 132.0 146.2 132.2 151.7 132.4 149.4 132.6 147.1 132.8 144.5 133.0 144.6 133.2 141.9 133.4 137.8 133.6 141.3 133.8 140.2 134.0 137.1 134.2 135.2 134.4 141.4 134.6 138.3 134.8 139.3 135.0 139.6 135.2 141.8 135.4 135.2 135.6 138.4 135.8 134.2 136.0 140.9 136.2 137.1 136.4 133.5 136.6 137.3 136.8 136.8 137.0 134.8 137.2 137.1 137.4 134.4 137.6 135.1 137.8 130.2 138.0 128.9 138.2 127.7 138.4 127.2 138.6 126.2 138.8 123.9 139.0 128.1 139.2 124.3 139.4 126.6 139.6 126.5 139.8 123.4 140.0 120.7 140.2 122.4 140.4 124.5 140.6 124.7 140.8 122.8 141.0 123.2 141.2 121.9 141.4 122.2 141.6 127.0 141.8 122.7 142.0 119.0 142.2 121.9 142.4 122.0 142.6 119.6 142.8 121.8 143.0 124.1 143.2 126.8 143.4 127.1 143.6 123.6 143.8 124.4 144.0 124.4 144.2 124.1 144.4 125.1 144.6 123.1 144.8 123.7 145.0 122.6 145.2 121.5 145.4 122.3 145.6 123.5 145.8 124.5 146.0 124.0 146.2 118.2 146.4 121.1 146.6 125.1 146.8 121.8 147.0 120.1 147.2 123.1 147.4 122.0 147.6 122.7 147.8 123.9 148.0 123.2 148.2 122.4 148.4 124.2 148.6 121.8 148.8 123.4 149.0 124.6 149.2 124.0 149.4 122.7 149.6 120.2 149.8 125.8 150.0 122.4 150.2 126.1 150.4 124.5 150.6 127.9 150.8 126.7 151.0 124.6 151.2 121.2 151.4 121.5 151.6 122.5 151.8 123.1 152.0 125.1 152.2 127.5 152.4 125.7 152.6 123.0 152.8 124.6 153.0 123.8 153.2 124.9 153.4 124.5 153.6 120.8 153.8 126.3 154.0 127.9 154.2 124.9 154.4 127.9 154.6 127.8 154.8 124.9 155.0 124.0 155.2 127.7 155.4 126.1 155.6 126.0 155.8 126.7 156.0 126.1 156.2 129.2 156.4 126.9 156.6 126.9 156.8 129.3 157.0 123.7 157.2 124.9 157.4 123.9 157.6 126.8 157.8 125.5 158.0 124.2 158.2 126.4 158.4 130.1 158.6 126.4 158.8 128.2 159.0 132.5 159.2 131.9 159.4 129.1 159.6 129.3 159.8 130.0 160.0 129.1 160.2 132.6 160.4 134.6 160.6 131.9 160.8 131.6 161.0 129.3 161.2 128.0 161.4 129.0 161.6 127.0 161.8 129.7 162.0 128.9 162.2 127.4 162.4 128.0 162.6 125.5 162.8 129.3 163.0 124.4 163.2 128.4 163.4 125.6 163.6 128.6 163.8 126.2 164.0 127.3 164.2 127.7 164.4 126.9 164.6 127.1 164.8 129.1 165.0 130.4 165.2 128.6 165.4 128.9 165.6 129.2 165.8 126.8 166.0 128.9 166.2 130.5 166.4 126.6 166.6 130.5 166.8 127.1 167.0 129.9 167.2 129.5 167.4 128.4 167.6 129.0 167.8 131.9 168.0 129.0 168.2 129.3 168.4 129.5 168.6 131.2 168.8 131.1 169.0 132.8 169.2 131.7 169.4 127.9 169.6 132.6 169.8 130.8 170.0 132.1 170.2 133.9 170.4 131.3 170.6 130.7 170.8 126.4 171.0 128.6 171.2 126.8 171.4 124.8 171.6 126.6 171.8 122.9 172.0 124.1 172.2 127.3 172.4 131.4 172.6 129.4 172.8 128.8 173.0 130.3 173.2 133.6 173.4 132.2 173.6 134.7 173.8 134.0 174.0 131.7 174.2 133.2 174.4 131.4 174.6 135.7 174.8 137.7 175.0 138.6 175.2 139.6 175.4 136.4 175.6 137.0 175.8 135.1 176.0 133.9 176.2 134.2 176.4 135.7 176.6 135.9 176.8 134.7 177.0 140.2 177.2 136.4 177.4 137.8 177.6 134.0 177.8 139.5 178.0 131.9 178.2 134.6 178.4 136.0 178.6 137.2 178.8 135.6 179.0 133.6 179.2 138.7 179.4 137.9 179.6 135.3 179.8 134.9 180.0 135.9 180.2 137.3 180.4 134.8 180.6 136.9 180.8 135.4 181.0 137.6 181.2 137.9 181.4 136.0 181.6 139.3 181.8 138.4 182.0 134.9 182.2 133.9 182.4 134.0 182.6 134.4 182.8 136.7 183.0 134.2 183.2 135.6 183.4 137.2 183.6 135.8 183.8 136.4 184.0 136.1 184.2 135.7 184.4 139.0 184.6 136.5 184.8 135.9 185.0 137.3 185.2 137.1 185.4 135.9 185.6 134.9 185.8 134.9 186.0 136.5 186.2 137.3 186.4 138.9 186.6 134.3 186.8 132.3 187.0 134.5 187.2 136.0 187.4 130.7 187.6 132.2 187.8 130.7 188.0 130.2 188.2 132.6 188.4 133.4 188.6 130.4 188.8 133.1 189.0 133.5 189.2 133.5 189.4 132.5 189.6 132.1 189.8 132.4 190.0 132.1 190.2 129.7 190.4 128.6 190.6 130.3 190.8 132.4 191.0 132.5 191.2 129.4 191.4 129.9 191.6 127.9 191.8 128.3 192.0 130.1 192.2 130.2 192.4 130.5 192.6 130.6 192.8 131.5 193.0 134.5 193.2 131.8 193.4 134.2 193.6 135.6 193.8 132.5 194.0 133.7 194.2 132.7 194.4 131.6 194.6 133.3 194.8 132.2 195.0 132.1 195.2 131.2 195.4 130.2 195.6 133.9 195.8 136.3 196.0 135.3 196.2 132.7 196.4 133.0 196.6 131.8 196.8 133.5 197.0 133.6 197.2 134.1 197.4 136.2 197.6 129.1 197.8 134.0 198.0 132.4 198.2 134.7 198.4 132.3 198.6 134.2 198.8 132.5 199.0 131.0 199.2 133.3 199.4 133.6 199.6 135.3 199.8 137.1 200.0 136.9 200.2 136.3 200.4 137.8 200.6 132.8 200.8 138.1 201.0 133.7 201.2 137.2 201.4 137.7 201.6 136.0 201.8 138.8 202.0 133.8 202.2 134.5 202.4 138.1 202.6 131.8 202.8 134.6 203.0 139.1 203.2 137.2 203.4 138.6 203.6 137.8 203.8 139.4 204.0 141.5 204.2 137.5 204.4 137.8 204.6 140.7 204.8 139.6 205.0 138.4 205.2 138.2 205.4 140.8 205.6 142.8 205.8 140.6 206.0 137.0 206.2 136.5 206.4 134.9 206.6 137.9 206.8 140.9 207.0 138.6 207.2 138.7 207.4 135.0 207.6 140.2 207.8 137.2 208.0 140.7 208.2 142.4 208.4 142.5 208.6 143.6 208.8 144.4 209.0 139.8 209.2 140.7 209.4 145.8 209.6 142.8 209.8 140.3 210.0 141.0 210.2 141.5 210.4 142.2 210.6 139.9 210.8 140.7 211.0 136.6 211.2 142.1 211.4 140.7 211.6 138.4 211.8 137.3 212.0 140.3 212.2 142.2 212.4 145.0 212.6 144.9 212.8 142.3 213.0 141.4 213.2 140.5 213.4 143.7 213.6 141.2 213.8 143.4 214.0 142.8 214.2 143.4 214.4 139.9 214.6 142.2 214.8 139.0 215.0 137.7 215.2 142.4 215.4 144.1 215.6 145.5 215.8 147.3 216.0 149.7 216.2 152.2 216.4 148.9 216.6 152.4 216.8 145.6 217.0 151.0 217.2 147.2 217.4 151.1 217.6 149.9 217.8 151.8 218.0 152.1 218.2 150.4 218.4 151.2 218.6 147.1 218.8 153.7 219.0 152.0 219.2 152.4 219.4 154.6 219.6 153.8 219.8 153.5 220.0 149.1 220.2 152.7 220.4 152.5 220.6 153.4 220.8 151.5 221.0 147.9 221.2 148.6 221.4 150.7 221.6 145.6 221.8 148.1 222.0 146.4 222.2 142.7 222.4 145.3 222.6 149.8 222.8 146.1 223.0 142.7 223.2 144.2 223.4 141.9 223.6 147.4 223.8 143.0 224.0 138.3 224.2 144.9 224.4 146.5 224.6 144.5 224.8 145.5 225.0 147.9 225.2 149.9 225.4 146.0 225.6 145.4 225.8 146.6 226.0 141.7 226.2 141.1 226.4 143.9 226.6 146.6 226.8 147.9 227.0 148.2 227.2 153.8 227.4 154.2 227.6 149.4 227.8 151.8 228.0 153.5 228.2 156.6 228.4 158.6 228.6 160.7 228.8 163.0 229.0 165.2 229.2 163.4 229.4 163.9 229.6 167.8 229.8 169.4 230.0 167.6 230.2 164.4 230.4 165.3 230.6 163.2 230.8 161.4 231.0 160.4 231.2 160.6 231.4 158.8 231.6 159.7 231.8 156.1 232.0 157.7 232.2 158.2 232.4 156.2 232.6 155.8 232.8 158.7 233.0 157.6 233.2 157.3 233.4 159.6 233.6 162.5 233.8 160.2 234.0 163.1 234.2 161.5 234.4 162.6 234.6 165.3 234.8 161.7 235.0 162.5 235.2 160.7 235.4 161.2 235.6 161.7 235.8 160.3 236.0 160.9 236.2 162.4 236.4 163.4 236.6 163.9 236.8 164.1 237.0 165.4 237.2 163.8 237.4 164.6 237.6 166.2 237.8 159.5 238.0 160.7 238.2 157.0 238.4 158.3 238.6 156.5 238.8 154.4 239.0 153.4 239.2 152.4 239.4 148.0 239.6 145.4 239.8 148.7 240.0 146.8 240.2 146.3 240.4 146.0 240.6 145.0 240.8 143.0 241.0 145.4 241.2 145.2 241.4 144.6 241.6 147.1 241.8 147.3 242.0 149.3 242.2 144.5 242.4 148.7 242.6 145.0 242.8 147.7 243.0 146.0 243.2 148.6 243.4 147.0 243.6 145.9 243.8 144.2 244.0 148.2 244.2 144.1 244.4 146.1 244.6 151.0 244.8 149.4 245.0 148.2 245.2 149.2 245.4 147.4 245.6 148.0 245.8 150.5 246.0 149.4 246.2 150.5 246.4 152.0 246.6 154.3 246.8 154.0 247.0 154.9 247.2 156.9 247.4 156.0 247.6 156.0 247.8 154.1 248.0 159.7 248.2 158.1 248.4 159.2 248.6 157.1 248.8 158.6 249.0 156.3 249.2 159.8 249.4 157.9 249.6 162.7 249.8 159.6 250.0 156.3 250.2 159.4 250.4 159.4 250.6 158.6 250.8 154.4 251.0 157.2 251.2 158.6 251.4 156.3 251.6 159.1 251.8 159.4 252.0 159.6 252.2 162.7 252.4 161.1 252.6 162.0 252.8 163.3 253.0 162.7 253.2 164.4 253.4 160.7 253.6 165.9 253.8 163.2 254.0 164.0 254.2 164.5 254.4 164.9 254.6 165.1 254.8 165.8 255.0 167.5 255.2 169.3 255.4 165.2 255.6 165.8 255.8 164.6 256.0 162.8 256.2 163.8 256.4 164.9 256.6 165.6 256.8 163.5 257.0 161.5 257.2 162.9 257.4 162.0 257.6 169.5 257.8 166.7 258.0 165.1 258.2 161.4 258.4 162.4 258.6 161.8 258.8 161.3 259.0 161.2 259.2 163.9 259.4 163.3 259.6 165.6 259.8 163.9 260.0 166.3 260.2 163.7 260.4 162.1 260.6 165.3 260.8 166.9 261.0 167.1 261.2 163.1 261.4 163.3 261.6 163.2 261.8 163.4 262.0 160.4 262.2 161.9 262.4 161.6 262.6 159.7 262.8 164.3 263.0 161.7 263.2 162.3 263.4 161.4 263.6 159.8 263.8 160.5 264.0 161.1 264.2 157.0 264.4 161.2 264.6 161.5 264.8 152.2 265.0 157.6 265.2 155.4 265.4 157.3 265.6 155.7 265.8 156.1 266.0 157.8 266.2 157.0 266.4 158.1 266.6 155.5 266.8 153.5 267.0 155.0 267.2 154.8 267.4 154.9 267.6 154.5 267.8 160.8 268.0 155.7 268.2 155.2 268.4 151.6 268.6 156.0 268.8 155.9 269.0 156.8 269.2 157.4 269.4 154.1 269.6 154.0 269.8 156.7 270.0 157.0 270.2 157.2 270.4 157.4 270.6 154.2 270.8 154.1 271.0 153.6 271.2 149.4 271.4 154.0 271.6 154.3 271.8 152.0 272.0 152.5 272.2 153.6 272.4 152.8 272.6 150.7 272.8 150.1 273.0 151.2 273.2 150.6 273.4 149.2 273.6 149.8 273.8 150.6 274.0 153.0 274.2 148.9 274.4 150.8 274.6 150.9 274.8 150.8 275.0 154.0 275.2 148.6 275.4 150.7 275.6 151.3 275.8 150.5 276.0 151.4 276.2 150.0 276.4 148.1 276.6 149.5 276.8 152.7 277.0 153.1 277.2 152.4 277.4 154.3 277.6 152.3 277.8 150.0 278.0 152.1 278.2 153.7 278.4 156.4 278.6 155.2 278.8 151.9 279.0 154.3 279.2 151.8 279.4 153.1 279.6 154.6 279.8 155.1 280.0 156.8 280.2 155.2 280.4 155.9 280.6 157.5 280.8 155.7 281.0 155.4 281.2 153.5 281.4 157.3 281.6 155.3 281.8 157.6 282.0 156.1 282.2 157.5 282.4 158.7 282.6 163.5 282.8 162.9 283.0 162.3 283.2 164.7 283.4 164.7 283.6 160.8 283.8 162.1 284.0 162.9 284.2 164.3 284.4 159.9 284.6 163.1 284.8 162.8 285.0 163.6 285.2 164.4 285.4 164.2 285.6 161.2 285.8 165.6 286.0 169.0 286.2 165.8 286.4 166.0 286.6 165.1 286.8 164.5 287.0 161.2 287.2 162.2 287.4 162.9 287.6 162.6 287.8 161.3 288.0 162.5 288.2 160.5 288.4 158.2 288.6 158.9 288.8 157.3 289.0 153.9 289.2 154.3 289.4 152.9 289.6 153.2 289.8 153.1 290.0 151.8 290.2 151.4 290.4 151.7 290.6 153.3 290.8 155.7 291.0 154.3 291.2 156.4 291.4 154.3 291.6 155.1 291.8 153.0 292.0 153.4 292.2 156.2 292.4 152.8 292.6 155.0 292.8 152.2 293.0 150.2 293.2 149.7 293.4 146.9 293.6 152.9 293.8 149.5 294.0 152.2 294.2 150.2 294.4 146.5 294.6 144.4 294.8 144.2 295.0 146.6 295.2 145.3 295.4 142.2 295.6 144.0 295.8 144.4 296.0 141.7 296.2 142.1 296.4 140.2 296.6 143.3 296.8 141.6 297.0 140.2 297.2 137.7 297.4 138.6 297.6 136.4 297.8 139.2 298.0 136.9 298.2 132.8 298.4 132.2 298.6 131.5 298.8 129.6 299.0 125.8 299.2 128.5 299.4 125.2 299.6 124.8 299.8 115.1 300.0 118.4 300.2 126.6 300.4 130.5 300.6 133.9 300.8 131.9 301.0 136.0 301.2 134.3 301.4 136.8 301.6 137.3 301.8 136.0 302.0 131.8 302.2 136.1 302.4 139.4 302.6 139.3 302.8 138.2 303.0 138.3 303.2 136.6 303.4 138.8 303.6 140.0 303.8 139.1 304.0 138.4 304.2 138.7 304.4 138.6 304.6 138.3 304.8 139.4 305.0 136.3 305.2 134.3 305.4 136.3 305.6 139.0 305.8 138.3 306.0 139.4 306.2 139.5 306.4 139.9 306.6 139.0 306.8 142.3 307.0 139.5 307.2 139.6 307.4 141.6 307.6 138.9 307.8 137.8 308.0 141.5 308.2 142.1 308.4 142.7 308.6 142.9 308.8 142.2 309.0 141.5 309.2 138.2 309.4 136.1 309.6 137.8 309.8 132.6 310.0 137.1 310.2 136.2 310.4 137.0 310.6 136.1 310.8 136.5 311.0 135.4 311.2 134.9 311.4 137.1 311.6 134.2 311.8 132.7 312.0 137.4 312.2 136.3 312.4 135.4 312.6 135.6 312.8 136.8 313.0 137.6 313.2 139.4 313.4 137.3 313.6 136.8 313.8 139.2 314.0 138.7 314.2 143.4 314.4 140.5 314.6 141.7 314.8 143.8 315.0 142.5 315.2 146.3 315.4 143.9 315.6 145.5 315.8 140.2 316.0 145.0 316.2 144.9 316.4 141.1 316.6 145.8 316.8 146.9 317.0 144.7 317.2 144.7 317.4 143.8 317.6 145.4 317.8 144.4 318.0 144.1 318.2 147.1 318.4 142.2 318.6 143.2 318.8 139.1 319.0 143.2 319.2 144.8 319.4 141.5 319.6 145.2 319.8 140.4 320.0 140.6 320.2 139.8 320.4 139.6 320.6 133.2 320.8 138.3 321.0 133.5 321.2 139.7 321.4 136.8 321.6 136.4 321.8 141.6 322.0 132.9 322.2 133.5 322.4 132.3 322.6 133.6 322.8 134.8 323.0 135.7 323.2 129.3 323.4 133.1 323.6 135.4 323.8 136.2 324.0 135.2 324.2 137.5 324.4 141.1 324.6 141.4 324.8 146.4 325.0 140.8 325.2 144.0 325.4 147.0 325.6 147.6 325.8 151.8 326.0 148.2 326.2 151.2 326.4 146.9 326.6 147.7 326.8 149.7 327.0 150.4 327.2 148.1 327.4 148.0 327.6 150.5 327.8 149.2 328.0 151.7 328.2 152.3 328.4 150.7 328.6 147.0 328.8 152.1 329.0 153.4 329.2 150.4 329.4 150.5 329.6 155.3 329.8 156.6 330.0 158.4 330.2 159.3 330.4 159.2 330.6 163.3 330.8 160.3 331.0 159.8 331.2 162.4 331.4 161.0 331.6 162.8 331.8 158.6 332.0 160.8 332.2 159.4 332.4 156.1 332.6 161.4 332.8 161.0 333.0 161.7 333.2 159.2 333.4 159.5 333.6 159.0 333.8 162.2 334.0 161.3 334.2 159.7 334.4 160.8 334.6 162.2 334.8 162.1 335.0 161.1 335.2 158.7 335.4 158.5 335.6 159.7 335.8 157.2 336.0 159.2 336.2 162.6 336.4 160.1 336.6 160.0 336.8 156.6 337.0 158.9 337.2 156.0 337.4 155.1 337.6 153.5 337.8 155.0 338.0 154.9 338.2 155.2 338.4 156.1 338.6 159.5 338.8 157.3 339.0 156.1 339.2 156.3 339.4 154.6 339.6 155.1 339.8 157.3 340.0 155.7 340.2 161.4 340.4 161.0 340.6 154.8 340.8 158.5 341.0 157.3 341.2 158.6 341.4 157.1 341.6 156.1 341.8 152.8 342.0 152.4 342.2 154.7 342.4 152.4 342.6 150.1 342.8 153.4 343.0 154.0 343.2 152.3 343.4 152.4 343.6 154.0 343.8 148.5 344.0 151.0 344.2 151.8 344.4 151.9 344.6 150.1 344.8 151.5 345.0 155.0 345.2 156.8 345.4 152.8 345.6 157.1 345.8 156.5 346.0 155.6 346.2 157.0 346.4 153.0 346.6 156.0 346.8 152.8 347.0 153.6 347.2 154.2 347.4 154.0 347.6 149.0 347.8 150.3 348.0 152.5 348.2 151.3 348.4 152.7 348.6 151.8 348.8 151.2 349.0 156.8 349.2 157.0 349.4 156.3 349.6 159.8 349.8 158.0 350.0 161.1 350.2 159.4 350.4 153.7 350.6 156.1 350.8 153.3 351.0 157.2 351.2 158.8 351.4 155.3 351.6 160.6 351.8 161.2 352.0 163.0 352.2 162.4 352.4 160.7 352.6 163.7 352.8 162.2 353.0 164.9 353.2 165.0 353.4 161.5 353.6 162.9 353.8 158.9 354.0 159.0 354.2 158.5 354.4 156.2 354.6 157.9 354.8 156.7 355.0 160.5 355.2 156.8 355.4 156.3 355.6 160.0 355.8 159.7 356.0 160.4 356.2 160.2 356.4 162.1 356.6 161.7 356.8 163.9 357.0 161.4 357.2 163.2 357.4 161.6 357.6 159.8 357.8 162.3 358.0 162.3 358.2 162.2 358.4 165.5 358.6 162.0 358.8 161.9 359.0 159.5 359.2 157.7 359.4 158.3 359.6 158.2 359.8 160.7 360.0 155.0 360.2 154.1 360.4 153.7 360.6 154.6 360.8 152.6 361.0 155.8 361.2 158.2 361.4 159.6 361.6 163.3 361.8 158.4 362.0 159.2 362.2 157.0 362.4 157.6 362.6 160.5 362.8 158.8 363.0 154.8 363.2 152.2 363.4 153.5 363.6 149.6 363.8 151.4 364.0 152.5 364.2 152.9 364.4 155.3 364.6 154.7 364.8 154.1 365.0 155.6 365.2 153.2 365.4 158.0 365.6 158.1 365.8 155.7 366.0 157.8 366.2 152.6 366.4 152.2 366.6 153.7 366.8 150.5 367.0 154.8 367.2 156.0 367.4 148.7 367.6 156.5 367.8 149.3 368.0 148.3 368.2 149.0 368.4 148.7 368.6 151.0 368.8 146.3 369.0 148.4 369.2 150.3 369.4 150.3 369.6 152.1 369.8 151.7 370.0 155.2 370.2 153.0 370.4 154.6 370.6 155.6 370.8 154.8 371.0 154.4 371.2 156.9 371.4 158.2 371.6 156.2 371.8 157.8 372.0 157.9 372.2 156.9 372.4 157.8 372.6 160.1 372.8 159.7 373.0 156.4 373.2 161.3 373.4 156.9 373.6 157.4 373.8 162.3 374.0 159.5 374.2 159.6 374.4 165.4 374.6 164.7 374.8 166.1 375.0 164.0 375.2 167.7 375.4 166.0 375.6 167.8 375.8 165.3 376.0 165.9 376.2 164.5 376.4 165.6 376.6 169.9 376.8 171.6 377.0 171.1 377.2 175.3 377.4 173.4 377.6 175.0 377.8 174.7 378.0 173.2 378.2 172.8 378.4 173.3 378.6 173.7 378.8 172.8 379.0 174.3 379.2 171.6 379.4 169.6 379.6 171.1 379.8 170.4 380.0 170.6 380.2 168.9 380.4 170.6 380.6 171.1 380.8 172.3 381.0 172.4 381.2 171.1 381.4 171.5 381.6 170.2 381.8 171.6 382.0 169.5 382.2 171.8 382.4 171.4 382.6 173.3 382.8 173.6 383.0 175.1 383.2 176.3 383.4 172.9 383.6 174.0 383.8 173.9 384.0 176.4 384.2 169.5 384.4 174.1 384.6 171.5 384.8 175.5 385.0 173.5 385.2 173.4 385.4 174.3 385.6 173.3 385.8 174.3 386.0 174.1 386.2 170.8 386.4 176.4 386.6 174.3 386.8 175.0 387.0 174.5 387.2 177.6 387.4 176.6 387.6 176.5 387.8 179.1 388.0 181.1 388.2 178.9 388.4 180.0 388.6 179.6 388.8 182.6 389.0 182.1 389.2 183.2 389.4 180.7 389.6 181.5 389.8 181.8 390.0 186.1 390.2 185.1 390.4 183.4 390.6 184.6 390.8 184.1 391.0 185.8 391.2 184.7 391.4 188.9 391.6 189.0 391.8 183.4 392.0 184.1 392.2 183.5 392.4 184.8 392.6 183.6 392.8 185.8 393.0 189.3 393.2 189.7 393.4 188.7 393.6 186.7 393.8 187.4 394.0 192.4 394.2 190.3 394.4 192.6 394.6 195.7 394.8 192.6 395.0 195.7 395.2 194.5 395.4 196.4 395.6 193.2 395.8 195.8 396.0 196.7 396.2 195.2 396.4 192.7 396.6 194.7 396.8 197.0 397.0 194.3 397.2 195.0 397.4 195.5 397.6 194.1 397.8 193.6 398.0 193.7 398.2 191.0 398.4 192.7 398.6 191.5 398.8 191.4 399.0 194.3 399.2 191.8 399.4 190.2 399.6 190.9 399.8 192.5 400.0 192.4 400.2 188.4 400.4 186.4 400.6 186.7 400.8 188.9 401.0 189.0 401.2 188.5 401.4 185.5 401.6 187.5 401.8 186.2 402.0 187.9 402.2 187.8 402.4 189.2 402.6 191.4 402.8 186.7 403.0 188.1 403.2 187.7 403.4 189.6 403.6 188.8 403.8 185.9 404.0 185.2 404.2 187.0 404.4 186.9 404.6 184.3 404.8 186.5 405.0 184.4 405.2 184.3 405.4 183.4 405.6 187.2 405.8 184.5 406.0 183.4 406.2 181.2 406.4 180.5 406.6 181.6 406.8 185.4 407.0 186.0 407.2 182.9 407.4 181.4 407.6 179.8 407.8 182.0 408.0 181.3 408.2 180.2 408.4 180.1 408.6 178.6 408.8 180.8 409.0 181.1 409.2 182.7 409.4 181.2 409.6 183.7 409.8 183.8 410.0 182.6 410.2 184.8 410.4 183.0 410.6 185.8 410.8 183.4 411.0 185.0 411.2 184.8 411.4 183.6 411.6 183.6 411.8 183.7 412.0 183.1 412.2 185.7 412.4 185.2 412.6 184.6 412.8 183.0 413.0 187.1 413.2 188.2 413.4 184.7 413.6 184.6 413.8 188.1 414.0 185.8 414.2 188.0 414.4 186.9 414.6 186.3 414.8 187.0 415.0 188.3 415.2 188.3 415.4 186.7 415.6 187.4 415.8 191.7 416.0 187.1 416.2 192.2 416.4 187.8 416.6 190.6 416.8 192.3 417.0 194.8 417.2 194.3 417.4 194.1 417.6 196.4 417.8 194.1 418.0 193.4 418.2 195.3 418.4 200.6 418.6 197.8 418.8 198.2 419.0 197.0 419.2 194.4 419.4 195.5 419.6 197.5 419.8 196.4 420.0 196.0 420.2 195.9 420.4 198.1 420.6 195.0 420.8 198.4 421.0 196.5 421.2 198.0 421.4 197.6 421.6 196.0 421.8 198.5 422.0 198.6 422.2 198.6 422.4 199.7 422.6 201.9 422.8 200.1 423.0 199.7 423.2 199.5 423.4 200.4 423.6 201.6 423.8 199.2 424.0 194.9 424.2 195.5 424.4 196.8 424.6 194.9 424.8 195.3 425.0 192.2 425.2 190.8 425.4 192.4 425.6 193.5 425.8 194.2 426.0 197.8 426.2 194.3 426.4 196.9 426.6 195.7 426.8 194.6 427.0 196.9 427.2 198.0 427.4 197.5 427.6 199.1 427.8 200.6 428.0 195.4 428.2 197.5 428.4 199.3 428.6 198.8 428.8 197.9 429.0 199.6 429.2 199.6 429.4 199.5 429.6 199.0 429.8 201.3 430.0 198.3 430.2 196.6 430.4 196.3 430.6 196.2 430.8 194.6 431.0 196.6 431.2 195.9 431.4 197.6 431.6 198.8 431.8 196.9 432.0 199.2 432.2 197.7 432.4 198.4 432.6 199.2 432.8 199.4 433.0 201.7 433.2 196.4 433.4 199.0 433.6 197.5 433.8 200.5 434.0 208.5 434.2 210.2 434.4 216.0 434.6 214.8 434.8 216.3 435.0 212.7 435.2 216.2 435.4 212.2 435.6 209.8 435.8 211.4 436.0 210.7 436.2 207.5 436.4 207.0 436.6 207.2 436.8 207.7 437.0 209.2 437.2 210.7 437.4 212.2 437.6 209.2 437.8 211.9 438.0 212.1 438.2 214.3 438.4 213.4 438.6 210.5 438.8 216.5 439.0 213.0 439.2 216.6 439.4 212.2 439.6 213.1 439.8 212.6 440.0 210.4 440.2 212.2 440.4 211.9 440.6 213.1 440.8 214.6 441.0 215.6 441.2 215.2 441.4 211.6 441.6 212.5 441.8 212.8 442.0 212.5 442.2 209.3 442.4 209.0 442.6 214.0 442.8 213.4 443.0 215.6 443.2 212.9 443.4 215.8 443.6 214.5 443.8 218.1 444.0 218.3 444.2 219.7 444.4 219.7 444.6 218.5 444.8 220.5 445.0 219.3 445.2 221.9 445.4 221.7 445.6 220.3 445.8 219.4 446.0 220.1 446.2 219.3 446.4 223.0 446.6 222.0 446.8 216.3 447.0 220.8 447.2 222.5 447.4 219.4 447.6 227.0 447.8 228.0 448.0 227.6 448.2 227.5 448.4 227.1 448.6 228.4 448.8 230.3 449.0 230.5 449.2 231.9 449.4 229.0 449.6 229.4 449.8 233.1 450.0 233.6 450.2 230.1 450.4 229.1 450.6 228.4 450.8 233.0 451.0 232.7 451.2 236.2 451.4 234.7 451.6 238.0 451.8 236.5 452.0 235.5 452.2 237.8 452.4 238.7 452.6 235.2 452.8 239.3 453.0 238.9 453.2 242.5 453.4 238.0 453.6 236.7 453.8 239.9 454.0 231.1 454.2 237.4 454.4 235.9 454.6 234.8 454.8 237.7 455.0 236.0 455.2 236.9 455.4 235.0 455.6 236.4 455.8 234.2 456.0 235.0 456.2 239.1 456.4 236.7 456.6 235.2 456.8 234.0 457.0 232.8 457.2 233.8 457.4 231.4 457.6 234.9 457.8 233.8 458.0 230.1 458.2 231.3 458.4 231.5 458.6 226.5 458.8 224.4 459.0 225.1 459.2 223.0 459.4 220.8 459.6 221.3 459.8 219.0 460.0 220.5 460.2 225.1 460.4 221.9 460.6 220.8 460.8 221.2 461.0 224.1 461.2 222.4 461.4 219.4 461.6 224.1 461.8 223.4 462.0 223.8 462.2 226.9 462.4 226.9 462.6 224.5 462.8 227.7 463.0 229.8 463.2 229.0 463.4 229.7 463.6 228.4 463.8 231.9 464.0 231.9 464.2 229.8 464.4 231.1 464.6 233.4 464.8 236.0 465.0 234.8 465.2 233.5 465.4 235.0 465.6 233.4 465.8 235.5 466.0 236.0 466.2 235.5 466.4 236.9 466.6 233.9 466.8 234.6 467.0 233.5 467.2 232.7 467.4 231.0 467.6 229.9 467.8 229.2 468.0 229.3 468.2 225.4 468.4 226.7 468.6 229.2 468.8 226.6 469.0 225.0 469.2 227.3 469.4 226.0 469.6 223.4 469.8 224.6 470.0 223.2 470.2 224.0 470.4 219.9 470.6 224.2 470.8 220.8 471.0 222.8 471.2 221.7 471.4 223.8 471.6 225.0 471.8 223.8 472.0 221.3 472.2 223.5 472.4 223.8 472.6 228.1 472.8 224.1 473.0 224.9 473.2 224.1 473.4 225.7 473.6 228.5 473.8 227.8 474.0 230.6 474.2 229.3 474.4 225.5 474.6 226.1 474.8 230.8 475.0 225.7 475.2 226.5 475.4 231.9 475.6 225.5 475.8 228.4 476.0 227.9 476.2 226.5 476.4 225.1 476.6 225.1 476.8 224.1 477.0 225.4 477.2 225.9 477.4 224.1 477.6 223.1 477.8 223.4 478.0 219.9 478.2 218.4 478.4 221.5 478.6 216.3 478.8 219.9 479.0 220.8 479.2 215.2 479.4 211.8 479.6 216.1 479.8 217.4 480.0 215.0 480.2 217.8 480.4 216.2 480.6 215.1 480.8 215.9 481.0 212.7 481.2 213.6 481.4 215.8 481.6 218.3 481.8 217.4 482.0 216.9 482.2 212.8 482.4 221.1 482.6 215.0 482.8 216.6 483.0 218.4 483.2 217.4 483.4 219.3 483.6 215.6 483.8 215.2 484.0 216.5 484.2 215.9 484.4 216.2 484.6 217.0 484.8 215.9 485.0 218.1 485.2 215.4 485.4 217.4 485.6 219.1 485.8 216.9 486.0 219.0 486.2 220.7 486.4 221.6 486.6 220.5 486.8 221.7 487.0 221.0 487.2 218.5 487.4 218.8 487.6 218.3 487.8 220.2 488.0 220.0 488.2 218.0 488.4 217.8 488.6 219.9 488.8 216.2 489.0 213.7 489.2 214.9 489.4 215.4 489.6 215.1 489.8 219.1 490.0 216.3 490.2 218.6 490.4 216.5 490.6 218.4 490.8 216.6 491.0 216.4 491.2 214.7 491.4 216.9 491.6 211.8 491.8 217.0 492.0 218.7 492.2 215.2 492.4 208.8 492.6 213.7 492.8 211.4 493.0 211.8 493.2 211.3 493.4 214.0 493.6 213.4 493.8 211.8 494.0 214.0 494.2 213.1 494.4 214.1 494.6 208.5 494.8 211.3 495.0 209.9 495.2 211.4 495.4 208.5 495.6 209.1 495.8 210.1 496.0 209.5 496.2 209.1 496.4 209.1 496.6 206.2 496.8 205.7 497.0 207.2 497.2 209.0 497.4 209.7 497.6 205.3 497.8 207.6 498.0 209.8 498.2 204.6 498.4 205.5 498.6 202.5 498.8 204.4 499.0 204.6 499.2 202.9 499.4 201.8 499.6 201.8 499.8 203.3 500.0 204.0 500.2 204.5 500.4 206.1 500.6 206.0 500.8 201.8 501.0 202.1 501.2 202.8 501.4 205.5 501.6 205.5 501.8 210.5 502.0 204.5 502.2 207.5 502.4 207.0 502.6 209.2 502.8 212.0 503.0 210.5 503.2 209.4 503.4 207.6 503.6 210.5 503.8 206.6 504.0 210.1 504.2 211.1 504.4 209.5 504.6 209.1 504.8 206.7 505.0 210.6 505.2 205.6 505.4 205.5 505.6 208.8 505.8 206.0 506.0 204.3 506.2 202.0 506.4 208.7 506.6 208.3 506.8 205.6 507.0 201.8 507.2 205.4 507.4 205.0 507.6 206.3 507.8 207.4 508.0 206.6 508.2 207.5 508.4 211.6 508.6 213.2 508.8 206.5 509.0 208.4 509.2 205.7 509.4 206.9 509.6 210.9 509.8 208.7 510.0 209.4 510.2 210.2 510.4 210.5 510.6 205.0 510.8 206.6 511.0 206.2 511.2 204.0 511.4 207.7 511.6 205.7 511.8 204.7 512.0 206.8 512.2 205.7 512.4 203.2 512.6 207.8 512.8 207.3 513.0 209.6 513.2 210.2 513.4 209.8 513.6 209.7 513.8 209.9 514.0 211.0 514.2 213.8 514.4 208.0 514.6 213.7 514.8 212.5 515.0 212.3 515.2 214.3 515.4 215.9 515.6 212.0 515.8 213.6 516.0 215.1 516.2 210.4 516.4 211.9 516.6 214.7 516.8 211.5 517.0 211.9 517.2 212.8 517.4 211.8 517.6 216.4 517.8 214.8 518.0 214.8 518.2 214.6 518.4 214.6 518.6 220.6 518.8 219.4 519.0 220.9 519.2 216.0 519.4 219.5 519.6 219.2 519.8 215.4 520.0 216.6 520.2 214.9 520.4 217.3 520.6 215.7 520.8 214.2 521.0 214.9 521.2 211.9 521.4 213.1 521.6 213.4 521.8 212.2 522.0 214.9 522.2 212.7 522.4 209.1 522.6 209.7 522.8 213.0 523.0 208.2 523.2 213.2 523.4 213.0 523.6 209.5 523.8 212.3 524.0 209.8 524.2 207.9 524.4 210.2 524.6 208.9 524.8 205.0 525.0 207.0 525.2 207.1 525.4 203.7 525.6 207.3 525.8 204.4 526.0 205.7 526.2 206.1 526.4 203.7 526.6 205.6 526.8 205.4 527.0 205.4 527.2 204.8 527.4 206.8 527.6 206.0 527.8 205.7 528.0 204.3 528.2 200.4 528.4 201.8 528.6 203.1 528.8 205.2 529.0 201.1 529.2 200.2 529.4 200.3 529.6 198.8 529.8 200.3 530.0 197.7 530.2 202.5 530.4 198.9 530.6 199.9 530.8 196.7 531.0 197.4 531.2 201.0 531.4 198.4 531.6 200.4 531.8 202.7 532.0 200.3 532.2 200.6 532.4 201.4 532.6 200.6 532.8 202.6 533.0 202.6 533.2 204.4 533.4 203.3 533.6 204.3 533.8 202.8 534.0 205.1 534.2 204.1 534.4 205.4 534.6 204.6 534.8 207.0 535.0 203.0 535.2 207.5 535.4 207.9 535.6 209.6 535.8 207.6 536.0 208.7 536.2 212.5 536.4 210.2 536.6 210.4 536.8 212.9 537.0 207.4 537.2 210.9 537.4 210.7 537.6 210.4 537.8 208.4 538.0 208.2 538.2 209.6 538.4 208.8 538.6 212.3 538.8 212.0 539.0 215.6 539.2 212.6 539.4 213.8 539.6 211.4 539.8 211.2 540.0 212.0 540.2 212.6 540.4 210.5 540.6 214.0 540.8 214.2 541.0 217.1 541.2 213.0 541.4 214.5 541.6 216.0 541.8 214.8 542.0 214.3 542.2 216.2 542.4 217.6 542.6 216.1 542.8 217.3 543.0 215.7 543.2 214.9 543.4 217.9 543.6 214.9 543.8 215.6 544.0 217.7 544.2 214.5 544.4 214.5 544.6 216.7 544.8 216.3 545.0 218.2 545.2 216.3 545.4 219.1 545.6 218.7 545.8 220.2 546.0 219.9 546.2 220.9 546.4 216.1 546.6 217.8 546.8 218.0 547.0 220.2 547.2 221.3 547.4 222.1 547.6 217.1 547.8 220.3 548.0 217.6 548.2 220.8 548.4 216.2 548.6 216.3 548.8 214.7 549.0 217.5 549.2 218.1 549.4 215.2 549.6 217.6 549.8 215.2 550.0 213.2 550.2 216.8 550.4 215.0 550.6 218.3 550.8 219.4 551.0 218.3 551.2 218.3 551.4 216.7 551.6 217.9 551.8 217.5 552.0 220.3 552.2 215.4 552.4 217.3 552.6 212.3 552.8 216.0 553.0 217.0 553.2 215.7 553.4 216.1 553.6 216.4 553.8 216.8 554.0 214.2 554.2 215.5 554.4 219.7 554.6 221.3 554.8 217.8 555.0 222.5 555.2 219.5 555.4 221.9 555.6 224.8 555.8 219.2 556.0 222.6 556.2 221.0 556.4 220.2 556.6 223.4 556.8 221.0 557.0 220.6 557.2 221.1 557.4 223.6 557.6 224.8 557.8 225.6 558.0 222.7 558.2 222.0 558.4 226.9 558.6 222.5 558.8 224.3 559.0 225.5 559.2 224.2 559.4 219.8 559.6 222.3 559.8 223.6 560.0 227.2 560.2 225.8 560.4 227.9 560.6 226.5 560.8 227.3 561.0 229.2 561.2 226.0 561.4 229.0 561.6 228.0 561.8 229.6 562.0 226.8 562.2 226.0 562.4 229.9 562.6 225.6 562.8 228.2 563.0 226.8 563.2 227.9 563.4 228.1 563.6 226.8 563.8 227.3 564.0 229.3 564.2 228.7 564.4 235.7 564.6 234.6 564.8 239.6 565.0 240.4 565.2 245.7 565.4 248.3 565.6 255.9 565.8 265.6 566.0 257.4 566.2 255.6 566.4 242.9 566.6 244.8 566.8 244.7 567.0 241.5 567.2 241.8 567.4 243.1 567.6 240.8 567.8 239.0 568.0 235.4 568.2 238.7 568.4 238.4 568.6 238.2 568.8 238.9 569.0 237.2 569.2 239.8 569.4 238.0 569.6 236.4 569.8 241.1 570.0 240.4 570.2 243.0 570.4 240.2 570.6 237.9 570.8 238.4 571.0 236.8 571.2 235.0 571.4 235.5 571.6 236.3 571.8 236.5 572.0 237.8 572.2 237.9 572.4 237.1 572.6 236.5 572.8 234.0 573.0 238.9 573.2 238.3 573.4 234.4 573.6 235.2 573.8 236.4 574.0 238.5 574.2 237.3 574.4 237.6 574.6 237.4 574.8 234.8 575.0 238.9 575.2 240.1 575.4 240.3 575.6 237.2 575.8 237.3 576.0 239.0 576.2 244.0 576.4 238.6 576.6 241.5 576.8 237.0 577.0 238.7 577.2 235.5 577.4 238.8 577.6 236.4 577.8 235.5 578.0 237.7 578.2 240.7 578.4 238.4 578.6 240.9 578.8 242.1 579.0 246.0 579.2 242.1 579.4 252.7 579.6 248.1 579.8 246.1 580.0 250.7 580.2 250.7 580.4 252.1 580.6 252.2 580.8 254.0 581.0 249.3 581.2 253.3 581.4 257.1 581.6 252.7 581.8 256.0 582.0 256.1 582.2 252.2 582.4 250.7 582.6 254.1 582.8 251.4 583.0 254.5 583.2 252.0 583.4 254.3 583.6 252.8 583.8 250.9 584.0 249.1 584.2 249.5 584.4 250.7 584.6 248.5 584.8 246.9 585.0 247.0 585.2 245.5 585.4 246.1 585.6 246.1 585.8 247.8 586.0 246.2 586.2 244.3 586.4 249.5 586.6 251.0 586.8 250.6 587.0 248.7 587.2 251.9 587.4 250.1 587.6 251.0 587.8 249.3 588.0 250.0 588.2 250.6 588.4 254.7 588.6 251.6 588.8 253.2 589.0 253.4 589.2 252.4 589.4 255.8 589.6 256.9 589.8 256.8 590.0 252.2 590.2 258.7 590.4 256.5 590.6 255.6 590.8 259.5 591.0 256.0 591.2 256.2 591.4 256.7 591.6 252.7 591.8 257.8 592.0 255.3 592.2 258.8 592.4 257.6 592.6 256.7 592.8 254.9 593.0 255.6 593.2 255.9 593.4 258.2 593.6 254.6 593.8 258.0 594.0 255.5 594.2 255.4 594.4 260.2 594.6 258.9 594.8 257.3 595.0 260.5 595.2 258.0 595.4 258.5 595.6 257.9 595.8 257.5 596.0 255.1 596.2 257.0 596.4 254.0 596.6 254.6 596.8 254.9 597.0 254.2 597.2 257.0 597.4 255.4 597.6 253.4 597.8 259.5 598.0 258.6 598.2 255.9 598.4 255.5 598.6 254.9 598.8 252.4 599.0 252.8 599.2 250.3 599.4 252.6 599.6 247.9 599.8 249.4 600.0 251.6 600.2 251.4 600.4 252.6 600.6 251.2 600.8 256.0 601.0 254.0 601.2 255.7 601.4 254.6 601.6 254.5 601.8 255.0 602.0 257.0 602.2 256.5 602.4 258.0 602.6 259.5 602.8 258.5 603.0 257.2 603.2 255.9 603.4 259.8 603.6 256.4 603.8 258.9 604.0 257.7 604.2 256.8 604.4 257.8 604.6 256.2 604.8 257.6 605.0 260.7 605.2 261.1 605.4 261.8 605.6 260.5 605.8 261.9 606.0 260.2 606.2 264.8 606.4 260.1 606.6 263.9 606.8 265.9 607.0 261.4 607.2 263.1 607.4 264.5 607.6 265.8 607.8 264.8 608.0 266.3 608.2 267.7 608.4 268.8 608.6 264.6 608.8 267.6 609.0 265.8 609.2 267.3 609.4 262.6 609.6 262.7 609.8 262.6 610.0 263.0 610.2 265.6 610.4 262.9 610.6 259.3 610.8 260.9 611.0 258.9 611.2 260.3 611.4 261.6 611.6 261.5 611.8 265.9 612.0 266.4 612.2 263.4 612.4 261.6 612.6 265.3 612.8 268.0 613.0 265.4 613.2 266.8 613.4 268.2 613.6 266.1 613.8 267.1 614.0 265.9 614.2 264.1 614.4 265.8 614.6 265.6 614.8 264.8 615.0 266.6 615.2 265.6 615.4 265.2 615.6 268.2 615.8 267.4 616.0 267.8 616.2 268.7 616.4 266.5 616.6 265.0 616.8 262.9 617.0 267.6 617.2 264.0 617.4 262.2 617.6 262.5 617.8 258.2 618.0 262.4 618.2 262.6 618.4 260.9 618.6 258.4 618.8 264.7 619.0 260.1 619.2 256.2 619.4 258.8 619.6 258.9 619.8 258.3 620.0 255.8 620.2 259.9 620.4 258.1 620.6 256.7 620.8 254.9 621.0 253.6 621.2 255.2 621.4 254.8 621.6 253.5 621.8 253.9 622.0 252.8 622.2 251.0 622.4 252.9 622.6 253.0 622.8 255.9 623.0 254.1 623.2 249.4 623.4 251.3 623.6 256.6 623.8 251.3 624.0 256.4 624.2 253.5 624.4 256.1 624.6 252.5 624.8 253.9 625.0 255.8 625.2 255.0 625.4 253.5 625.6 256.8 625.8 253.9 626.0 255.4 626.2 252.0 626.4 251.7 626.6 254.3 626.8 254.3 627.0 255.8 627.2 255.4 627.4 255.1 627.6 255.3 627.8 254.9 628.0 258.6 628.2 261.2 628.4 259.4 628.6 259.2 628.8 260.6 629.0 257.4 629.2 259.8 629.4 257.3 629.6 259.8 629.8 255.7 630.0 257.1 630.2 256.4 630.4 257.2 630.6 256.1 630.8 260.6 631.0 256.5 631.2 257.0 631.4 254.1 631.6 255.6 631.8 257.8 632.0 256.3 632.2 257.8 632.4 254.9 632.6 254.9 632.8 256.4 633.0 256.0 633.2 256.1 633.4 255.9 633.6 258.3 633.8 258.6 634.0 256.9 634.2 258.3 634.4 255.7 634.6 256.1 634.8 259.0 635.0 255.4 635.2 258.6 635.4 257.8 635.6 257.0 635.8 253.6 636.0 254.7 636.2 254.0 636.4 253.1 636.6 254.0 636.8 248.9 637.0 249.1 637.2 248.1 637.4 247.1 637.6 248.1 637.8 248.8 638.0 249.0 638.2 246.7 638.4 243.5 638.6 241.5 638.8 243.8 639.0 243.2 639.2 246.9 639.4 245.1 639.6 243.5 639.8 243.4 640.0 241.6 640.2 243.0 640.4 238.4 640.6 243.1 640.8 245.0 641.0 248.4 641.2 243.8 641.4 247.2 641.6 245.3 641.8 247.7 642.0 244.3 642.2 245.9 642.4 245.7 642.6 248.7 642.8 244.5 643.0 246.1 643.2 244.9 643.4 242.4 643.6 243.0 643.8 244.4 644.0 243.4 644.2 241.0 644.4 243.4 644.6 239.4 644.8 242.4 645.0 244.5 645.2 239.3 645.4 239.7 645.6 241.3 645.8 240.2 646.0 237.9 646.2 238.3 646.4 237.9 646.6 234.0 646.8 233.6 647.0 236.1 647.2 235.9 647.4 234.5 647.6 237.5 647.8 237.8 648.0 238.6 648.2 237.1 648.4 237.3 648.6 240.0 648.8 239.2 649.0 239.6 649.2 236.7 649.4 239.6 649.6 238.2 649.8 239.2 650.0 240.8 650.2 241.2 650.4 240.9 650.6 240.6 650.8 244.1 651.0 238.5 651.2 242.6 651.4 240.8 651.6 243.2 651.8 239.5 652.0 245.1 652.2 245.2 652.4 240.0 652.6 244.1 652.8 242.6 653.0 245.3 653.2 245.3 653.4 246.0 653.6 243.8 653.8 246.2 654.0 247.2 654.2 243.9 654.4 243.5 654.6 246.3 654.8 245.7 655.0 245.8 655.2 249.1 655.4 245.7 655.6 247.3 655.8 248.1 656.0 245.6 656.2 250.0 656.4 247.7 656.6 246.7 656.8 250.3 657.0 251.8 657.2 250.2 657.4 251.9 657.6 251.9 657.8 247.7 658.0 249.8 658.2 245.4 658.4 242.4 658.6 242.8 658.8 241.7 659.0 239.8 659.2 240.2 659.4 236.8 659.6 239.3 659.8 237.6 660.0 240.9 660.2 241.0 660.4 240.2 660.6 241.5 660.8 242.9 661.0 242.9 661.2 245.4 661.4 245.1 661.6 246.1 661.8 250.1 662.0 247.9 662.2 250.2 662.4 255.1 662.6 253.6 662.8 253.8 663.0 252.8 663.2 251.6 663.4 252.3 663.6 252.9 663.8 255.3 664.0 251.1 664.2 248.8 664.4 253.6 664.6 251.5 664.8 255.3 665.0 252.9 665.2 255.3 665.4 256.8 665.6 256.2 665.8 255.3 666.0 259.1 666.2 257.6 666.4 258.6 666.6 258.3 666.8 255.4 667.0 258.6 667.2 255.9 667.4 260.2 667.6 260.3 667.8 259.5 668.0 261.1 668.2 262.3 668.4 262.6 668.6 267.1 668.8 264.1 669.0 266.5 669.2 262.2 669.4 264.2 669.6 266.9 669.8 262.2 670.0 264.9 670.2 263.3 670.4 261.3 670.6 262.2 670.8 263.5 671.0 262.8 671.2 261.3 671.4 260.0 671.6 257.0 671.8 263.1 672.0 264.2 672.2 260.4 672.4 260.2 672.6 258.9 672.8 259.8 673.0 260.6 673.2 257.8 673.4 260.4 673.6 262.1 673.8 261.0 674.0 259.8 674.2 259.3 674.4 257.8 674.6 260.3 674.8 260.7 675.0 259.5 675.2 260.9 675.4 262.3 675.6 261.4 675.8 255.0 676.0 257.6 676.2 261.2 676.4 262.1 676.6 262.2 676.8 260.0 677.0 261.8 677.2 262.4 677.4 262.1 677.6 260.2 677.8 261.8 678.0 263.0 678.2 263.5 678.4 265.3 678.6 260.2 678.8 264.5 679.0 265.4 679.2 260.9 679.4 262.9 679.6 264.4 679.8 260.0 680.0 260.6 680.2 260.2 680.4 257.2 680.6 256.7 680.8 261.1 681.0 256.6 681.2 257.8 681.4 259.4 681.6 261.5 681.8 258.7 682.0 261.1 682.2 260.8 682.4 260.8 682.6 261.6 682.8 259.9 683.0 257.0 683.2 263.1 683.4 256.0 683.6 257.0 683.8 255.6" fill="none" stroke="#7E2F8E" stroke-width="1.65" stroke-linejoin="round"/><path d="M69.0 121.4 69.2 122.8 69.4 120.3 69.6 124.8 69.8 126.6 70.0 123.5 70.2 123.7 70.4 123.8 70.6 126.2 70.8 126.6 71.0 127.1 71.2 123.6 71.4 121.8 71.6 125.6 71.8 121.9 72.0 121.7 72.2 120.4 72.4 116.8 72.6 115.9 72.8 118.9 73.0 113.8 73.2 115.9 73.4 121.4 73.6 119.3 73.8 122.4 74.0 125.2 74.2 127.5 74.4 124.7 74.6 124.5 74.8 126.1 75.0 126.5 75.2 125.7 75.4 127.7 75.6 122.5 75.8 127.2 76.0 125.3 76.2 123.2 76.4 122.6 76.6 121.8 76.8 124.4 77.0 122.9 77.2 124.1 77.4 121.1 77.6 119.1 77.8 118.0 78.0 117.1 78.2 115.2 78.4 116.5 78.6 111.3 78.8 115.0 79.0 109.4 79.2 110.2 79.4 111.5 79.6 111.0 79.8 117.3 80.0 116.9 80.2 117.9 80.4 119.1 80.6 119.5 80.8 115.5 81.0 120.9 81.2 117.0 81.4 120.1 81.6 119.3 81.8 120.2 82.0 121.2 82.2 124.4 82.4 127.0 82.6 124.9 82.8 127.2 83.0 127.2 83.2 127.4 83.4 126.0 83.6 127.6 83.8 129.4 84.0 129.1 84.2 127.7 84.4 128.7 84.6 128.0 84.8 129.9 85.0 130.4 85.2 129.2 85.4 131.8 85.6 133.5 85.8 135.5 86.0 133.7 86.2 132.4 86.4 129.7 86.6 131.2 86.8 129.0 87.0 130.0 87.2 124.0 87.4 125.2 87.6 122.6 87.8 123.3 88.0 120.3 88.2 117.0 88.4 120.0 88.6 118.9 88.8 119.2 89.0 119.0 89.2 117.8 89.4 119.4 89.6 120.6 89.8 122.2 90.0 120.2 90.2 121.6 90.4 126.2 90.6 123.7 90.8 125.8 91.0 127.2 91.2 129.6 91.4 128.9 91.6 130.1 91.8 130.3 92.0 130.9 92.2 136.7 92.4 132.4 92.6 135.6 92.8 136.7 93.0 137.7 93.2 139.9 93.4 134.3 93.6 137.5 93.8 138.1 94.0 139.2 94.2 141.4 94.4 143.5 94.6 143.5 94.8 148.3 95.0 143.3 95.2 146.4 95.4 147.4 95.6 147.5 95.8 150.1 96.0 148.4 96.2 150.5 96.4 149.9 96.6 149.7 96.8 148.5 97.0 149.5 97.2 151.6 97.4 152.9 97.6 154.3 97.8 154.0 98.0 154.4 98.2 157.4 98.4 153.7 98.6 155.2 98.8 158.7 99.0 159.8 99.2 158.2 99.4 158.1 99.6 152.4 99.8 152.2 100.0 154.0 100.2 148.2 100.4 150.1 100.6 150.7 100.8 148.5 101.0 148.7 101.2 142.5 101.4 142.5 101.6 142.0 101.8 141.8 102.0 139.5 102.2 142.2 102.4 140.4 102.6 139.2 102.8 136.9 103.0 134.5 103.2 133.8 103.4 132.2 103.6 128.1 103.8 125.3 104.0 124.2 104.2 128.2 104.4 127.2 104.6 125.0 104.8 125.3 105.0 125.3 105.2 122.1 105.4 120.9 105.6 122.1 105.8 123.8 106.0 120.5 106.2 121.0 106.4 121.4 106.6 117.9 106.8 115.8 107.0 114.1 107.2 114.4 107.4 110.4 107.6 112.3 107.8 111.7 108.0 114.7 108.2 115.7 108.4 121.3 108.6 119.5 108.8 121.4 109.0 124.1 109.2 121.4 109.4 123.9 109.6 123.8 109.8 124.8 110.0 120.6 110.2 124.1 110.4 124.8 110.6 125.2 110.8 125.7 111.0 120.9 111.2 130.1 111.4 133.5 111.6 133.0 111.8 132.7 112.0 132.8 112.2 136.1 112.4 137.6 112.6 132.3 112.8 128.8 113.0 134.7 113.2 134.6 113.4 133.4 113.6 132.5 113.8 131.6 114.0 135.9 114.2 134.7 114.4 136.1 114.6 133.7 114.8 133.7 115.0 132.6 115.2 137.1 115.4 135.3 115.6 135.3 115.8 136.3 116.0 135.2 116.2 134.2 116.4 129.0 116.6 135.5 116.8 134.4 117.0 131.3 117.2 129.1 117.4 131.4 117.6 131.1 117.8 133.0 118.0 127.9 118.2 129.3 118.4 129.8 118.6 128.8 118.8 126.2 119.0 125.6 119.2 128.5 119.4 132.5 119.6 129.2 119.8 129.5 120.0 133.0 120.2 133.7 120.4 135.4 120.6 133.9 120.8 133.3 121.0 135.3 121.2 134.1 121.4 133.6 121.6 133.6 121.8 134.0 122.0 134.6 122.2 136.0 122.4 136.6 122.6 136.6 122.8 135.4 123.0 136.1 123.2 136.4 123.4 132.5 123.6 134.8 123.8 133.7 124.0 128.2 124.2 130.6 124.4 128.3 124.6 134.1 124.8 130.8 125.0 134.5 125.2 135.8 125.4 134.2 125.6 133.4 125.8 138.0 126.0 135.5 126.2 138.0 126.4 141.9 126.6 138.5 126.8 138.9 127.0 139.9 127.2 136.7 127.4 137.8 127.6 136.4 127.8 135.3 128.0 141.6 128.2 142.2 128.4 143.3 128.6 143.7 128.8 143.5 129.0 143.5 129.2 145.7 129.4 144.2 129.6 143.8 129.8 145.7 130.0 144.5 130.2 145.5 130.4 143.5 130.6 142.9 130.8 143.2 131.0 145.7 131.2 149.1 131.4 151.6 131.6 148.3 131.8 148.4 132.0 145.5 132.2 142.6 132.4 143.6 132.6 142.3 132.8 142.3 133.0 140.8 133.2 141.6 133.4 142.9 133.6 140.7 133.8 141.7 134.0 143.5 134.2 143.1 134.4 141.8 134.6 141.7 134.8 139.9 135.0 137.8 135.2 138.5 135.4 139.0 135.6 139.6 135.8 137.9 136.0 138.9 136.2 139.0 136.4 136.9 136.6 136.5 136.8 138.9 137.0 135.3 137.2 136.2 137.4 135.0 137.6 138.0 137.8 136.9 138.0 133.8 138.2 137.3 138.4 134.6 138.6 136.4 138.8 136.1 139.0 136.8 139.2 131.9 139.4 134.9 139.6 134.1 139.8 135.6 140.0 132.2 140.2 130.6 140.4 129.1 140.6 130.2 140.8 129.8 141.0 128.5 141.2 128.8 141.4 127.9 141.6 124.7 141.8 126.9 142.0 128.3 142.2 127.9 142.4 126.0 142.6 130.6 142.8 129.1 143.0 129.8 143.2 129.0 143.4 130.2 143.6 131.7 143.8 133.9 144.0 129.1 144.2 131.5 144.4 134.7 144.6 137.2 144.8 136.5 145.0 134.4 145.2 133.2 145.4 135.1 145.6 134.0 145.8 135.6 146.0 133.5 146.2 133.0 146.4 137.2 146.6 136.0 146.8 135.7 147.0 136.1 147.2 132.7 147.4 134.7 147.6 133.3 147.8 133.4 148.0 133.7 148.2 133.1 148.4 129.1 148.6 130.7 148.8 130.5 149.0 133.7 149.2 132.4 149.4 131.5 149.6 132.2 149.8 129.3 150.0 129.6 150.2 132.5 150.4 128.4 150.6 130.2 150.8 130.9 151.0 125.3 151.2 127.9 151.4 125.4 151.6 126.7 151.8 122.4 152.0 125.6 152.2 123.8 152.4 125.5 152.6 125.2 152.8 125.9 153.0 123.6 153.2 123.0 153.4 121.6 153.6 118.5 153.8 121.1 154.0 121.2 154.2 121.9 154.4 124.1 154.6 125.3 154.8 128.4 155.0 128.7 155.2 125.3 155.4 127.1 155.6 127.9 155.8 127.1 156.0 128.7 156.2 124.7 156.4 130.8 156.6 127.5 156.8 123.7 157.0 125.1 157.2 129.0 157.4 126.1 157.6 135.6 157.8 140.2 158.0 140.1 158.2 143.9 158.4 151.6 158.6 153.0 158.8 153.9 159.0 152.3 159.2 151.3 159.4 155.2 159.6 149.8 159.8 154.1 160.0 156.3 160.2 157.3 160.4 155.3 160.6 156.1 160.8 156.5 161.0 154.2 161.2 152.9 161.4 155.6 161.6 154.1 161.8 151.3 162.0 151.2 162.2 152.7 162.4 149.8 162.6 150.6 162.8 150.2 163.0 150.2 163.2 150.2 163.4 148.5 163.6 152.4 163.8 153.0 164.0 153.7 164.2 151.4 164.4 151.5 164.6 148.4 164.8 152.5 165.0 150.1 165.2 149.4 165.4 150.5 165.6 154.7 165.8 152.2 166.0 153.4 166.2 152.5 166.4 154.4 166.6 152.2 166.8 147.2 167.0 154.8 167.2 150.9 167.4 155.2 167.6 152.1 167.8 150.4 168.0 151.5 168.2 152.1 168.4 152.4 168.6 153.1 168.8 149.3 169.0 150.2 169.2 155.7 169.4 153.1 169.6 149.4 169.8 153.2 170.0 152.0 170.2 150.6 170.4 151.1 170.6 148.0 170.8 144.4 171.0 150.5 171.2 147.4 171.4 152.0 171.6 148.8 171.8 150.7 172.0 147.9 172.2 147.5 172.4 148.5 172.6 152.7 172.8 149.3 173.0 144.2 173.2 149.9 173.4 150.5 173.6 147.4 173.8 149.4 174.0 148.7 174.2 147.3 174.4 149.1 174.6 144.2 174.8 146.5 175.0 146.9 175.2 143.6 175.4 145.4 175.6 144.8 175.8 144.6 176.0 146.7 176.2 144.8 176.4 143.9 176.6 147.7 176.8 148.7 177.0 143.8 177.2 146.4 177.4 144.4 177.6 144.5 177.8 145.9 178.0 148.5 178.2 146.8 178.4 144.3 178.6 143.9 178.8 144.8 179.0 145.2 179.2 145.9 179.4 140.1 179.6 141.1 179.8 142.7 180.0 141.5 180.2 143.1 180.4 138.8 180.6 139.7 180.8 143.6 181.0 141.2 181.2 142.0 181.4 138.6 181.6 139.7 181.8 139.9 182.0 138.1 182.2 137.1 182.4 141.1 182.6 139.7 182.8 142.3 183.0 144.2 183.2 142.7 183.4 143.9 183.6 141.4 183.8 143.3 184.0 146.7 184.2 149.3 184.4 149.0 184.6 147.1 184.8 150.1 185.0 151.7 185.2 151.3 185.4 154.1 185.6 153.3 185.8 155.6 186.0 158.2 186.2 161.0 186.4 164.2 186.6 167.7 186.8 166.5 187.0 166.3 187.2 165.9 187.4 165.8 187.6 163.0 187.8 161.5 188.0 162.7 188.2 161.9 188.4 156.7 188.6 159.5 188.8 157.5 189.0 154.8 189.2 153.6 189.4 153.5 189.6 151.4 189.8 151.3 190.0 150.4 190.2 146.6 190.4 146.5 190.6 147.3 190.8 146.7 191.0 147.4 191.2 146.2 191.4 144.4 191.6 147.7 191.8 145.0 192.0 143.9 192.2 148.5 192.4 151.6 192.6 147.0 192.8 151.4 193.0 146.3 193.2 148.3 193.4 148.1 193.6 145.5 193.8 146.2 194.0 146.1 194.2 146.2 194.4 148.5 194.6 153.2 194.8 151.9 195.0 156.0 195.2 152.9 195.4 152.4 195.6 153.8 195.8 155.7 196.0 152.4 196.2 152.4 196.4 155.4 196.6 152.8 196.8 153.5 197.0 153.3 197.2 154.1 197.4 154.5 197.6 153.1 197.8 153.6 198.0 150.7 198.2 153.5 198.4 155.3 198.6 154.2 198.8 154.2 199.0 154.9 199.2 156.0 199.4 153.6 199.6 155.0 199.8 153.3 200.0 155.2 200.2 150.1 200.4 149.7 200.6 151.3 200.8 152.3 201.0 152.1 201.2 154.9 201.4 152.1 201.6 154.1 201.8 155.0 202.0 155.8 202.2 152.4 202.4 151.8 202.6 151.4 202.8 152.9 203.0 148.3 203.2 147.7 203.4 150.3 203.6 148.5 203.8 148.5 204.0 152.5 204.2 147.6 204.4 150.8 204.6 151.3 204.8 145.9 205.0 150.2 205.2 146.6 205.4 147.5 205.6 150.3 205.8 147.7 206.0 143.5 206.2 148.0 206.4 146.4 206.6 145.0 206.8 147.3 207.0 143.9 207.2 145.0 207.4 149.5 207.6 147.4 207.8 148.2 208.0 150.5 208.2 146.0 208.4 151.6 208.6 147.8 208.8 149.7 209.0 149.5 209.2 149.0 209.4 152.3 209.6 148.9 209.8 151.5 210.0 150.9 210.2 147.9 210.4 148.8 210.6 148.2 210.8 150.1 211.0 147.4 211.2 149.4 211.4 147.6 211.6 149.1 211.8 149.4 212.0 148.5 212.2 152.2 212.4 147.5 212.6 148.9 212.8 149.6 213.0 152.3 213.2 152.9 213.4 150.8 213.6 151.5 213.8 151.4 214.0 152.2 214.2 149.8 214.4 152.0 214.6 155.0 214.8 160.0 215.0 161.0 215.2 163.5 215.4 162.7 215.6 166.1 215.8 165.6 216.0 167.4 216.2 170.7 216.4 171.3 216.6 171.4 216.8 171.1 217.0 174.6 217.2 177.4 217.4 177.7 217.6 178.2 217.8 175.8 218.0 177.9 218.2 177.0 218.4 175.9 218.6 176.4 218.8 175.9 219.0 177.1 219.2 178.5 219.4 175.7 219.6 180.9 219.8 179.8 220.0 180.0 220.2 180.2 220.4 178.3 220.6 175.7 220.8 174.9 221.0 171.2 221.2 167.0 221.4 172.2 221.6 172.4 221.8 174.7 222.0 173.2 222.2 170.5 222.4 171.1 222.6 170.7 222.8 171.8 223.0 171.1 223.2 174.5 223.4 175.4 223.6 172.6 223.8 173.5 224.0 173.6 224.2 172.0 224.4 171.8 224.6 174.2 224.8 173.1 225.0 174.1 225.2 175.6 225.4 178.7 225.6 178.6 225.8 177.8 226.0 181.1 226.2 182.4 226.4 188.3 226.6 187.1 226.8 188.0 227.0 185.1 227.2 189.4 227.4 190.0 227.6 191.0 227.8 188.3 228.0 188.0 228.2 192.0 228.4 190.4 228.6 187.7 228.8 190.6 229.0 186.4 229.2 188.9 229.4 188.4 229.6 184.4 229.8 187.3 230.0 186.3 230.2 186.1 230.4 182.2 230.6 179.8 230.8 183.8 231.0 180.8 231.2 183.5 231.4 183.5 231.6 183.7 231.8 183.9 232.0 185.7 232.2 183.9 232.4 181.2 232.6 179.0 232.8 179.2 233.0 181.5 233.2 184.9 233.4 181.9 233.6 181.4 233.8 180.4 234.0 179.4 234.2 185.5 234.4 185.0 234.6 188.4 234.8 187.0 235.0 192.9 235.2 194.3 235.4 192.9 235.6 193.4 235.8 192.9 236.0 193.7 236.2 194.2 236.4 197.2 236.6 194.9 236.8 196.8 237.0 198.1 237.2 199.7 237.4 199.1 237.6 202.0 237.8 200.9 238.0 205.4 238.2 202.3 238.4 201.0 238.6 199.9 238.8 201.0 239.0 201.8 239.2 196.1 239.4 192.3 239.6 190.6 239.8 180.7 240.0 179.1 240.2 175.2 240.4 175.4 240.6 174.2 240.8 170.1 241.0 169.9 241.2 173.1 241.4 171.8 241.6 168.4 241.8 169.4 242.0 168.1 242.2 165.0 242.4 166.4 242.6 161.0 242.8 163.6 243.0 164.2 243.2 165.0 243.4 165.5 243.6 169.3 243.8 167.7 244.0 167.9 244.2 168.1 244.4 168.5 244.6 168.8 244.8 168.6 245.0 173.1 245.2 172.8 245.4 175.1 245.6 172.3 245.8 175.1 246.0 178.2 246.2 177.9 246.4 177.9 246.6 177.9 246.8 176.5 247.0 177.1 247.2 177.5 247.4 179.2 247.6 178.2 247.8 181.5 248.0 184.0 248.2 181.0 248.4 182.0 248.6 185.6 248.8 182.0 249.0 181.2 249.2 180.7 249.4 178.9 249.6 178.3 249.8 180.7 250.0 177.4 250.2 179.9 250.4 181.6 250.6 176.9 250.8 176.7 251.0 180.3 251.2 177.5 251.4 176.0 251.6 177.6 251.8 175.2 252.0 172.6 252.2 175.7 252.4 174.1 252.6 171.0 252.8 172.2 253.0 171.8 253.2 172.3 253.4 169.4 253.6 173.0 253.8 172.1 254.0 171.4 254.2 170.8 254.4 173.5 254.6 173.0 254.8 176.7 255.0 172.2 255.2 178.5 255.4 179.5 255.6 173.7 255.8 181.9 256.0 181.1 256.2 179.9 256.4 182.1 256.6 182.5 256.8 179.8 257.0 177.9 257.2 178.4 257.4 176.1 257.6 176.8 257.8 181.3 258.0 174.8 258.2 174.9 258.4 175.0 258.6 176.2 258.8 180.0 259.0 179.3 259.2 178.4 259.4 178.2 259.6 171.9 259.8 176.4 260.0 176.2 260.2 176.7 260.4 173.0 260.6 176.3 260.8 173.5 261.0 171.9 261.2 170.8 261.4 169.9 261.6 172.2 261.8 170.6 262.0 172.2 262.2 171.9 262.4 173.5 262.6 172.0 262.8 172.5 263.0 172.0 263.2 169.1 263.4 171.3 263.6 168.2 263.8 166.0 264.0 172.1 264.2 169.8 264.4 170.5 264.6 168.7 264.8 170.3 265.0 172.0 265.2 169.4 265.4 174.9 265.6 174.7 265.8 174.1 266.0 172.9 266.2 172.3 266.4 171.4 266.6 172.9 266.8 167.3 267.0 168.7 267.2 169.3 267.4 168.9 267.6 169.0 267.8 165.1 268.0 164.1 268.2 161.0 268.4 163.1 268.6 160.1 268.8 158.7 269.0 161.0 269.2 156.9 269.4 156.2 269.6 160.8 269.8 160.7 270.0 158.7 270.2 159.4 270.4 161.0 270.6 164.2 270.8 161.2 271.0 161.1 271.2 164.9 271.4 162.8 271.6 169.5 271.8 170.5 272.0 167.1 272.2 171.1 272.4 167.5 272.6 167.9 272.8 167.4 273.0 167.1 273.2 167.9 273.4 170.3 273.6 168.2 273.8 169.2 274.0 166.4 274.2 170.5 274.4 170.7 274.6 169.6 274.8 166.6 275.0 168.1 275.2 167.0 275.4 168.2 275.6 170.0 275.8 173.0 276.0 174.3 276.2 168.4 276.4 168.6 276.6 166.6 276.8 173.5 277.0 164.3 277.2 169.2 277.4 167.2 277.6 171.5 277.8 170.6 278.0 170.6 278.2 167.6 278.4 169.2 278.6 166.2 278.8 164.2 279.0 165.8 279.2 166.4 279.4 169.6 279.6 166.3 279.8 167.1 280.0 160.7 280.2 162.4 280.4 162.6 280.6 159.1 280.8 164.2 281.0 161.1 281.2 161.4 281.4 163.0 281.6 163.5 281.8 164.3 282.0 167.3 282.2 167.1 282.4 166.8 282.6 165.6 282.8 162.9 283.0 159.9 283.2 161.4 283.4 161.8 283.6 164.6 283.8 165.2 284.0 162.0 284.2 161.1 284.4 162.6 284.6 162.4 284.8 163.6 285.0 164.6 285.2 164.0 285.4 160.4 285.6 166.1 285.8 161.3 286.0 167.0 286.2 172.1 286.4 169.8 286.6 166.8 286.8 169.7 287.0 161.9 287.2 163.6 287.4 161.6 287.6 157.0 287.8 156.5 288.0 157.1 288.2 157.6 288.4 153.7 288.6 153.8 288.8 154.4 289.0 152.4 289.2 150.3 289.4 149.6 289.6 148.8 289.8 149.1 290.0 146.7 290.2 147.9 290.4 147.9 290.6 146.6 290.8 150.4 291.0 148.8 291.2 147.6 291.4 148.6 291.6 148.0 291.8 146.9 292.0 144.5 292.2 145.3 292.4 144.5 292.6 144.2 292.8 146.5 293.0 147.2 293.2 145.8 293.4 149.0 293.6 148.0 293.8 144.2 294.0 149.6 294.2 146.4 294.4 146.8 294.6 142.8 294.8 143.4 295.0 143.7 295.2 141.3 295.4 140.9 295.6 142.5 295.8 143.2 296.0 147.1 296.2 143.3 296.4 139.0 296.6 138.2 296.8 139.4 297.0 137.1 297.2 137.4 297.4 141.7 297.6 136.8 297.8 138.6 298.0 140.1 298.2 142.9 298.4 142.8 298.6 140.2 298.8 143.6 299.0 139.9 299.2 143.0 299.4 139.1 299.6 140.3 299.8 143.3 300.0 142.7 300.2 144.2 300.4 138.7 300.6 148.4 300.8 150.4 301.0 153.0 301.2 149.9 301.4 153.5 301.6 153.8 301.8 153.6 302.0 157.8 302.2 157.9 302.4 156.6 302.6 152.2 302.8 151.3 303.0 148.1 303.2 149.2 303.4 150.1 303.6 148.6 303.8 147.9 304.0 147.7 304.2 147.1 304.4 146.6 304.6 144.8 304.8 149.5 305.0 150.2 305.2 147.0 305.4 146.0 305.6 144.4 305.8 145.0 306.0 147.7 306.2 145.1 306.4 141.1 306.6 144.3 306.8 144.9 307.0 147.7 307.2 148.9 307.4 145.3 307.6 145.6 307.8 146.7 308.0 144.0 308.2 146.1 308.4 144.0 308.6 148.7 308.8 149.3 309.0 149.6 309.2 150.9 309.4 149.9 309.6 150.8 309.8 153.2 310.0 151.3 310.2 149.0 310.4 149.1 310.6 146.9 310.8 145.6 311.0 146.7 311.2 146.2 311.4 145.7 311.6 149.0 311.8 145.6 312.0 145.3 312.2 147.9 312.4 141.7 312.6 142.5 312.8 141.9 313.0 144.0 313.2 149.3 313.4 142.9 313.6 148.7 313.8 141.5 314.0 139.6 314.2 140.7 314.4 139.6 314.6 138.1 314.8 135.6 315.0 137.1 315.2 132.0 315.4 132.8 315.6 135.3 315.8 126.9 316.0 128.8 316.2 126.3 316.4 121.6 316.6 128.6 316.8 133.1 317.0 134.4 317.2 134.7 317.4 130.4 317.6 128.6 317.8 126.5 318.0 127.9 318.2 123.6 318.4 122.3 318.6 121.9 318.8 124.4 319.0 116.4 319.2 118.7 319.4 116.2 319.6 112.6 319.8 121.2 320.0 124.5 320.2 135.0 320.4 138.2 320.6 133.9 320.8 134.8 321.0 131.0 321.2 130.1 321.4 127.0 321.6 125.7 321.8 122.4 322.0 123.5 322.2 126.0 322.4 130.2 322.6 129.3 322.8 130.1 323.0 131.0 323.2 132.6 323.4 130.4 323.6 131.1 323.8 133.8 324.0 136.2 324.2 136.2 324.4 132.6 324.6 138.5 324.8 137.4 325.0 138.2 325.2 142.1 325.4 142.9 325.6 143.1 325.8 142.5 326.0 145.0 326.2 144.5 326.4 146.3 326.6 146.7 326.8 149.4 327.0 149.9 327.2 149.7 327.4 148.5 327.6 150.5 327.8 151.5 328.0 153.5 328.2 156.3 328.4 164.2 328.6 168.3 328.8 168.5 329.0 173.2 329.2 176.2 329.4 178.3 329.6 178.6 329.8 179.3 330.0 184.6 330.2 182.7 330.4 185.3 330.6 187.0 330.8 187.9 331.0 190.7 331.2 185.4 331.4 184.9 331.6 188.7 331.8 190.9 332.0 190.7 332.2 190.0 332.4 191.1 332.6 196.0 332.8 195.4 333.0 195.2 333.2 196.3 333.4 195.7 333.6 192.1 333.8 192.6 334.0 188.9 334.2 190.3 334.4 190.0 334.6 189.9 334.8 185.7 335.0 181.1 335.2 180.0 335.4 179.2 335.6 180.0 335.8 181.4 336.0 181.9 336.2 182.5 336.4 180.3 336.6 178.9 336.8 180.3 337.0 177.3 337.2 181.9 337.4 180.8 337.6 176.6 337.8 179.7 338.0 183.7 338.2 183.3 338.4 178.8 338.6 173.3 338.8 177.9 339.0 175.7 339.2 175.6 339.4 175.7 339.6 175.8 339.8 177.0 340.0 175.2 340.2 173.8 340.4 173.9 340.6 183.6 340.8 180.9 341.0 180.4 341.2 182.0 341.4 179.7 341.6 179.1 341.8 180.1 342.0 183.8 342.2 178.8 342.4 177.6 342.6 181.2 342.8 181.0 343.0 183.9 343.2 180.6 343.4 178.1 343.6 181.0 343.8 180.5 344.0 179.4 344.2 176.0 344.4 176.7 344.6 171.6 344.8 169.6 345.0 167.3 345.2 162.8 345.4 163.5 345.6 166.3 345.8 167.8 346.0 168.3 346.2 174.3 346.4 171.3 346.6 169.9 346.8 170.9 347.0 173.5 347.2 173.6 347.4 173.6 347.6 172.6 347.8 176.0 348.0 178.7 348.2 172.8 348.4 178.3 348.6 177.9 348.8 179.0 349.0 184.0 349.2 182.2 349.4 180.5 349.6 185.9 349.8 185.2 350.0 190.4 350.2 190.4 350.4 191.4 350.6 188.0 350.8 190.4 351.0 191.9 351.2 187.4 351.4 184.3 351.6 184.7 351.8 188.0 352.0 186.2 352.2 186.4 352.4 187.4 352.6 184.3 352.8 182.6 353.0 181.0 353.2 178.5 353.4 178.5 353.6 178.6 353.8 175.9 354.0 177.5 354.2 176.7 354.4 176.3 354.6 178.9 354.8 177.3 355.0 180.0 355.2 177.2 355.4 179.3 355.6 180.7 355.8 180.0 356.0 179.2 356.2 179.7 356.4 175.9 356.6 177.4 356.8 180.8 357.0 177.5 357.2 179.0 357.4 179.8 357.6 178.7 357.8 179.5 358.0 177.0 358.2 179.6 358.4 179.8 358.6 180.6 358.8 181.7 359.0 182.4 359.2 184.3 359.4 183.9 359.6 184.8 359.8 184.1 360.0 185.4 360.2 187.7 360.4 184.6 360.6 183.7 360.8 184.1 361.0 185.4 361.2 183.6 361.4 185.3 361.6 183.6 361.8 183.1 362.0 179.0 362.2 177.6 362.4 178.9 362.6 181.5 362.8 175.9 363.0 179.8 363.2 177.9 363.4 180.8 363.6 177.8 363.8 177.3 364.0 176.9 364.2 180.6 364.4 181.4 364.6 179.5 364.8 180.2 365.0 180.5 365.2 176.4 365.4 180.4 365.6 177.4 365.8 178.8 366.0 181.3 366.2 181.2 366.4 181.7 366.6 178.2 366.8 179.0 367.0 179.9 367.2 175.7 367.4 180.2 367.6 177.1 367.8 176.8 368.0 176.0 368.2 176.9 368.4 174.5 368.6 178.1 368.8 178.5 369.0 176.0 369.2 176.7 369.4 179.1 369.6 174.1 369.8 175.9 370.0 182.1 370.2 178.6 370.4 186.1 370.6 182.9 370.8 177.1 371.0 182.7 371.2 182.7 371.4 183.5 371.6 186.3 371.8 186.0 372.0 186.9 372.2 188.3 372.4 186.0 372.6 189.7 372.8 191.0 373.0 192.3 373.2 193.1 373.4 193.4 373.6 189.9 373.8 191.9 374.0 191.9 374.2 196.4 374.4 197.8 374.6 196.7 374.8 192.7 375.0 194.8 375.2 198.0 375.4 197.8 375.6 198.6 375.8 200.0 376.0 196.9 376.2 200.8 376.4 201.9 376.6 198.5 376.8 199.5 377.0 199.8 377.2 203.0 377.4 201.7 377.6 198.8 377.8 198.5 378.0 198.0 378.2 200.7 378.4 202.1 378.6 201.2 378.8 201.7 379.0 202.0 379.2 197.1 379.4 193.1 379.6 192.8 379.8 190.8 380.0 193.7 380.2 186.8 380.4 184.5 380.6 184.2 380.8 177.2 381.0 176.4 381.2 178.3 381.4 180.2 381.6 182.4 381.8 184.2 382.0 183.9 382.2 192.5 382.4 191.1 382.6 196.1 382.8 196.2 383.0 198.1 383.2 200.8 383.4 200.0 383.6 202.5 383.8 205.9 384.0 208.6 384.2 212.0 384.4 210.8 384.6 212.8 384.8 220.2 385.0 215.8 385.2 216.7 385.4 215.5 385.6 217.4 385.8 219.8 386.0 221.0 386.2 219.6 386.4 221.5 386.6 223.6 386.8 225.6 387.0 228.4 387.2 229.0 387.4 229.3 387.6 228.1 387.8 228.4 388.0 227.0 388.2 228.7 388.4 234.5 388.6 232.3 388.8 233.9 389.0 234.1 389.2 234.5 389.4 232.4 389.6 234.2 389.8 233.7 390.0 237.2 390.2 235.8 390.4 233.2 390.6 231.6 390.8 234.5 391.0 231.0 391.2 230.2 391.4 229.2 391.6 226.8 391.8 224.0 392.0 218.4 392.2 221.2 392.4 217.9 392.6 219.2 392.8 223.9 393.0 226.8 393.2 227.6 393.4 226.9 393.6 226.3 393.8 226.5 394.0 223.9 394.2 224.6 394.4 226.7 394.6 228.8 394.8 227.6 395.0 227.8 395.2 229.5 395.4 231.5 395.6 231.5 395.8 230.9 396.0 233.8 396.2 230.4 396.4 228.7 396.6 232.6 396.8 233.7 397.0 234.4 397.2 230.7 397.4 227.6 397.6 234.2 397.8 228.7 398.0 226.4 398.2 230.7 398.4 232.0 398.6 232.8 398.8 231.6 399.0 235.0 399.2 234.1 399.4 235.6 399.6 233.9 399.8 238.7 400.0 235.1 400.2 232.6 400.4 231.4 400.6 233.0 400.8 229.1 401.0 230.1 401.2 228.9 401.4 228.8 401.6 230.5 401.8 228.8 402.0 226.8 402.2 226.9 402.4 225.5 402.6 223.7 402.8 222.1 403.0 221.6 403.2 225.5 403.4 225.4 403.6 225.1 403.8 226.5 404.0 225.5 404.2 225.4 404.4 225.2 404.6 228.2 404.8 226.5 405.0 225.8 405.2 226.1 405.4 226.7 405.6 227.3 405.8 224.1 406.0 225.9 406.2 224.2 406.4 221.4 406.6 226.2 406.8 233.5 407.0 226.1 407.2 229.3 407.4 231.3 407.6 229.4 407.8 229.9 408.0 227.6 408.2 225.0 408.4 225.7 408.6 224.1 408.8 226.0 409.0 226.7 409.2 226.5 409.4 226.6 409.6 225.2 409.8 230.0 410.0 225.9 410.2 224.2 410.4 223.8 410.6 225.6 410.8 226.3 411.0 226.5 411.2 223.6 411.4 225.3 411.6 223.8 411.8 224.3 412.0 226.1 412.2 225.5 412.4 226.2 412.6 222.4 412.8 221.6 413.0 224.6 413.2 222.0 413.4 225.0 413.6 222.4 413.8 221.5 414.0 221.7 414.2 220.6 414.4 223.4 414.6 222.9 414.8 222.4 415.0 219.5 415.2 220.7 415.4 223.4 415.6 223.1 415.8 223.7 416.0 226.2 416.2 223.5 416.4 225.2 416.6 227.0 416.8 227.5 417.0 224.5 417.2 226.6 417.4 226.6 417.6 225.6 417.8 225.1 418.0 227.1 418.2 228.0 418.4 225.7 418.6 226.8 418.8 229.4 419.0 231.1 419.2 230.8 419.4 228.6 419.6 232.0 419.8 226.3 420.0 226.7 420.2 226.8 420.4 229.1 420.6 228.8 420.8 230.6 421.0 228.6 421.2 226.5 421.4 229.8 421.6 226.5 421.8 230.9 422.0 224.4 422.2 228.5 422.4 225.0 422.6 224.4 422.8 225.2 423.0 222.3 423.2 224.6 423.4 224.9 423.6 223.7 423.8 223.8 424.0 224.6 424.2 224.0 424.4 227.1 424.6 226.1 424.8 231.5 425.0 227.5 425.2 224.1 425.4 226.5 425.6 226.0 425.8 219.1 426.0 224.1 426.2 222.3 426.4 226.3 426.6 231.5 426.8 226.3 427.0 229.2 427.2 232.8 427.4 230.7 427.6 238.3 427.8 239.1 428.0 245.3 428.2 243.9 428.4 238.2 428.6 237.3 428.8 241.6 429.0 236.5 429.2 235.4 429.4 234.3 429.6 235.9 429.8 232.9 430.0 230.7 430.2 233.1 430.4 231.9 430.6 234.0 430.8 231.4 431.0 236.4 431.2 236.0 431.4 234.4 431.6 237.9 431.8 236.8 432.0 235.1 432.2 239.5 432.4 240.8 432.6 241.4 432.8 241.4 433.0 240.2 433.2 240.3 433.4 241.5 433.6 242.8 433.8 243.3 434.0 243.0 434.2 240.8 434.4 240.7 434.6 239.6 434.8 240.7 435.0 240.0 435.2 240.3 435.4 240.0 435.6 244.7 435.8 241.3 436.0 243.2 436.2 247.3 436.4 250.9 436.6 247.5 436.8 246.3 437.0 251.8 437.2 249.8 437.4 251.9 437.6 252.1 437.8 252.3 438.0 256.4 438.2 255.7 438.4 253.6 438.6 254.8 438.8 249.5 439.0 249.5 439.2 250.7 439.4 252.6 439.6 247.1 439.8 249.3 440.0 246.6 440.2 244.8 440.4 248.6 440.6 250.2 440.8 245.4 441.0 246.3 441.2 244.3 441.4 246.3 441.6 248.4 441.8 246.8 442.0 243.4 442.2 240.7 442.4 243.8 442.6 244.7 442.8 244.8 443.0 244.4 443.2 245.4 443.4 250.4 443.6 250.2 443.8 247.4 444.0 254.2 444.2 248.5 444.4 250.2 444.6 247.3 444.8 251.1 445.0 254.2 445.2 251.1 445.4 252.7 445.6 253.2 445.8 251.8 446.0 247.3 446.2 246.4 446.4 247.2 446.6 245.9 446.8 243.9 447.0 245.2 447.2 244.1 447.4 245.9 447.6 251.6 447.8 260.8 448.0 267.1 448.2 272.6 448.4 270.9 448.6 268.9 448.8 269.0 449.0 269.4 449.2 268.0 449.4 271.3 449.6 266.2 449.8 271.1 450.0 266.2 450.2 264.4 450.4 264.0 450.6 264.3 450.8 264.6 451.0 260.5 451.2 262.2 451.4 257.9 451.6 255.5 451.8 255.1 452.0 256.5 452.2 249.5 452.4 248.8 452.6 252.1 452.8 256.9 453.0 254.2 453.2 259.4 453.4 260.9 453.6 260.4 453.8 265.9 454.0 268.3 454.2 271.7 454.4 271.2 454.6 275.1 454.8 277.6 455.0 283.0 455.2 279.1 455.4 281.4 455.6 278.5 455.8 277.7 456.0 278.4 456.2 275.6 456.4 272.1 456.6 273.9 456.8 270.6 457.0 272.7 457.2 271.7 457.4 267.3 457.6 267.4 457.8 263.3 458.0 266.8 458.2 264.4 458.4 268.8 458.6 267.9 458.8 266.0 459.0 267.4 459.2 264.4 459.4 265.9 459.6 264.3 459.8 262.2 460.0 265.2 460.2 255.4 460.4 260.8 460.6 259.0 460.8 262.8 461.0 260.8 461.2 264.2 461.4 262.8 461.6 267.5 461.8 265.1 462.0 265.3 462.2 262.5 462.4 263.9 462.6 270.7 462.8 269.0 463.0 269.0 463.2 272.0 463.4 270.9 463.6 271.4 463.8 270.2 464.0 275.1 464.2 267.7 464.4 267.1 464.6 269.3 464.8 269.5 465.0 270.3 465.2 266.7 465.4 265.7 465.6 266.3 465.8 272.9 466.0 267.7 466.2 272.7 466.4 274.0 466.6 276.4 466.8 278.3 467.0 282.2 467.2 280.8 467.4 279.0 467.6 276.9 467.8 272.0 468.0 278.2 468.2 273.8 468.4 270.9 468.6 266.4 468.8 265.5 469.0 264.6 469.2 264.4 469.4 261.2 469.6 258.6 469.8 255.9 470.0 257.7 470.2 256.6 470.4 253.7 470.6 255.7 470.8 255.1 471.0 255.7 471.2 249.8 471.4 249.2 471.6 252.7 471.8 250.0 472.0 256.9 472.2 254.8 472.4 258.7 472.6 259.1 472.8 258.3 473.0 262.9 473.2 261.3 473.4 264.1 473.6 264.5 473.8 265.7 474.0 268.0 474.2 266.1 474.4 268.4 474.6 265.2 474.8 263.0 475.0 264.5 475.2 261.7 475.4 264.2 475.6 262.8 475.8 261.7 476.0 263.6 476.2 257.7 476.4 260.7 476.6 259.0 476.8 260.1 477.0 258.0 477.2 255.0 477.4 256.8 477.6 256.5 477.8 252.2 478.0 255.3 478.2 256.0 478.4 248.7 478.6 252.7 478.8 254.4 479.0 250.4 479.2 246.7 479.4 245.9 479.6 244.8 479.8 251.5 480.0 253.1 480.2 256.1 480.4 256.4 480.6 254.3 480.8 253.4 481.0 257.9 481.2 260.4 481.4 258.7 481.6 258.4 481.8 261.1 482.0 256.4 482.2 254.7 482.4 254.2 482.6 250.6 482.8 248.9 483.0 250.7 483.2 251.4 483.4 249.2 483.6 249.4 483.8 249.9 484.0 246.7 484.2 246.9 484.4 247.8 484.6 246.6 484.8 246.3 485.0 246.6 485.2 249.8 485.4 249.8 485.6 253.0 485.8 254.2 486.0 256.2 486.2 260.8 486.4 259.1 486.6 257.2 486.8 264.6 487.0 262.2 487.2 262.7 487.4 262.1 487.6 259.6 487.8 256.6 488.0 258.4 488.2 257.0 488.4 258.1 488.6 257.0 488.8 257.7 489.0 251.5 489.2 252.0 489.4 254.5 489.6 252.7 489.8 253.2 490.0 251.6 490.2 252.3 490.4 249.9 490.6 251.5 490.8 247.0 491.0 248.5 491.2 245.5 491.4 244.3 491.6 242.5 491.8 245.0 492.0 240.4 492.2 244.4 492.4 243.4 492.6 242.2 492.8 241.9 493.0 245.9 493.2 243.9 493.4 246.8 493.6 245.4 493.8 249.5 494.0 246.1 494.2 249.2 494.4 250.7 494.6 249.6 494.8 250.5 495.0 250.2 495.2 250.1 495.4 250.7 495.6 250.6 495.8 250.9 496.0 251.4 496.2 249.6 496.4 250.2 496.6 253.1 496.8 245.9 497.0 246.4 497.2 244.5 497.4 245.8 497.6 243.0 497.8 245.6 498.0 238.3 498.2 234.8 498.4 234.6 498.6 233.1 498.8 236.8 499.0 233.0 499.2 231.5 499.4 233.4 499.6 232.8 499.8 232.9 500.0 232.5 500.2 232.4 500.4 230.3 500.6 228.6 500.8 228.9 501.0 226.1 501.2 224.0 501.4 224.9 501.6 228.6 501.8 225.0 502.0 228.8 502.2 227.2 502.4 226.4 502.6 227.7 502.8 229.1 503.0 223.3 503.2 226.6 503.4 226.0 503.6 224.5 503.8 225.1 504.0 225.8 504.2 222.8 504.4 222.3 504.6 221.5 504.8 218.4 505.0 214.6 505.2 216.2 505.4 210.4 505.6 212.0 505.8 210.1 506.0 210.9 506.2 207.7 506.4 207.5 506.6 206.5 506.8 203.9 507.0 200.7 507.2 203.8 507.4 199.2 507.6 197.0 507.8 196.6 508.0 194.0 508.2 194.8 508.4 199.8 508.6 196.9 508.8 193.5 509.0 193.7 509.2 197.2 509.4 197.2 509.6 195.3 509.8 198.9 510.0 195.0 510.2 199.7 510.4 200.3 510.6 199.2 510.8 192.2 511.0 193.8 511.2 193.1 511.4 188.7 511.6 185.6 511.8 186.9 512.0 180.1 512.2 181.1 512.4 181.0 512.6 179.4 512.8 180.3 513.0 182.4 513.2 181.0 513.4 177.2 513.6 176.3 513.8 176.2 514.0 178.8 514.2 182.3 514.4 183.1 514.6 189.3 514.8 185.5 515.0 185.5 515.2 189.6 515.4 186.1 515.6 187.1 515.8 190.9 516.0 189.4 516.2 191.8 516.4 190.9 516.6 194.3 516.8 195.4 517.0 196.0 517.2 196.6 517.4 197.4 517.6 199.3 517.8 197.8 518.0 197.7 518.2 203.1 518.4 204.3 518.6 202.5 518.8 201.9 519.0 202.7 519.2 202.5 519.4 202.6 519.6 203.1 519.8 205.6 520.0 202.9 520.2 202.7 520.4 199.9 520.6 202.1 520.8 201.9 521.0 197.1 521.2 193.0 521.4 197.6 521.6 197.9 521.8 196.2 522.0 193.6 522.2 193.1 522.4 186.4 522.6 188.0 522.8 188.0 523.0 189.9 523.2 187.0 523.4 194.6 523.6 195.5 523.8 193.2 524.0 191.3 524.2 189.0 524.4 190.9 524.6 192.7 524.8 192.5 525.0 191.3 525.2 192.3 525.4 190.2 525.6 191.7 525.8 189.4 526.0 189.7 526.2 190.1 526.4 187.5 526.6 189.4 526.8 180.5 527.0 181.4 527.2 179.6 527.4 181.1 527.6 182.0 527.8 178.2 528.0 175.2 528.2 173.3 528.4 168.5 528.6 173.2 528.8 175.9 529.0 176.2 529.2 175.9 529.4 180.0 529.6 179.1 529.8 179.7 530.0 184.5 530.2 182.5 530.4 181.8 530.6 184.0 530.8 184.5 531.0 186.4 531.2 187.7 531.4 187.7 531.6 188.0 531.8 187.5 532.0 189.5 532.2 190.1 532.4 192.1 532.6 190.8 532.8 190.6 533.0 193.6 533.2 191.7 533.4 191.5 533.6 195.1 533.8 194.0 534.0 191.8 534.2 192.1 534.4 194.2 534.6 190.1 534.8 193.1 535.0 195.9 535.2 194.4 535.4 193.1 535.6 195.3 535.8 195.5 536.0 195.8 536.2 195.9 536.4 194.2 536.6 194.8 536.8 197.8 537.0 197.3 537.2 196.5 537.4 196.4 537.6 197.0 537.8 198.9 538.0 196.7 538.2 198.3 538.4 202.5 538.6 198.5 538.8 202.7 539.0 200.5 539.2 199.4 539.4 197.7 539.6 199.8 539.8 199.3 540.0 199.0 540.2 199.1 540.4 195.9 540.6 194.3 540.8 196.0 541.0 195.3 541.2 194.3 541.4 193.2 541.6 193.3 541.8 196.2 542.0 193.8 542.2 199.1 542.4 197.5 542.6 193.4 542.8 191.5 543.0 193.3 543.2 188.6 543.4 188.3 543.6 187.6 543.8 183.4 544.0 179.2 544.2 182.1 544.4 182.2 544.6 177.3 544.8 176.6 545.0 172.7 545.2 170.4 545.4 174.5 545.6 174.0 545.8 168.7 546.0 164.1 546.2 170.0 546.4 167.5 546.6 168.3 546.8 166.4 547.0 168.5 547.2 169.1 547.4 167.9 547.6 166.4 547.8 165.6 548.0 166.5 548.2 163.0 548.4 161.9 548.6 160.6 548.8 162.3 549.0 162.0 549.2 161.8 549.4 168.7 549.6 166.9 549.8 172.4 550.0 168.1 550.2 166.1 550.4 167.4 550.6 169.1 550.8 169.4 551.0 168.7 551.2 167.6 551.4 171.9 551.6 171.5 551.8 174.5 552.0 172.9 552.2 176.7 552.4 177.5 552.6 175.5 552.8 179.4 553.0 180.4 553.2 177.7 553.4 179.5 553.6 180.6 553.8 183.8 554.0 181.7 554.2 182.7 554.4 181.3 554.6 182.1 554.8 182.3 555.0 185.2 555.2 183.5 555.4 183.5 555.6 185.9 555.8 185.7 556.0 183.8 556.2 187.6 556.4 186.7 556.6 185.8 556.8 185.8 557.0 189.2 557.2 189.3 557.4 188.6 557.6 192.4 557.8 189.4 558.0 192.7 558.2 191.7 558.4 195.2 558.6 192.9 558.8 191.9 559.0 192.3 559.2 190.4 559.4 191.2 559.6 188.7 559.8 187.0 560.0 186.1 560.2 185.5 560.4 186.8 560.6 182.8 560.8 184.2 561.0 182.0 561.2 180.3 561.4 178.6 561.6 179.9 561.8 179.6 562.0 178.1 562.2 178.4 562.4 177.0 562.6 178.3 562.8 175.1 563.0 170.4 563.2 172.5 563.4 168.0 563.6 167.4 563.8 163.0 564.0 163.5 564.2 163.0 564.4 156.7 564.6 159.6 564.8 164.7 565.0 166.1 565.2 172.2 565.4 175.6 565.6 178.0 565.8 181.2 566.0 186.4 566.2 194.2 566.4 196.5 566.6 203.7 566.8 204.3 567.0 204.8 567.2 203.4 567.4 205.0 567.6 206.8 567.8 203.8 568.0 206.1 568.2 209.0 568.4 203.7 568.6 204.6 568.8 200.6 569.0 202.1 569.2 201.6 569.4 203.9 569.6 203.1 569.8 200.0 570.0 205.9 570.2 207.3 570.4 206.3 570.6 203.9 570.8 205.7 571.0 203.6 571.2 203.9 571.4 204.8 571.6 208.5 571.8 208.6 572.0 207.2 572.2 211.0 572.4 207.7 572.6 208.8 572.8 209.1 573.0 209.7 573.2 210.3 573.4 214.0 573.6 212.8 573.8 216.1 574.0 214.5 574.2 214.1 574.4 218.3 574.6 214.1 574.8 215.5 575.0 216.1 575.2 217.7 575.4 217.0 575.6 218.2 575.8 220.1 576.0 223.3 576.2 222.4 576.4 219.8 576.6 224.8 576.8 221.0 577.0 221.4 577.2 225.4 577.4 225.5 577.6 227.2 577.8 228.1 578.0 229.2 578.2 225.3 578.4 232.0 578.6 229.9 578.8 232.3 579.0 232.0 579.2 229.9 579.4 232.2 579.6 231.6 579.8 229.8 580.0 232.9 580.2 230.2 580.4 230.8 580.6 231.7 580.8 231.0 581.0 231.2 581.2 229.6 581.4 231.8 581.6 232.6 581.8 233.1 582.0 233.4 582.2 231.3 582.4 232.8 582.6 230.2 582.8 234.2 583.0 237.6 583.2 235.4 583.4 234.2 583.6 236.5 583.8 233.2 584.0 233.3 584.2 232.9 584.4 229.6 584.6 233.9 584.8 232.1 585.0 232.6 585.2 234.7 585.4 235.5 585.6 234.3 585.8 235.8 586.0 235.9 586.2 235.6 586.4 238.2 586.6 235.4 586.8 239.1 587.0 240.0 587.2 237.8 587.4 238.7 587.6 237.0 587.8 236.1 588.0 235.7 588.2 235.5 588.4 237.2 588.6 237.8 588.8 236.7 589.0 239.8 589.2 237.6 589.4 233.3 589.6 237.0 589.8 234.4 590.0 234.5 590.2 232.0 590.4 232.8 590.6 237.2 590.8 235.4 591.0 232.8 591.2 233.3 591.4 234.5 591.6 233.4 591.8 235.7 592.0 234.6 592.2 229.5 592.4 231.6 592.6 230.7 592.8 229.5 593.0 231.2 593.2 227.9 593.4 227.1 593.6 228.0 593.8 228.0 594.0 229.2 594.2 232.7 594.4 231.6 594.6 237.1 594.8 236.2 595.0 233.5 595.2 237.2 595.4 235.2 595.6 237.5 595.8 238.0 596.0 236.7 596.2 240.7 596.4 240.0 596.6 242.6 596.8 241.5 597.0 244.9 597.2 245.6 597.4 244.3 597.6 247.5 597.8 246.8 598.0 248.9 598.2 251.2 598.4 249.2 598.6 253.8 598.8 249.2 599.0 255.3 599.2 254.8 599.4 252.2 599.6 253.2 599.8 259.5 600.0 254.3 600.2 258.4 600.4 257.1 600.6 259.4 600.8 259.4 601.0 260.3 601.2 261.3 601.4 262.9 601.6 267.2 601.8 262.9 602.0 264.3 602.2 266.2 602.4 264.8 602.6 265.4 602.8 262.6 603.0 263.4 603.2 266.3 603.4 265.7 603.6 268.8 603.8 270.3 604.0 270.9 604.2 273.5 604.4 266.6 604.6 271.0 604.8 270.3 605.0 270.5 605.2 270.7 605.4 271.7 605.6 273.4 605.8 270.0 606.0 275.8 606.2 274.4 606.4 276.0 606.6 276.1 606.8 279.3 607.0 278.9 607.2 280.3 607.4 279.2 607.6 283.9 607.8 281.7 608.0 281.2 608.2 281.6 608.4 285.7 608.6 288.1 608.8 287.6 609.0 288.7 609.2 284.1 609.4 284.8 609.6 285.4 609.8 289.4 610.0 287.8 610.2 289.3 610.4 287.4 610.6 290.4 610.8 289.5 611.0 295.8 611.2 292.0 611.4 287.8 611.6 289.7 611.8 285.9 612.0 284.7 612.2 284.0 612.4 279.3 612.6 284.5 612.8 284.7 613.0 281.3 613.2 283.2 613.4 280.7 613.6 284.8 613.8 284.7 614.0 285.3 614.2 284.1 614.4 285.7 614.6 284.5 614.8 287.0 615.0 286.6 615.2 287.8 615.4 287.8 615.6 284.4 615.8 287.0 616.0 289.9 616.2 293.2 616.4 289.8 616.6 290.2 616.8 292.1 617.0 286.0 617.2 290.0 617.4 286.6 617.6 289.4 617.8 288.9 618.0 287.4 618.2 286.2 618.4 289.0 618.6 278.5 618.8 279.7 619.0 280.9 619.2 277.5 619.4 273.8 619.6 274.1 619.8 276.5 620.0 276.7 620.2 281.3 620.4 280.7 620.6 285.6 620.8 289.1 621.0 288.6 621.2 291.5 621.4 291.3 621.6 292.2 621.8 293.3 622.0 293.8 622.2 296.5 622.4 294.1 622.6 295.4 622.8 296.7 623.0 297.2 623.2 295.8 623.4 297.2 623.6 296.1 623.8 299.8 624.0 299.7 624.2 294.8 624.4 299.1 624.6 298.4 624.8 300.5 625.0 297.0 625.2 296.7 625.4 294.5 625.6 299.3 625.8 302.2 626.0 298.5 626.2 299.9 626.4 301.2 626.6 298.9 626.8 298.0 627.0 296.2 627.2 297.7 627.4 294.8 627.6 297.3 627.8 294.5 628.0 296.7 628.2 295.5 628.4 290.7 628.6 292.4 628.8 293.2 629.0 293.1 629.2 294.6 629.4 297.4 629.6 291.4 629.8 293.8 630.0 294.4 630.2 294.6 630.4 294.8 630.6 293.9 630.8 293.6 631.0 293.4 631.2 296.1 631.4 296.3 631.6 291.3 631.8 292.3 632.0 290.3 632.2 290.3 632.4 293.0 632.6 292.8 632.8 292.1 633.0 295.8 633.2 298.3 633.4 294.2 633.6 292.2 633.8 292.5 634.0 293.2 634.2 289.6 634.4 289.1 634.6 290.8 634.8 288.7 635.0 286.4 635.2 289.7 635.4 286.7 635.6 290.6 635.8 287.3 636.0 283.3 636.2 285.7 636.4 288.9 636.6 290.2 636.8 286.5 637.0 285.8 637.2 289.4 637.4 284.2 637.6 287.2 637.8 283.3 638.0 282.3 638.2 283.8 638.4 285.4 638.6 285.7 638.8 284.4 639.0 284.9 639.2 282.7 639.4 285.9 639.6 282.8 639.8 283.6 640.0 279.8 640.2 281.4 640.4 279.1 640.6 281.2 640.8 278.0 641.0 283.6 641.2 283.3 641.4 283.1 641.6 283.4 641.8 283.3 642.0 279.1 642.2 278.0 642.4 277.0 642.6 277.5 642.8 276.6 643.0 278.4 643.2 282.6 643.4 281.1 643.6 278.9 643.8 280.7 644.0 277.7 644.2 278.7 644.4 279.7 644.6 277.7 644.8 273.9 645.0 273.8 645.2 275.5 645.4 274.9 645.6 279.0 645.8 276.4 646.0 276.3 646.2 273.5 646.4 273.3 646.6 273.1 646.8 272.0 647.0 269.3 647.2 271.1 647.4 270.6 647.6 268.8 647.8 270.1 648.0 268.1 648.2 269.5 648.4 266.2 648.6 269.3 648.8 266.1 649.0 267.1 649.2 269.2 649.4 270.2 649.6 269.8 649.8 268.3 650.0 271.3 650.2 272.0 650.4 269.2 650.6 272.3 650.8 268.2 651.0 268.4 651.2 266.1 651.4 267.2 651.6 266.3 651.8 267.9 652.0 269.3 652.2 268.1 652.4 270.3 652.6 270.5 652.8 271.2 653.0 269.6 653.2 267.4 653.4 266.7 653.6 265.3 653.8 265.0 654.0 264.7 654.2 269.3 654.4 265.8 654.6 267.8 654.8 270.0 655.0 267.5 655.2 267.2 655.4 268.8 655.6 270.0 655.8 264.4 656.0 264.1 656.2 264.5 656.4 265.0 656.6 264.4 656.8 261.2 657.0 262.1 657.2 262.7 657.4 260.5 657.6 262.4 657.8 262.5 658.0 263.8 658.2 262.7 658.4 259.4 658.6 261.1 658.8 259.2 659.0 260.2 659.2 262.2 659.4 259.8 659.6 258.7 659.8 262.8 660.0 260.9 660.2 260.5 660.4 259.7 660.6 264.8 660.8 260.9 661.0 259.5 661.2 263.2 661.4 263.9 661.6 264.5 661.8 267.9 662.0 271.3 662.2 273.3 662.4 277.1 662.6 278.9 662.8 279.0 663.0 278.5 663.2 282.1 663.4 285.7 663.6 283.5 663.8 284.1 664.0 286.7 664.2 286.1 664.4 284.2 664.6 283.7 664.8 282.2 665.0 280.8 665.2 281.6 665.4 281.8 665.6 281.9 665.8 280.0 666.0 277.2 666.2 277.4 666.4 279.0 666.6 276.9 666.8 276.5 667.0 278.0 667.2 277.1 667.4 275.4 667.6 271.8 667.8 266.5 668.0 271.6 668.2 268.4 668.4 267.5 668.6 264.2 668.8 266.2 669.0 266.0 669.2 264.7 669.4 262.9 669.6 261.4 669.8 262.8 670.0 261.2 670.2 263.3 670.4 256.6 670.6 257.1 670.8 257.3 671.0 254.2 671.2 256.0 671.4 255.5 671.6 256.6 671.8 257.5 672.0 258.3 672.2 258.8 672.4 258.0 672.6 258.2 672.8 256.4 673.0 250.4 673.2 256.7 673.4 256.3 673.6 260.4 673.8 262.4 674.0 264.1 674.2 261.9 674.4 261.5 674.6 259.5 674.8 261.6 675.0 260.5 675.2 259.5 675.4 258.0 675.6 258.2 675.8 257.8 676.0 260.8 676.2 259.4 676.4 259.0 676.6 262.7 676.8 263.4 677.0 264.3 677.2 263.4 677.4 264.2 677.6 264.8 677.8 265.7 678.0 263.5 678.2 267.3 678.4 267.3 678.6 270.4 678.8 262.4 679.0 263.7 679.2 263.0 679.4 266.7 679.6 264.9 679.8 261.9 680.0 264.4 680.2 263.9 680.4 261.4 680.6 262.1 680.8 259.3 681.0 259.2 681.2 258.5 681.4 260.2 681.6 257.3 681.8 260.3 682.0 259.3 682.2 264.1 682.4 257.1 682.6 261.0 682.8 263.1 683.0 264.7 683.2 263.8 683.4 267.2 683.6 262.6 683.8 262.9" fill="none" stroke="#77AC30" stroke-width="1.65" stroke-linejoin="round"/><path d="M69.5 23.0H684.5M69.5 325.0H684.5" stroke="#262626" stroke-width="1.3" fill="none"/><path d="M69.5 22.4V325.6M684.5 22.4V325.6" stroke="#262626" stroke-width="1" fill="none"/><path d="M69.50 325.0v-6.3M69.50 23.0v6.3M168.65 325.0v-6.3M168.65 23.0v6.3M267.80 325.0v-6.3M267.80 23.0v6.3M366.95 325.0v-6.3M366.95 23.0v6.3M466.10 325.0v-6.3M466.10 23.0v6.3M565.25 325.0v-6.3M565.25 23.0v6.3M664.40 325.0v-6.3M664.40 23.0v6.3M69.5 297.10h6.3M684.5 297.10h-6.3M69.5 254.15h6.3M684.5 254.15h-6.3M69.5 211.20h6.3M684.5 211.20h-6.3M69.5 168.25h6.3M684.5 168.25h-6.3M69.5 125.30h6.3M684.5 125.30h-6.3M69.5 82.35h6.3M684.5 82.35h-6.3M69.5 39.40h6.3M684.5 39.40h-6.3" stroke="#262626" stroke-width="1" fill="none"/><text x="69.50" y="349" font-family="Liberation Sans, sans-serif" font-size="16" text-anchor="middle" fill="#000">0</text><text x="168.65" y="349" font-family="Liberation Sans, sans-serif" font-size="16" text-anchor="middle" fill="#000">5</text><text x="267.80" y="349" font-family="Liberation Sans, sans-serif" font-size="16" text-anchor="middle" fill="#000">10</text><text x="366.95" y="349" font-family="Liberation Sans, sans-serif" font-size="16" text-anchor="middle" fill="#000">15</text><text x="466.10" y="349" font-family="Liberation Sans, sans-serif" font-size="16" text-anchor="middle" fill="#000">20</text><text x="565.25" y="349" font-family="Liberation Sans, sans-serif" font-size="16" text-anchor="middle" fill="#000">25</text><text x="664.40" y="349" font-family="Liberation Sans, sans-serif" font-size="16" text-anchor="middle" fill="#000">30</text><text x="61.5" y="303.30" font-family="Liberation Sans, sans-serif" font-size="16" text-anchor="end" fill="#000">0.8</text><text x="61.5" y="260.35" font-family="Liberation Sans, sans-serif" font-size="16" text-anchor="end" fill="#000">0.85</text><text x="61.5" y="217.40" font-family="Liberation Sans, sans-serif" font-size="16" text-anchor="end" fill="#000">0.9</text><text x="61.5" y="174.45" font-family="Liberation Sans, sans-serif" font-size="16" text-anchor="end" fill="#000">0.95</text><text x="61.5" y="131.50" font-family="Liberation Sans, sans-serif" font-size="16" text-anchor="end" fill="#000">1</text><text x="61.5" y="88.55" font-family="Liberation Sans, sans-serif" font-size="16" text-anchor="end" fill="#000">1.05</text><text x="61.5" y="45.60" font-family="Liberation Sans, sans-serif" font-size="16" text-anchor="end" fill="#000">1.1</text><text x="373.3" y="16.3" font-family="Liberation Sans, sans-serif" font-size="18" text-anchor="middle" fill="#000">Down-trend with low volatility</text><text x="378" y="372" font-family="Liberation Sans, sans-serif" font-size="18" text-anchor="middle" fill="#000">Time (days)</text><text transform="translate(15.8,174) rotate(-90)" font-family="Liberation Sans, sans-serif" font-size="18" text-anchor="middle" fill="#000">Price ratio (P<tspan font-size="15" dy="8.1">i</tspan><tspan dy="-8.1"> / BTC)</tspan></text><rect x="82.5" y="290.3" width="490.7" height="24" fill="#fff" stroke="#262626" stroke-width="1"/><path d="M89 302.3H138.5" stroke="#0072BD" stroke-width="1.4"/><text x="144" y="307.7" font-family="Liberation Sans, sans-serif" font-size="14.7" fill="#000">ADA</text><path d="M185.4 302.3H234.9" stroke="#D95319" stroke-width="1.4"/><text x="239.8" y="307.7" font-family="Liberation Sans, sans-serif" font-size="14.7" fill="#000">ALGO</text><path d="M293.5 302.3H343.0" stroke="#EDB120" stroke-width="1.4"/><text x="348" y="307.7" font-family="Liberation Sans, sans-serif" font-size="14.7" fill="#000">EOS</text><path d="M391 302.3H440.5" stroke="#7E2F8E" stroke-width="1.4"/><text x="445.5" y="307.7" font-family="Liberation Sans, sans-serif" font-size="14.7" fill="#000">LTC</text><path d="M486 302.3H535.5" stroke="#77AC30" stroke-width="1.4"/><text x="540.1" y="307.7" font-family="Liberation Sans, sans-serif" font-size="14.7" fill="#000">XTZ</text></svg></body></html>
